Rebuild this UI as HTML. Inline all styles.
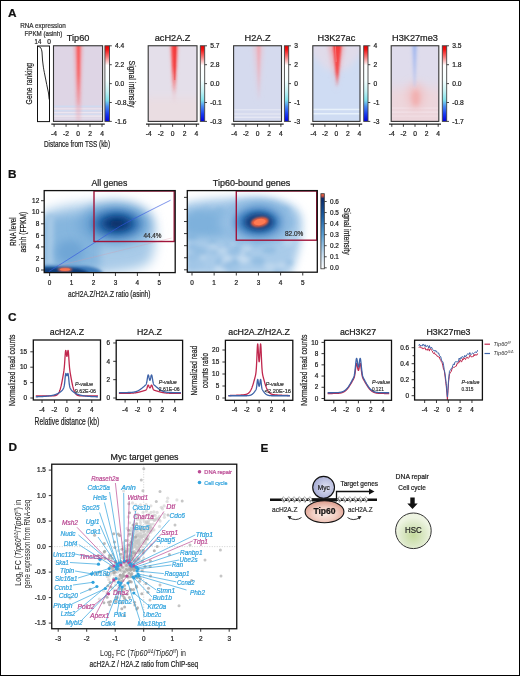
<!DOCTYPE html><html><head><meta charset="utf-8"><style>
html,body{margin:0;padding:0;background:#fff;}
svg{display:block;font-family:"Liberation Sans", sans-serif;will-change:transform;}
text{stroke-width:0.22;paint-order:stroke;}
</style></head><body>
<svg width="520" height="676" viewBox="0 0 520 676">
<defs>
<filter id="b1" x="-50%" y="-50%" width="200%" height="200%"><feGaussianBlur stdDeviation="1"/></filter>
<filter id="b15" x="-50%" y="-50%" width="200%" height="200%"><feGaussianBlur stdDeviation="1.5"/></filter>
<filter id="b2" x="-50%" y="-50%" width="200%" height="200%"><feGaussianBlur stdDeviation="2"/></filter>
<filter id="b3" x="-50%" y="-50%" width="200%" height="200%"><feGaussianBlur stdDeviation="3"/></filter>
<filter id="b4" x="-50%" y="-50%" width="200%" height="200%"><feGaussianBlur stdDeviation="4"/></filter>
<filter id="b6" x="-50%" y="-50%" width="200%" height="200%"><feGaussianBlur stdDeviation="6"/></filter>
<filter id="b8" x="-50%" y="-50%" width="200%" height="200%"><feGaussianBlur stdDeviation="8"/></filter>
<linearGradient id="cbA" x1="0" y1="0" x2="0" y2="1">
<stop offset="0" stop-color="#e80000"/><stop offset="0.05" stop-color="#f41010"/><stop offset="0.14" stop-color="#f87070"/><stop offset="0.26" stop-color="#ffffff"/>
<stop offset="0.45" stop-color="#f6ffff"/><stop offset="0.6" stop-color="#c4f2f4"/><stop offset="0.72" stop-color="#80e2ec"/><stop offset="0.8" stop-color="#4a8cf0"/><stop offset="0.9" stop-color="#1a3cf0"/><stop offset="1" stop-color="#0000e0"/></linearGradient>
<linearGradient id="cbB" x1="0" y1="0" x2="0" y2="1">
<stop offset="0" stop-color="#f06a48"/><stop offset="0.03" stop-color="#d85040"/><stop offset="0.065" stop-color="#0a2a6a"/><stop offset="0.3" stop-color="#1a5ea6"/>
<stop offset="0.55" stop-color="#5aa0d6"/><stop offset="0.8" stop-color="#c4dcf0"/><stop offset="1" stop-color="#ffffff"/></linearGradient>
<radialGradient id="hsc" cx="0.5" cy="0.62" r="0.5"><stop offset="0" stop-color="#c4da9c"/><stop offset="0.6" stop-color="#dbe8c6"/><stop offset="1" stop-color="#eef4e2"/></radialGradient>
<radialGradient id="tipg" cx="0.5" cy="0.6" r="0.6"><stop offset="0" stop-color="#fbece6"/><stop offset="0.5" stop-color="#f2cfc4"/><stop offset="1" stop-color="#dc9a8a"/></radialGradient>
<radialGradient id="mycg" cx="0.6" cy="0.5" r="0.6"><stop offset="0" stop-color="#e0e2f2"/><stop offset="1" stop-color="#a4aad4"/></radialGradient>
<clipPath id="cpB1"><rect x="44" y="190.5" width="131" height="82"/></clipPath>
<clipPath id="cpB2"><rect x="187.3" y="190.5" width="130" height="82"/></clipPath>
</defs>
<rect x="0" y="0" width="520" height="676" fill="#fff"/>

<text x="8" y="17" font-size="11.8" fill="#111" stroke="#111" font-weight="bold">A</text>
<text x="8" y="177.9" font-size="11.8" fill="#111" stroke="#111" font-weight="bold">B</text>
<text x="8" y="321" font-size="11.8" fill="#111" stroke="#111" font-weight="bold">C</text>
<text x="8.5" y="451" font-size="11.8" fill="#111" stroke="#111" font-weight="bold">D</text>
<text x="260.5" y="451.5" font-size="11.8" fill="#111" stroke="#111" font-weight="bold">E</text>
<text x="20.2" y="28.4" font-size="6.9" fill="#333" stroke="#333" textLength="45.6" lengthAdjust="spacingAndGlyphs">RNA expression</text>
<text x="24.5" y="35.9" font-size="6.9" fill="#333" stroke="#333" textLength="37.8" lengthAdjust="spacingAndGlyphs">FPKM (asinh)</text>
<text x="34.6" y="43.6" font-size="6.6" fill="#222" stroke="#222" textLength="6.6" lengthAdjust="spacingAndGlyphs">14</text>
<text x="47.3" y="43.6" font-size="6.6" fill="#222" stroke="#222">0</text>
<rect x="37.5" y="46" width="12" height="75.6" fill="#fff" stroke="#111" stroke-width="1"/>
<path d="M38.2,46.4 C40.6,46.8 41.6,48.5 42,52 L42.5,60 C43.2,66 43.6,69 44.3,72.3 L46.7,84.4 L48.5,93 L49.2,99.5" fill="none" stroke="#111" stroke-width="0.9"/>
<text x="32.2" y="83.7" font-size="9.4" fill="#222" stroke="#222" text-anchor="middle" textLength="41.4" lengthAdjust="spacingAndGlyphs" transform="rotate(-90 32.2 83.7)">Gene ranking</text>
<text x="78.05" y="40.7" font-size="9.2" fill="#1a1a1a" stroke="#1a1a1a" text-anchor="middle">Tip60</text>
<clipPath id="cp_tip"><rect x="53.5" y="45.75" width="49.099999999999994" height="75.65"/></clipPath>
<g clip-path="url(#cp_tip)">
<rect x="53.5" y="45.75" width="49.099999999999994" height="75.65" fill="#ded5e5"/>
<rect x="53.5" y="105.5" width="49.099999999999994" height="1.8" fill="#cfdaf0"/>
<rect x="53.5" y="108.3" width="49.099999999999994" height="1.0" fill="#ebe6f0"/>
<rect x="53.5" y="110" width="49.099999999999994" height="1.6" fill="#d2dbf0"/>
<rect x="53.5" y="112.2" width="49.099999999999994" height="1.0" fill="#efeaf3"/>
<rect x="53.5" y="113.6" width="49.099999999999994" height="1.4" fill="#d4dcf0"/>
<rect x="53.5" y="115.5" width="49.099999999999994" height="1.2" fill="#f0ebf3"/>
<rect x="53.5" y="117.5" width="49.099999999999994" height="1.5" fill="#e2dcea"/>
<linearGradient id="sg_tiph" x1="0" y1="0" x2="0" y2="1"><stop offset="0" stop-color="#eea2ae" stop-opacity="0.9"/><stop offset="0.7" stop-color="#eea2ae" stop-opacity="0.6"/><stop offset="1" stop-color="#eea2ae" stop-opacity="0.3"/></linearGradient>
<path d="M73.90,44.75 L82.90,44.75 L80.65,121.4 L76.15,121.4 Z" fill="url(#sg_tiph)" filter="url(#b15)"/>
<linearGradient id="sg_tipc" x1="0" y1="0" x2="0" y2="1"><stop offset="0" stop-color="#fa5452" stop-opacity="1"/><stop offset="0.5" stop-color="#fa5452" stop-opacity="0.85"/><stop offset="1" stop-color="#fa5452" stop-opacity="0.15"/></linearGradient>
<path d="M76.80,44.75 L80.20,44.75 L79.50,105 L77.50,105 Z" fill="url(#sg_tipc)" filter="url(#b1)"/>
</g>
<rect x="53.5" y="45.75" width="49.099999999999994" height="75.65" fill="none" stroke="#333" stroke-width="1.1"/>
<rect x="104.9" y="45.75" width="4.599999999999994" height="75.65" fill="url(#cbA)" stroke="#444" stroke-width="0.9"/>
<line x1="109.5" y1="45.8" x2="111.8" y2="45.8" stroke="#333" stroke-width="0.9"/>
<text x="115" y="48.0" font-size="6.7" fill="#222" stroke="#222">4.4</text>
<line x1="109.5" y1="64.69999999999999" x2="111.8" y2="64.69999999999999" stroke="#333" stroke-width="0.9"/>
<text x="115" y="66.89999999999999" font-size="6.7" fill="#222" stroke="#222">2.2</text>
<line x1="109.5" y1="83.6" x2="111.8" y2="83.6" stroke="#333" stroke-width="0.9"/>
<text x="115" y="85.8" font-size="6.7" fill="#222" stroke="#222">0.0</text>
<line x1="109.5" y1="102.5" x2="111.8" y2="102.5" stroke="#333" stroke-width="0.9"/>
<text x="115" y="104.7" font-size="6.7" fill="#222" stroke="#222">-0.8</text>
<line x1="109.5" y1="121.39999999999999" x2="111.8" y2="121.39999999999999" stroke="#333" stroke-width="0.9"/>
<text x="115" y="123.6" font-size="6.7" fill="#222" stroke="#222">-1.6</text>
<line x1="51.3" y1="124.2" x2="104.8" y2="124.2" stroke="#222" stroke-width="1.2"/>
<line x1="54.1" y1="124" x2="54.1" y2="126.8" stroke="#222" stroke-width="0.9"/>
<text x="54.1" y="135.9" font-size="6.7" fill="#222" stroke="#222" text-anchor="middle">-4</text>
<line x1="66.075" y1="124" x2="66.075" y2="126.8" stroke="#222" stroke-width="0.9"/>
<text x="66.075" y="135.9" font-size="6.7" fill="#222" stroke="#222" text-anchor="middle">-2</text>
<line x1="78.05" y1="124" x2="78.05" y2="126.8" stroke="#222" stroke-width="0.9"/>
<text x="78.05" y="135.9" font-size="6.7" fill="#222" stroke="#222" text-anchor="middle">0</text>
<line x1="90.025" y1="124" x2="90.025" y2="126.8" stroke="#222" stroke-width="0.9"/>
<text x="90.025" y="135.9" font-size="6.7" fill="#222" stroke="#222" text-anchor="middle">2</text>
<line x1="102.0" y1="124" x2="102.0" y2="126.8" stroke="#222" stroke-width="0.9"/>
<text x="102.0" y="135.9" font-size="6.7" fill="#222" stroke="#222" text-anchor="middle">4</text>
<text x="172.6" y="40.7" font-size="9.2" fill="#1a1a1a" stroke="#1a1a1a" text-anchor="middle">acH2A.Z</text>
<clipPath id="cp_ach"><rect x="148.2" y="45.75" width="48.80000000000001" height="75.65"/></clipPath>
<g clip-path="url(#cp_ach)">
<rect x="148.2" y="45.75" width="48.80000000000001" height="75.65" fill="#e4dfea"/>
<rect x="142.2" y="97.75" width="60.80000000000001" height="75.65" fill="#eadde2" filter="url(#b4)"/>
<linearGradient id="sg_achh" x1="0" y1="0" x2="0" y2="1"><stop offset="0" stop-color="#f0a8ae" stop-opacity="0.9"/><stop offset="0.6" stop-color="#f0a8ae" stop-opacity="0.6"/><stop offset="1" stop-color="#f0a8ae" stop-opacity="0"/></linearGradient>
<path d="M169.70,44.75 L178.70,44.75 L175.45,104 L172.95,104 Z" fill="url(#sg_achh)" filter="url(#b15)"/>
<linearGradient id="sg_achc" x1="0" y1="0" x2="0" y2="1"><stop offset="0" stop-color="#f83c3c" stop-opacity="1"/><stop offset="0.45" stop-color="#f83c3c" stop-opacity="0.9"/><stop offset="0.75" stop-color="#f83c3c" stop-opacity="0.4"/><stop offset="1" stop-color="#f83c3c" stop-opacity="0"/></linearGradient>
<path d="M171.50,44.75 L176.90,44.75 L175.30,94 L173.10,94 Z" fill="url(#sg_achc)" filter="url(#b1)"/>
<line x1="175.2" y1="46" x2="174.8" y2="80" stroke="#e02828" stroke-width="0.8" opacity="0.6"/>
</g>
<rect x="148.2" y="45.75" width="48.80000000000001" height="75.65" fill="none" stroke="#333" stroke-width="1.1"/>
<rect x="200.3" y="45.75" width="4.399999999999977" height="75.65" fill="url(#cbA)" stroke="#444" stroke-width="0.9"/>
<line x1="204.7" y1="45.8" x2="207.0" y2="45.8" stroke="#333" stroke-width="0.9"/>
<text x="210.2" y="48.0" font-size="6.7" fill="#222" stroke="#222">5.7</text>
<line x1="204.7" y1="64.69999999999999" x2="207.0" y2="64.69999999999999" stroke="#333" stroke-width="0.9"/>
<text x="210.2" y="66.89999999999999" font-size="6.7" fill="#222" stroke="#222">2.8</text>
<line x1="204.7" y1="83.6" x2="207.0" y2="83.6" stroke="#333" stroke-width="0.9"/>
<text x="210.2" y="85.8" font-size="6.7" fill="#222" stroke="#222">0.0</text>
<line x1="204.7" y1="102.5" x2="207.0" y2="102.5" stroke="#333" stroke-width="0.9"/>
<text x="210.2" y="104.7" font-size="6.7" fill="#222" stroke="#222">-0.1</text>
<line x1="204.7" y1="121.39999999999999" x2="207.0" y2="121.39999999999999" stroke="#333" stroke-width="0.9"/>
<text x="210.2" y="123.6" font-size="6.7" fill="#222" stroke="#222">-0.3</text>
<line x1="146.0" y1="124.2" x2="199.2" y2="124.2" stroke="#222" stroke-width="1.2"/>
<line x1="148.79999999999998" y1="124" x2="148.79999999999998" y2="126.8" stroke="#222" stroke-width="0.9"/>
<text x="148.79999999999998" y="135.9" font-size="6.7" fill="#222" stroke="#222" text-anchor="middle">-4</text>
<line x1="160.7" y1="124" x2="160.7" y2="126.8" stroke="#222" stroke-width="0.9"/>
<text x="160.7" y="135.9" font-size="6.7" fill="#222" stroke="#222" text-anchor="middle">-2</text>
<line x1="172.6" y1="124" x2="172.6" y2="126.8" stroke="#222" stroke-width="0.9"/>
<text x="172.6" y="135.9" font-size="6.7" fill="#222" stroke="#222" text-anchor="middle">0</text>
<line x1="184.5" y1="124" x2="184.5" y2="126.8" stroke="#222" stroke-width="0.9"/>
<text x="184.5" y="135.9" font-size="6.7" fill="#222" stroke="#222" text-anchor="middle">2</text>
<line x1="196.39999999999998" y1="124" x2="196.39999999999998" y2="126.8" stroke="#222" stroke-width="0.9"/>
<text x="196.39999999999998" y="135.9" font-size="6.7" fill="#222" stroke="#222" text-anchor="middle">4</text>
<text x="257.55" y="40.7" font-size="9.2" fill="#1a1a1a" stroke="#1a1a1a" text-anchor="middle">H2A.Z</text>
<clipPath id="cp_h2a"><rect x="233.6" y="45.75" width="47.900000000000006" height="75.65"/></clipPath>
<g clip-path="url(#cp_h2a)">
<rect x="233.6" y="45.75" width="47.900000000000006" height="75.65" fill="#d5daee"/>
<rect x="233.6" y="109" width="47.900000000000006" height="1.4" fill="#e2e5f3"/>
<rect x="233.6" y="113.3" width="47.900000000000006" height="1.4" fill="#e4e7f3"/>
<rect x="233.6" y="116.6" width="47.900000000000006" height="1.4" fill="#e6e8f4"/>
<linearGradient id="sg_h2ah" x1="0" y1="0" x2="0" y2="1"><stop offset="0" stop-color="#e9c0cc" stop-opacity="0.85"/><stop offset="1" stop-color="#e9c0cc" stop-opacity="0.0"/></linearGradient>
<path d="M253.40,44.75 L263.40,44.75 L259.90,104 L256.90,104 Z" fill="url(#sg_h2ah)" filter="url(#b2)"/>
<linearGradient id="sg_h2ac" x1="0" y1="0" x2="0" y2="1"><stop offset="0" stop-color="#f2a2ac" stop-opacity="0.9"/><stop offset="1" stop-color="#f2a2ac" stop-opacity="0.1"/></linearGradient>
<path d="M257.30,44.75 L260.30,44.75 L259.55,98 L258.05,98 Z" fill="url(#sg_h2ac)" filter="url(#b1)"/>
</g>
<rect x="233.6" y="45.75" width="47.900000000000006" height="75.65" fill="none" stroke="#333" stroke-width="1.1"/>
<rect x="284.4" y="45.75" width="4.300000000000011" height="75.65" fill="url(#cbA)" stroke="#444" stroke-width="0.9"/>
<line x1="288.7" y1="45.8" x2="291.0" y2="45.8" stroke="#333" stroke-width="0.9"/>
<text x="294.2" y="48.0" font-size="6.7" fill="#222" stroke="#222">3</text>
<line x1="288.7" y1="64.69999999999999" x2="291.0" y2="64.69999999999999" stroke="#333" stroke-width="0.9"/>
<text x="294.2" y="66.89999999999999" font-size="6.7" fill="#222" stroke="#222">2</text>
<line x1="288.7" y1="83.6" x2="291.0" y2="83.6" stroke="#333" stroke-width="0.9"/>
<text x="294.2" y="85.8" font-size="6.7" fill="#222" stroke="#222">0</text>
<line x1="288.7" y1="102.5" x2="291.0" y2="102.5" stroke="#333" stroke-width="0.9"/>
<text x="294.2" y="104.7" font-size="6.7" fill="#222" stroke="#222">-1</text>
<line x1="288.7" y1="121.39999999999999" x2="291.0" y2="121.39999999999999" stroke="#333" stroke-width="0.9"/>
<text x="294.2" y="123.6" font-size="6.7" fill="#222" stroke="#222">-3</text>
<line x1="231.4" y1="124.2" x2="283.7" y2="124.2" stroke="#222" stroke-width="1.2"/>
<line x1="234.2" y1="124" x2="234.2" y2="126.8" stroke="#222" stroke-width="0.9"/>
<text x="234.2" y="135.9" font-size="6.7" fill="#222" stroke="#222" text-anchor="middle">-4</text>
<line x1="245.875" y1="124" x2="245.875" y2="126.8" stroke="#222" stroke-width="0.9"/>
<text x="245.875" y="135.9" font-size="6.7" fill="#222" stroke="#222" text-anchor="middle">-2</text>
<line x1="257.55" y1="124" x2="257.55" y2="126.8" stroke="#222" stroke-width="0.9"/>
<text x="257.55" y="135.9" font-size="6.7" fill="#222" stroke="#222" text-anchor="middle">0</text>
<line x1="269.225" y1="124" x2="269.225" y2="126.8" stroke="#222" stroke-width="0.9"/>
<text x="269.225" y="135.9" font-size="6.7" fill="#222" stroke="#222" text-anchor="middle">2</text>
<line x1="280.9" y1="124" x2="280.9" y2="126.8" stroke="#222" stroke-width="0.9"/>
<text x="280.9" y="135.9" font-size="6.7" fill="#222" stroke="#222" text-anchor="middle">4</text>
<text x="336.4" y="40.7" font-size="9.2" fill="#1a1a1a" stroke="#1a1a1a" text-anchor="middle">H3K27ac</text>
<clipPath id="cp_k27ac"><rect x="312.8" y="45.75" width="47.19999999999999" height="75.65"/></clipPath>
<g clip-path="url(#cp_k27ac)">
<rect x="312.8" y="45.75" width="47.19999999999999" height="75.65" fill="#cfdcf3"/>
<path d="M309.8,42.75 L363,42.75 L363,51.75 L346.4,69.75 L326.4,69.75 L309.8,51.75 Z" fill="#e0dbea" filter="url(#b3)"/>
<rect x="312.8" y="108.7" width="47.19999999999999" height="1.5" fill="#e8f1fb"/>
<rect x="312.8" y="113" width="47.19999999999999" height="1.5" fill="#e8f1fb"/>
<linearGradient id="sg_k27h" x1="0" y1="0" x2="0" y2="1"><stop offset="0" stop-color="#eea6ae" stop-opacity="0.95"/><stop offset="1" stop-color="#eea6ae" stop-opacity="0.0"/></linearGradient>
<path d="M328.40,44.75 L344.40,44.75 L337.40,92 L335.40,92 Z" fill="url(#sg_k27h)" filter="url(#b2)"/>
<linearGradient id="sg_k27c" x1="0" y1="0" x2="0" y2="1"><stop offset="0" stop-color="#f63c3c" stop-opacity="1"/><stop offset="0.7" stop-color="#f63c3c" stop-opacity="0.85"/><stop offset="1" stop-color="#f63c3c" stop-opacity="0.2"/></linearGradient>
<path d="M332.95,44.75 L341.45,44.75 L337.70,86 L336.70,86 Z" fill="url(#sg_k27c)" filter="url(#b1)"/>
<line x1="335.4" y1="45.75" x2="336.2" y2="62" stroke="#f8c8cc" stroke-width="0.6" opacity="0.6"/>
</g>
<rect x="312.8" y="45.75" width="47.19999999999999" height="75.65" fill="none" stroke="#333" stroke-width="1.1"/>
<rect x="363.7" y="45.75" width="4.300000000000011" height="75.65" fill="url(#cbA)" stroke="#444" stroke-width="0.9"/>
<line x1="368.0" y1="45.8" x2="370.3" y2="45.8" stroke="#333" stroke-width="0.9"/>
<text x="373.5" y="48.0" font-size="6.7" fill="#222" stroke="#222">4</text>
<line x1="368.0" y1="64.69999999999999" x2="370.3" y2="64.69999999999999" stroke="#333" stroke-width="0.9"/>
<text x="373.5" y="66.89999999999999" font-size="6.7" fill="#222" stroke="#222">2</text>
<line x1="368.0" y1="83.6" x2="370.3" y2="83.6" stroke="#333" stroke-width="0.9"/>
<text x="373.5" y="85.8" font-size="6.7" fill="#222" stroke="#222">0</text>
<line x1="368.0" y1="102.5" x2="370.3" y2="102.5" stroke="#333" stroke-width="0.9"/>
<text x="373.5" y="104.7" font-size="6.7" fill="#222" stroke="#222">-1</text>
<line x1="368.0" y1="121.39999999999999" x2="370.3" y2="121.39999999999999" stroke="#333" stroke-width="0.9"/>
<text x="373.5" y="123.6" font-size="6.7" fill="#222" stroke="#222">-3</text>
<line x1="310.6" y1="124.2" x2="362.2" y2="124.2" stroke="#222" stroke-width="1.2"/>
<line x1="313.40000000000003" y1="124" x2="313.40000000000003" y2="126.8" stroke="#222" stroke-width="0.9"/>
<text x="313.40000000000003" y="135.9" font-size="6.7" fill="#222" stroke="#222" text-anchor="middle">-4</text>
<line x1="324.90000000000003" y1="124" x2="324.90000000000003" y2="126.8" stroke="#222" stroke-width="0.9"/>
<text x="324.90000000000003" y="135.9" font-size="6.7" fill="#222" stroke="#222" text-anchor="middle">-2</text>
<line x1="336.40000000000003" y1="124" x2="336.40000000000003" y2="126.8" stroke="#222" stroke-width="0.9"/>
<text x="336.40000000000003" y="135.9" font-size="6.7" fill="#222" stroke="#222" text-anchor="middle">0</text>
<line x1="347.90000000000003" y1="124" x2="347.90000000000003" y2="126.8" stroke="#222" stroke-width="0.9"/>
<text x="347.90000000000003" y="135.9" font-size="6.7" fill="#222" stroke="#222" text-anchor="middle">2</text>
<line x1="359.40000000000003" y1="124" x2="359.40000000000003" y2="126.8" stroke="#222" stroke-width="0.9"/>
<text x="359.40000000000003" y="135.9" font-size="6.7" fill="#222" stroke="#222" text-anchor="middle">4</text>
<text x="415.0" y="40.7" font-size="9.2" fill="#1a1a1a" stroke="#1a1a1a" text-anchor="middle">H3K27me3</text>
<clipPath id="cp_me3"><rect x="391.2" y="45.75" width="47.60000000000002" height="75.65"/></clipPath>
<g clip-path="url(#cp_me3)">
<rect x="391.2" y="45.75" width="47.60000000000002" height="75.65" fill="#dfdcec"/>
<rect x="385.2" y="87.75" width="59.60000000000002" height="75.65" fill="#edd6dc" filter="url(#b6)"/>
<rect x="391.2" y="107.5" width="47.60000000000002" height="1.2" fill="#f1dfe6"/>
<rect x="391.2" y="111.5" width="47.60000000000002" height="1.2" fill="#f3e2e8"/>
<rect x="391.2" y="115.5" width="47.60000000000002" height="1.2" fill="#f1dde3"/>
<ellipse cx="415.8" cy="96" rx="9" ry="13" fill="#efc4c8" filter="url(#b4)"/>
<ellipse cx="415.8" cy="98" rx="4" ry="8" fill="#f2b0b0" filter="url(#b2)"/>
<linearGradient id="sg_me3bh" x1="0" y1="0" x2="0" y2="1"><stop offset="0" stop-color="#c4cdef" stop-opacity="0.9"/><stop offset="1" stop-color="#c4cdef" stop-opacity="0.2"/></linearGradient>
<path d="M411.10,44.75 L418.10,44.75 L416.10,88 L413.10,88 Z" fill="url(#sg_me3bh)" filter="url(#b15)"/>
<linearGradient id="sg_me3b" x1="0" y1="0" x2="0" y2="1"><stop offset="0" stop-color="#a4b8ee" stop-opacity="1"/><stop offset="1" stop-color="#a4b8ee" stop-opacity="0.3"/></linearGradient>
<path d="M413.00,44.75 L416.20,44.75 L415.30,86 L413.90,86 Z" fill="url(#sg_me3b)" filter="url(#b1)"/>
</g>
<rect x="391.2" y="45.75" width="47.60000000000002" height="75.65" fill="none" stroke="#333" stroke-width="1.1"/>
<rect x="442.3" y="45.75" width="4.399999999999977" height="75.65" fill="url(#cbA)" stroke="#444" stroke-width="0.9"/>
<line x1="446.7" y1="45.8" x2="449.0" y2="45.8" stroke="#333" stroke-width="0.9"/>
<text x="452.2" y="48.0" font-size="6.7" fill="#222" stroke="#222">3.5</text>
<line x1="446.7" y1="64.69999999999999" x2="449.0" y2="64.69999999999999" stroke="#333" stroke-width="0.9"/>
<text x="452.2" y="66.89999999999999" font-size="6.7" fill="#222" stroke="#222">1.8</text>
<line x1="446.7" y1="83.6" x2="449.0" y2="83.6" stroke="#333" stroke-width="0.9"/>
<text x="452.2" y="85.8" font-size="6.7" fill="#222" stroke="#222">0.0</text>
<line x1="446.7" y1="102.5" x2="449.0" y2="102.5" stroke="#333" stroke-width="0.9"/>
<text x="452.2" y="104.7" font-size="6.7" fill="#222" stroke="#222">-0.8</text>
<line x1="446.7" y1="121.39999999999999" x2="449.0" y2="121.39999999999999" stroke="#333" stroke-width="0.9"/>
<text x="452.2" y="123.6" font-size="6.7" fill="#222" stroke="#222">-1.7</text>
<line x1="389.0" y1="124.2" x2="441.0" y2="124.2" stroke="#222" stroke-width="1.2"/>
<line x1="391.8" y1="124" x2="391.8" y2="126.8" stroke="#222" stroke-width="0.9"/>
<text x="391.8" y="135.9" font-size="6.7" fill="#222" stroke="#222" text-anchor="middle">-4</text>
<line x1="403.40000000000003" y1="124" x2="403.40000000000003" y2="126.8" stroke="#222" stroke-width="0.9"/>
<text x="403.40000000000003" y="135.9" font-size="6.7" fill="#222" stroke="#222" text-anchor="middle">-2</text>
<line x1="415.0" y1="124" x2="415.0" y2="126.8" stroke="#222" stroke-width="0.9"/>
<text x="415.0" y="135.9" font-size="6.7" fill="#222" stroke="#222" text-anchor="middle">0</text>
<line x1="426.6" y1="124" x2="426.6" y2="126.8" stroke="#222" stroke-width="0.9"/>
<text x="426.6" y="135.9" font-size="6.7" fill="#222" stroke="#222" text-anchor="middle">2</text>
<line x1="438.20000000000005" y1="124" x2="438.20000000000005" y2="126.8" stroke="#222" stroke-width="0.9"/>
<text x="438.20000000000005" y="135.9" font-size="6.7" fill="#222" stroke="#222" text-anchor="middle">4</text>
<text x="129.3" y="60.5" font-size="9.4" fill="#222" stroke="#222" textLength="47" lengthAdjust="spacingAndGlyphs" transform="rotate(90 129.3 60.5)">Signal intensity</text>
<text x="44" y="147.4" font-size="9.8" fill="#222" stroke="#222" textLength="66" lengthAdjust="spacingAndGlyphs">Distance from TSS (kb)</text>
<text x="109.4" y="185.8" font-size="9" fill="#1a1a1a" stroke="#1a1a1a" text-anchor="middle" textLength="35.8" lengthAdjust="spacingAndGlyphs">All genes</text>
<text x="251.5" y="186" font-size="9" fill="#1a1a1a" stroke="#1a1a1a" text-anchor="middle" textLength="77.5" lengthAdjust="spacingAndGlyphs">Tip60-bound genes</text>
<g clip-path="url(#cpB1)">
<rect x="44" y="190" width="132" height="83" fill="#fff"/>
<path d="M40,214 C55,206 80,203 100,204 C125,202 140,206 150,215 C158,228 156,250 150,262 C140,272 100,276 40,276 Z" fill="#a9cbe8" filter="url(#b6)"/>
<path d="M40,222 C60,214 85,214 100,218 L100,268 L40,268 Z" fill="#86b6de" filter="url(#b4)"/>
<rect x="46" y="215" width="8" height="50" fill="#a4c8e6" filter="url(#b2)"/>
<ellipse cx="70" cy="252" rx="14" ry="12" fill="#6fa6d6" filter="url(#b4)"/>
<ellipse cx="115" cy="224" rx="36" ry="21" fill="#6fa6d6" filter="url(#b6)"/>
<ellipse cx="116" cy="223.8" rx="24" ry="13" fill="#2a6aae" filter="url(#b4)"/>
<ellipse cx="116.8" cy="223.6" rx="15" ry="8" fill="#0c4282" filter="url(#b3)"/>
<ellipse cx="116.8" cy="223.6" rx="7" ry="3.6" fill="#08336c" filter="url(#b2)"/>
<path d="M40,265.5 L85,266 C95,267 100,269 104,274 L40,275 Z" fill="#3a78b8" filter="url(#b15)"/>
<path d="M40,267.5 L70,268 C80,268.5 86,270 90,274 L40,275 Z" fill="#0f3c7a" filter="url(#b1)"/>
<ellipse cx="65" cy="269.6" rx="7.3" ry="2" fill="#f26a48" filter="url(#b1)"/>
<ellipse cx="65" cy="269.6" rx="5" ry="1.3" fill="#fa7450"/>
<path d="M48.6,271.8 L96.3,241.6 C105,236 112,231 120.9,225.8 C135,218 150,210.5 170.6,200.2" fill="none" stroke="#3456e0" stroke-width="0.75" opacity="0.85"/>
<line x1="58" y1="265.8" x2="171.6" y2="238" stroke="#d898a8" stroke-width="0.5" opacity="0.6"/>
</g>
<rect x="94" y="191" width="80.2" height="50.5" fill="none" stroke="#a0143a" stroke-width="1.4"/>
<rect x="44.2" y="190.6" width="131" height="82" fill="none" stroke="#111" stroke-width="1.3"/>
<text x="143.5" y="237.6" font-size="6.4" fill="#333" stroke="#333" textLength="18" lengthAdjust="spacingAndGlyphs">44.4%</text>
<line x1="41" y1="270.0" x2="44" y2="270.0" stroke="#222" stroke-width="0.9"/>
<text x="39.2" y="272.2" font-size="6.4" fill="#222" stroke="#222" text-anchor="end">0</text>
<line x1="41" y1="258.45" x2="44" y2="258.45" stroke="#222" stroke-width="0.9"/>
<text x="39.2" y="260.65" font-size="6.4" fill="#222" stroke="#222" text-anchor="end">2</text>
<line x1="41" y1="246.9" x2="44" y2="246.9" stroke="#222" stroke-width="0.9"/>
<text x="39.2" y="249.1" font-size="6.4" fill="#222" stroke="#222" text-anchor="end">4</text>
<line x1="41" y1="235.35" x2="44" y2="235.35" stroke="#222" stroke-width="0.9"/>
<text x="39.2" y="237.54999999999998" font-size="6.4" fill="#222" stroke="#222" text-anchor="end">6</text>
<line x1="41" y1="223.8" x2="44" y2="223.8" stroke="#222" stroke-width="0.9"/>
<text x="39.2" y="226.0" font-size="6.4" fill="#222" stroke="#222" text-anchor="end">8</text>
<line x1="41" y1="212.25" x2="44" y2="212.25" stroke="#222" stroke-width="0.9"/>
<text x="39.2" y="214.45" font-size="6.4" fill="#222" stroke="#222" text-anchor="end">10</text>
<line x1="41" y1="200.7" x2="44" y2="200.7" stroke="#222" stroke-width="0.9"/>
<text x="39.2" y="202.89999999999998" font-size="6.4" fill="#222" stroke="#222" text-anchor="end">12</text>
<line x1="49.6" y1="273" x2="49.6" y2="276" stroke="#222" stroke-width="0.9"/>
<text x="49.6" y="284.6" font-size="6.4" fill="#222" stroke="#222" text-anchor="middle">0</text>
<line x1="71.55" y1="273" x2="71.55" y2="276" stroke="#222" stroke-width="0.9"/>
<text x="71.55" y="284.6" font-size="6.4" fill="#222" stroke="#222" text-anchor="middle">1</text>
<line x1="93.5" y1="273" x2="93.5" y2="276" stroke="#222" stroke-width="0.9"/>
<text x="93.5" y="284.6" font-size="6.4" fill="#222" stroke="#222" text-anchor="middle">2</text>
<line x1="115.44999999999999" y1="273" x2="115.44999999999999" y2="276" stroke="#222" stroke-width="0.9"/>
<text x="115.44999999999999" y="284.6" font-size="6.4" fill="#222" stroke="#222" text-anchor="middle">3</text>
<line x1="137.4" y1="273" x2="137.4" y2="276" stroke="#222" stroke-width="0.9"/>
<text x="137.4" y="284.6" font-size="6.4" fill="#222" stroke="#222" text-anchor="middle">4</text>
<line x1="159.35" y1="273" x2="159.35" y2="276" stroke="#222" stroke-width="0.9"/>
<text x="159.35" y="284.6" font-size="6.4" fill="#222" stroke="#222" text-anchor="middle">5</text>
<text x="15.6" y="231.6" font-size="9.7" fill="#222" stroke="#222" text-anchor="middle" textLength="28.8" lengthAdjust="spacingAndGlyphs" transform="rotate(-90 15.6 231.6)">RNA level</text>
<text x="26" y="232.2" font-size="9.7" fill="#222" stroke="#222" text-anchor="middle" textLength="40.7" lengthAdjust="spacingAndGlyphs" transform="rotate(-90 26 232.2)">asinh (FPKM)</text>
<text x="68.1" y="297" font-size="9.4" fill="#222" stroke="#222" textLength="82.3" lengthAdjust="spacingAndGlyphs">acH2A.Z/H2A.Z ratio (asinh)</text>
<g clip-path="url(#cpB2)">
<rect x="187" y="190" width="131" height="83" fill="#fff"/>
<path d="M183,204 C200,199 230,197 260,199 C285,200 300,205 302,220 C303,240 296,262 290,276 L183,276 Z" fill="#a9cbe9" filter="url(#b4)"/>
<g filter="url(#b2)">
<ellipse cx="212.7" cy="241.9" rx="4.4" ry="2.9" fill="#8cb9e0" opacity="0.7"/>
<ellipse cx="237.3" cy="244.3" rx="5.3" ry="3.5" fill="#d0e3f3" opacity="0.7"/>
<ellipse cx="215.0" cy="221.5" rx="6.7" ry="4.5" fill="#d0e3f3" opacity="0.7"/>
<ellipse cx="244.3" cy="242.3" rx="4.5" ry="3.0" fill="#9cc3e5" opacity="0.7"/>
<ellipse cx="212.1" cy="216.0" rx="6.5" ry="4.3" fill="#d0e3f3" opacity="0.7"/>
<ellipse cx="265.1" cy="250.3" rx="3.2" ry="2.2" fill="#8cb9e0" opacity="0.7"/>
<ellipse cx="192.5" cy="257.5" rx="6.1" ry="4.1" fill="#94bee3" opacity="0.7"/>
<ellipse cx="237.2" cy="253.4" rx="6.3" ry="4.2" fill="#d0e3f3" opacity="0.7"/>
<ellipse cx="229.1" cy="258.9" rx="4.7" ry="3.1" fill="#9cc3e5" opacity="0.7"/>
<ellipse cx="279.4" cy="212.4" rx="3.5" ry="2.3" fill="#9cc3e5" opacity="0.7"/>
<ellipse cx="214.8" cy="250.4" rx="5.9" ry="3.9" fill="#94bee3" opacity="0.7"/>
<ellipse cx="231.8" cy="261.0" rx="5.2" ry="3.4" fill="#8cb9e0" opacity="0.7"/>
<ellipse cx="248.8" cy="244.6" rx="6.4" ry="4.3" fill="#c4dcf0" opacity="0.7"/>
<ellipse cx="277.1" cy="271.4" rx="5.5" ry="3.7" fill="#9cc3e5" opacity="0.7"/>
<ellipse cx="260.7" cy="227.5" rx="5.0" ry="3.4" fill="#8cb9e0" opacity="0.7"/>
<ellipse cx="247.2" cy="253.1" rx="3.8" ry="2.5" fill="#8cb9e0" opacity="0.7"/>
<ellipse cx="215.8" cy="214.2" rx="4.8" ry="3.2" fill="#d0e3f3" opacity="0.7"/>
<ellipse cx="197.2" cy="258.8" rx="4.5" ry="3.0" fill="#9cc3e5" opacity="0.7"/>
<ellipse cx="190.1" cy="234.2" rx="4.6" ry="3.0" fill="#c4dcf0" opacity="0.7"/>
<ellipse cx="192.6" cy="246.6" rx="3.2" ry="2.1" fill="#8cb9e0" opacity="0.7"/>
<ellipse cx="222.4" cy="264.1" rx="6.7" ry="4.5" fill="#8cb9e0" opacity="0.7"/>
<ellipse cx="212.5" cy="208.4" rx="3.0" ry="2.0" fill="#c4dcf0" opacity="0.7"/>
<ellipse cx="250.4" cy="208.1" rx="3.7" ry="2.5" fill="#d0e3f3" opacity="0.7"/>
<ellipse cx="218.3" cy="223.4" rx="5.6" ry="3.7" fill="#94bee3" opacity="0.7"/>
<ellipse cx="220.6" cy="269.3" rx="6.4" ry="4.2" fill="#d0e3f3" opacity="0.7"/>
<ellipse cx="227.2" cy="263.4" rx="4.4" ry="3.0" fill="#8cb9e0" opacity="0.7"/>
<ellipse cx="258.8" cy="212.8" rx="6.6" ry="4.4" fill="#8cb9e0" opacity="0.7"/>
<ellipse cx="216.2" cy="247.9" rx="5.7" ry="3.8" fill="#94bee3" opacity="0.7"/>
<ellipse cx="233.5" cy="223.0" rx="4.1" ry="2.8" fill="#94bee3" opacity="0.7"/>
<ellipse cx="189.2" cy="233.4" rx="5.2" ry="3.4" fill="#c4dcf0" opacity="0.7"/>
<ellipse cx="227.2" cy="244.9" rx="3.5" ry="2.3" fill="#94bee3" opacity="0.7"/>
<ellipse cx="236.5" cy="250.8" rx="4.3" ry="2.9" fill="#94bee3" opacity="0.7"/>
<ellipse cx="264.8" cy="207.5" rx="3.2" ry="2.2" fill="#c4dcf0" opacity="0.7"/>
<ellipse cx="288.2" cy="222.6" rx="4.7" ry="3.1" fill="#8cb9e0" opacity="0.7"/>
<ellipse cx="250.6" cy="217.7" rx="3.7" ry="2.5" fill="#94bee3" opacity="0.7"/>
<ellipse cx="275.8" cy="223.4" rx="6.0" ry="4.0" fill="#c4dcf0" opacity="0.7"/>
<ellipse cx="268.3" cy="207.8" rx="5.1" ry="3.4" fill="#9cc3e5" opacity="0.7"/>
<ellipse cx="220.2" cy="220.7" rx="6.0" ry="4.0" fill="#9cc3e5" opacity="0.7"/>
<ellipse cx="222.1" cy="250.8" rx="5.4" ry="3.6" fill="#c4dcf0" opacity="0.7"/>
<ellipse cx="198.6" cy="227.2" rx="4.3" ry="2.8" fill="#9cc3e5" opacity="0.7"/>
<ellipse cx="233.6" cy="262.5" rx="3.6" ry="2.4" fill="#94bee3" opacity="0.7"/>
<ellipse cx="265.2" cy="220.4" rx="5.1" ry="3.4" fill="#94bee3" opacity="0.7"/>
<ellipse cx="211.4" cy="214.0" rx="5.0" ry="3.3" fill="#9cc3e5" opacity="0.7"/>
<ellipse cx="220.8" cy="261.2" rx="5.2" ry="3.4" fill="#94bee3" opacity="0.7"/>
<ellipse cx="223.4" cy="260.6" rx="3.3" ry="2.2" fill="#8cb9e0" opacity="0.7"/>
<ellipse cx="223.9" cy="214.6" rx="4.1" ry="2.7" fill="#94bee3" opacity="0.7"/>
<ellipse cx="236.3" cy="247.9" rx="4.1" ry="2.7" fill="#8cb9e0" opacity="0.7"/>
<ellipse cx="230.6" cy="266.8" rx="3.6" ry="2.4" fill="#c4dcf0" opacity="0.7"/>
<ellipse cx="237.6" cy="260.9" rx="5.3" ry="3.6" fill="#8cb9e0" opacity="0.7"/>
<ellipse cx="233.2" cy="268.7" rx="6.5" ry="4.3" fill="#9cc3e5" opacity="0.7"/>
<ellipse cx="191.4" cy="236.1" rx="5.8" ry="3.9" fill="#8cb9e0" opacity="0.7"/>
<ellipse cx="288.2" cy="241.9" rx="6.3" ry="4.2" fill="#c4dcf0" opacity="0.7"/>
<ellipse cx="277.2" cy="270.1" rx="3.4" ry="2.3" fill="#9cc3e5" opacity="0.7"/>
<ellipse cx="192.7" cy="265.6" rx="5.6" ry="3.7" fill="#9cc3e5" opacity="0.7"/>
<ellipse cx="281.2" cy="265.4" rx="5.2" ry="3.4" fill="#c4dcf0" opacity="0.7"/>
<ellipse cx="238.0" cy="214.0" rx="4.9" ry="3.3" fill="#9cc3e5" opacity="0.7"/>
<ellipse cx="256.9" cy="240.6" rx="4.6" ry="3.0" fill="#8cb9e0" opacity="0.7"/>
<ellipse cx="199.8" cy="214.3" rx="6.6" ry="4.4" fill="#8cb9e0" opacity="0.7"/>
<ellipse cx="237.6" cy="257.6" rx="4.3" ry="2.9" fill="#9cc3e5" opacity="0.7"/>
<ellipse cx="200.7" cy="264.6" rx="3.4" ry="2.3" fill="#9cc3e5" opacity="0.7"/>
<ellipse cx="270.3" cy="266.8" rx="6.0" ry="4.0" fill="#c4dcf0" opacity="0.7"/>
<ellipse cx="238.7" cy="243.7" rx="4.5" ry="3.0" fill="#94bee3" opacity="0.7"/>
<ellipse cx="213.8" cy="246.8" rx="4.9" ry="3.3" fill="#c4dcf0" opacity="0.7"/>
<ellipse cx="237.2" cy="257.2" rx="3.0" ry="2.0" fill="#c4dcf0" opacity="0.7"/>
<ellipse cx="268.6" cy="209.0" rx="3.2" ry="2.1" fill="#d0e3f3" opacity="0.7"/>
<ellipse cx="289.4" cy="262.4" rx="3.3" ry="2.2" fill="#8cb9e0" opacity="0.7"/>
<ellipse cx="239.0" cy="216.4" rx="3.3" ry="2.2" fill="#d0e3f3" opacity="0.7"/>
<ellipse cx="255.3" cy="244.7" rx="4.4" ry="2.9" fill="#9cc3e5" opacity="0.7"/>
<ellipse cx="290.8" cy="234.3" rx="3.5" ry="2.3" fill="#c4dcf0" opacity="0.7"/>
<ellipse cx="262.5" cy="231.1" rx="3.3" ry="2.2" fill="#9cc3e5" opacity="0.7"/>
<ellipse cx="192.5" cy="236.4" rx="5.4" ry="3.6" fill="#8cb9e0" opacity="0.7"/>
<ellipse cx="227.5" cy="258.9" rx="5.3" ry="3.6" fill="#d0e3f3" opacity="0.7"/>
<ellipse cx="193.5" cy="247.4" rx="5.9" ry="3.9" fill="#94bee3" opacity="0.7"/>
<ellipse cx="231.7" cy="251.8" rx="4.7" ry="3.2" fill="#9cc3e5" opacity="0.7"/>
<ellipse cx="210.7" cy="223.8" rx="5.2" ry="3.5" fill="#d0e3f3" opacity="0.7"/>
<ellipse cx="211.3" cy="214.6" rx="3.1" ry="2.1" fill="#94bee3" opacity="0.7"/>
<ellipse cx="226.9" cy="265.3" rx="6.0" ry="4.0" fill="#94bee3" opacity="0.7"/>
<ellipse cx="200.6" cy="251.6" rx="6.5" ry="4.3" fill="#8cb9e0" opacity="0.7"/>
<ellipse cx="270.4" cy="250.1" rx="5.8" ry="3.8" fill="#8cb9e0" opacity="0.7"/>
<ellipse cx="243.3" cy="259.6" rx="5.7" ry="3.8" fill="#d0e3f3" opacity="0.7"/>
<ellipse cx="202.9" cy="257.1" rx="3.2" ry="2.1" fill="#c4dcf0" opacity="0.7"/>
<ellipse cx="246.7" cy="249.5" rx="4.4" ry="2.9" fill="#c4dcf0" opacity="0.7"/>
<ellipse cx="223.5" cy="262.3" rx="3.1" ry="2.1" fill="#c4dcf0" opacity="0.7"/>
<ellipse cx="258.0" cy="261.2" rx="6.6" ry="4.4" fill="#8cb9e0" opacity="0.7"/>
<ellipse cx="219.1" cy="211.9" rx="6.7" ry="4.5" fill="#8cb9e0" opacity="0.7"/>
<ellipse cx="241.2" cy="253.2" rx="3.4" ry="2.3" fill="#c4dcf0" opacity="0.7"/>
<ellipse cx="285.2" cy="210.0" rx="4.2" ry="2.8" fill="#8cb9e0" opacity="0.7"/>
<ellipse cx="206.8" cy="211.1" rx="6.7" ry="4.5" fill="#9cc3e5" opacity="0.7"/>
<ellipse cx="235.2" cy="252.2" rx="6.5" ry="4.4" fill="#94bee3" opacity="0.7"/>
<ellipse cx="226.2" cy="232.2" rx="4.3" ry="2.9" fill="#d0e3f3" opacity="0.7"/>
</g>
<path d="M183,212 C210,208 235,210 250,212 L250,236 C235,238 210,238 183,236 Z" fill="#7eb1dc" filter="url(#b4)"/>
<ellipse cx="259" cy="222" rx="32" ry="20" fill="#6ea6d6" filter="url(#b4)"/>
<ellipse cx="260" cy="222" rx="23" ry="14" fill="#2a6aae" filter="url(#b3)"/>
<ellipse cx="260" cy="222" rx="16" ry="9.5" fill="#0a3573" filter="url(#b2)"/>
<path d="M251,223.5 C253,219 257,217 262,217 C266,217 269,219.5 269,221 C268,224 263,227 257,227 C253,227 251,225.5 251,223.5 Z" fill="#ee5e40" filter="url(#b1)"/>
<path d="M253,223.2 C255,220 258,218.5 262,218.5 C265,218.5 267,220 267,221 C266,223.5 262,225.5 258,225.5 C255,225.5 253,224.5 253,223.2 Z" fill="#f87050"/>
</g>
<ellipse cx="256" cy="222" rx="36" ry="22" fill="#9cc3e6" filter="url(#b6)"/>
<ellipse cx="258" cy="222" rx="24" ry="15" fill="#3f82c2" filter="url(#b4)"/>
<ellipse cx="259" cy="222" rx="15" ry="9" fill="#0b3a7a" filter="url(#b3)"/>
<ellipse cx="259.8" cy="222" rx="9" ry="4.8" fill="#f0603e" filter="url(#b1)" transform="rotate(-10 259.8 222)"/>
<ellipse cx="259.8" cy="222" rx="6" ry="3" fill="#ff7a52" transform="rotate(-10 259.8 222)"/>
</g>
<rect x="236.3" y="191" width="80.4" height="49.2" fill="none" stroke="#a0143a" stroke-width="1.4"/>
<rect x="187.3" y="190.6" width="130" height="81.6" fill="none" stroke="#111" stroke-width="1.3"/>
<text x="285" y="236.2" font-size="6.4" fill="#333" stroke="#333" textLength="18.3" lengthAdjust="spacingAndGlyphs">82.0%</text>
<line x1="184" y1="269.8" x2="187.3" y2="269.8" stroke="#222" stroke-width="0.9"/>
<line x1="184" y1="257.73" x2="187.3" y2="257.73" stroke="#222" stroke-width="0.9"/>
<line x1="184" y1="245.66000000000003" x2="187.3" y2="245.66000000000003" stroke="#222" stroke-width="0.9"/>
<line x1="184" y1="233.59" x2="187.3" y2="233.59" stroke="#222" stroke-width="0.9"/>
<line x1="184" y1="221.52" x2="187.3" y2="221.52" stroke="#222" stroke-width="0.9"/>
<line x1="184" y1="209.45000000000002" x2="187.3" y2="209.45000000000002" stroke="#222" stroke-width="0.9"/>
<line x1="184" y1="197.38" x2="187.3" y2="197.38" stroke="#222" stroke-width="0.9"/>
<line x1="192.0" y1="272.5" x2="192.0" y2="275.5" stroke="#222" stroke-width="0.9"/>
<text x="192.0" y="284.8" font-size="6.4" fill="#222" stroke="#222" text-anchor="middle">0</text>
<line x1="214.15" y1="272.5" x2="214.15" y2="275.5" stroke="#222" stroke-width="0.9"/>
<text x="214.15" y="284.8" font-size="6.4" fill="#222" stroke="#222" text-anchor="middle">1</text>
<line x1="236.3" y1="272.5" x2="236.3" y2="275.5" stroke="#222" stroke-width="0.9"/>
<text x="236.3" y="284.8" font-size="6.4" fill="#222" stroke="#222" text-anchor="middle">2</text>
<line x1="258.45" y1="272.5" x2="258.45" y2="275.5" stroke="#222" stroke-width="0.9"/>
<text x="258.45" y="284.8" font-size="6.4" fill="#222" stroke="#222" text-anchor="middle">3</text>
<line x1="280.6" y1="272.5" x2="280.6" y2="275.5" stroke="#222" stroke-width="0.9"/>
<text x="280.6" y="284.8" font-size="6.4" fill="#222" stroke="#222" text-anchor="middle">4</text>
<line x1="302.75" y1="272.5" x2="302.75" y2="275.5" stroke="#222" stroke-width="0.9"/>
<text x="302.75" y="284.8" font-size="6.4" fill="#222" stroke="#222" text-anchor="middle">5</text>
<rect x="320.9" y="193.7" width="3.4" height="75.1" fill="url(#cbB)" stroke="#333" stroke-width="0.8"/>
<line x1="324.3" y1="267.8" x2="326.7" y2="267.8" stroke="#333" stroke-width="0.9"/>
<text x="329.9" y="270.1" font-size="6.6" fill="#222" stroke="#222" textLength="8.9" lengthAdjust="spacingAndGlyphs">0.0</text>
<line x1="324.3" y1="256.75" x2="326.7" y2="256.75" stroke="#333" stroke-width="0.9"/>
<text x="329.9" y="259.05" font-size="6.6" fill="#222" stroke="#222" textLength="8.9" lengthAdjust="spacingAndGlyphs">0.1</text>
<line x1="324.3" y1="245.70000000000002" x2="326.7" y2="245.70000000000002" stroke="#333" stroke-width="0.9"/>
<text x="329.9" y="248.00000000000003" font-size="6.6" fill="#222" stroke="#222" textLength="8.9" lengthAdjust="spacingAndGlyphs">0.2</text>
<line x1="324.3" y1="234.65" x2="326.7" y2="234.65" stroke="#333" stroke-width="0.9"/>
<text x="329.9" y="236.95000000000002" font-size="6.6" fill="#222" stroke="#222" textLength="8.9" lengthAdjust="spacingAndGlyphs">0.3</text>
<line x1="324.3" y1="223.60000000000002" x2="326.7" y2="223.60000000000002" stroke="#333" stroke-width="0.9"/>
<text x="329.9" y="225.90000000000003" font-size="6.6" fill="#222" stroke="#222" textLength="8.9" lengthAdjust="spacingAndGlyphs">0.4</text>
<line x1="324.3" y1="212.55" x2="326.7" y2="212.55" stroke="#333" stroke-width="0.9"/>
<text x="329.9" y="214.85000000000002" font-size="6.6" fill="#222" stroke="#222" textLength="8.9" lengthAdjust="spacingAndGlyphs">0.5</text>
<line x1="324.3" y1="201.5" x2="326.7" y2="201.5" stroke="#333" stroke-width="0.9"/>
<text x="329.9" y="203.8" font-size="6.6" fill="#222" stroke="#222" textLength="8.9" lengthAdjust="spacingAndGlyphs">0.6</text>
<text x="344.2" y="207.7" font-size="9.4" fill="#222" stroke="#222" textLength="47" lengthAdjust="spacingAndGlyphs" transform="rotate(90 344.2 207.7)">Signal intensity</text>
<text x="66.9" y="335" font-size="8.8" fill="#1a1a1a" stroke="#1a1a1a" text-anchor="middle">acH2A.Z</text>
<polyline points="35.80,395.86 35.96,395.86 36.11,395.86 36.27,395.86 36.42,395.86 36.58,395.86 36.73,395.86 36.89,395.86 37.04,395.86 37.20,395.86 37.36,395.86 37.51,395.86 37.67,395.86 37.82,395.86 37.98,395.86 38.13,395.86 38.29,395.86 38.44,395.86 38.60,395.86 38.75,395.86 38.91,395.86 39.07,395.86 39.22,395.86 39.38,395.86 39.53,395.86 39.69,395.86 39.84,395.86 40.00,395.86 40.15,395.86 40.31,395.86 40.47,395.86 40.62,395.86 40.78,395.86 40.93,395.86 41.09,395.86 41.24,395.86 41.40,395.86 41.55,395.86 41.71,395.86 41.86,395.86 42.02,395.86 42.18,395.86 42.33,395.86 42.49,395.86 42.64,395.86 42.80,395.86 42.95,395.86 43.11,395.86 43.26,395.86 43.42,395.86 43.58,395.86 43.73,395.86 43.89,395.86 44.04,395.86 44.20,395.86 44.35,395.86 44.51,395.86 44.66,395.86 44.82,395.86 44.97,395.86 45.13,395.86 45.29,395.86 45.44,395.86 45.60,395.86 45.75,395.86 45.91,395.86 46.06,395.86 46.22,395.86 46.37,395.86 46.53,395.86 46.69,395.86 46.84,395.86 47.00,395.86 47.15,395.86 47.31,395.86 47.46,395.86 47.62,395.86 47.77,395.86 47.93,395.86 48.08,395.86 48.24,395.86 48.40,395.86 48.55,395.86 48.71,395.86 48.86,395.86 49.02,395.86 49.17,395.86 49.33,395.86 49.48,395.86 49.64,395.86 49.80,395.86 49.95,395.86 50.11,395.86 50.26,395.86 50.42,395.86 50.57,395.86 50.73,395.86 50.88,395.86 51.04,395.86 51.19,395.85 51.35,395.85 51.51,395.85 51.66,395.85 51.82,395.85 51.97,395.85 52.13,395.85 52.28,395.85 52.44,395.84 52.59,395.84 52.75,395.84 52.91,395.83 53.06,395.83 53.22,395.82 53.37,395.82 53.53,395.81 53.68,395.80 53.84,395.79 53.99,395.78 54.15,395.77 54.30,395.75 54.46,395.74 54.62,395.72 54.77,395.70 54.93,395.68 55.08,395.65 55.24,395.62 55.39,395.59 55.55,395.55 55.70,395.51 55.86,395.46 56.02,395.41 56.17,395.35 56.33,395.28 56.48,395.21 56.64,395.13 56.79,395.04 56.95,394.94 57.10,394.83 57.26,394.71 57.41,394.58 57.57,394.44 57.73,394.28 57.88,394.11 58.04,393.92 58.19,393.72 58.35,393.50 58.50,393.26 58.66,393.00 58.81,392.73 58.97,392.43 59.13,392.11 59.28,391.76 59.44,391.40 59.59,391.01 59.75,390.59 59.90,390.15 60.06,389.69 60.21,389.19 60.37,388.67 60.52,388.13 60.68,387.55 60.84,386.95 60.99,386.33 61.15,385.68 61.30,385.00 61.46,384.30 61.61,383.57 61.77,382.82 61.92,382.05 62.08,381.26 62.24,380.45 62.39,379.63 62.55,378.79 62.70,377.94 62.86,377.08 63.01,376.21 63.17,375.33 63.32,374.44 63.48,373.52 63.63,372.56 63.79,371.54 63.95,370.43 64.10,369.16 64.26,367.70 64.41,366.00 64.57,364.04 64.72,361.83 64.88,359.46 65.03,357.03 65.19,354.74 65.34,352.77 65.50,351.31 65.66,350.50 65.81,350.37 65.97,350.86 66.12,351.83 66.28,353.08 66.43,354.36 66.59,355.45 66.74,356.19 66.90,356.44 67.06,356.19 67.21,355.45 67.37,354.36 67.52,353.08 67.68,351.83 67.83,350.86 67.99,350.37 68.14,350.50 68.30,351.31 68.46,352.77 68.61,354.74 68.77,357.03 68.92,359.46 69.08,361.83 69.23,364.04 69.39,366.00 69.54,367.70 69.70,369.16 69.85,370.43 70.01,371.54 70.17,372.56 70.32,373.52 70.48,374.44 70.63,375.33 70.79,376.21 70.94,377.08 71.10,377.94 71.25,378.79 71.41,379.63 71.57,380.45 71.72,381.26 71.88,382.05 72.03,382.82 72.19,383.57 72.34,384.30 72.50,385.00 72.65,385.68 72.81,386.33 72.96,386.95 73.12,387.55 73.28,388.13 73.43,388.67 73.59,389.19 73.74,389.69 73.90,390.15 74.05,390.59 74.21,391.01 74.36,391.40 74.52,391.76 74.68,392.11 74.83,392.43 74.99,392.73 75.14,393.00 75.30,393.26 75.45,393.50 75.61,393.72 75.76,393.92 75.92,394.11 76.07,394.28 76.23,394.44 76.39,394.58 76.54,394.71 76.70,394.83 76.85,394.94 77.01,395.04 77.16,395.13 77.32,395.21 77.47,395.28 77.63,395.35 77.79,395.41 77.94,395.46 78.10,395.51 78.25,395.55 78.41,395.59 78.56,395.62 78.72,395.65 78.87,395.68 79.03,395.70 79.18,395.72 79.34,395.74 79.50,395.75 79.65,395.77 79.81,395.78 79.96,395.79 80.12,395.80 80.27,395.81 80.43,395.82 80.58,395.82 80.74,395.83 80.90,395.83 81.05,395.84 81.21,395.84 81.36,395.84 81.52,395.85 81.67,395.85 81.83,395.85 81.98,395.85 82.14,395.85 82.29,395.85 82.45,395.85 82.61,395.85 82.76,395.86 82.92,395.86 83.07,395.86 83.23,395.86 83.38,395.86 83.54,395.86 83.69,395.86 83.85,395.86 84.01,395.86 84.16,395.86 84.32,395.86 84.47,395.86 84.63,395.86 84.78,395.86 84.94,395.86 85.09,395.86 85.25,395.86 85.40,395.86 85.56,395.86 85.72,395.86 85.87,395.86 86.03,395.86 86.18,395.86 86.34,395.86 86.49,395.86 86.65,395.86 86.80,395.86 86.96,395.86 87.12,395.86 87.27,395.86 87.43,395.86 87.58,395.86 87.74,395.86 87.89,395.86 88.05,395.86 88.20,395.86 88.36,395.86 88.51,395.86 88.67,395.86 88.83,395.86 88.98,395.86 89.14,395.86 89.29,395.86 89.45,395.86 89.60,395.86 89.76,395.86 89.91,395.86 90.07,395.86 90.23,395.86 90.38,395.86 90.54,395.86 90.69,395.86 90.85,395.86 91.00,395.86 91.16,395.86 91.31,395.86 91.47,395.86 91.62,395.86 91.78,395.86 91.94,395.86 92.09,395.86 92.25,395.86 92.40,395.86 92.56,395.86 92.71,395.86 92.87,395.86 93.02,395.86 93.18,395.86 93.34,395.86 93.49,395.86 93.65,395.86 93.80,395.86 93.96,395.86 94.11,395.86 94.27,395.86 94.42,395.86 94.58,395.86 94.73,395.86 94.89,395.86 95.05,395.86 95.20,395.86 95.36,395.86 95.51,395.86 95.67,395.86 95.82,395.86 95.98,395.86 96.13,395.86 96.29,395.86 96.45,395.86 96.60,395.86 96.76,395.86 96.91,395.86 97.07,395.86 97.22,395.86 97.38,395.86 97.53,395.86 97.69,395.86 97.84,395.86 98.00,395.86" fill="none" stroke="#c0284e" stroke-width="1.3" stroke-linejoin="round"/>
<polyline points="35.80,396.80 35.96,396.80 36.11,396.79 36.27,396.79 36.42,396.78 36.58,396.78 36.73,396.77 36.89,396.77 37.04,396.76 37.20,396.76 37.36,396.75 37.51,396.75 37.67,396.74 37.82,396.73 37.98,396.73 38.13,396.72 38.29,396.72 38.44,396.71 38.60,396.71 38.75,396.70 38.91,396.69 39.07,396.69 39.22,396.68 39.38,396.68 39.53,396.67 39.69,396.66 39.84,396.66 40.00,396.65 40.15,396.64 40.31,396.63 40.47,396.63 40.62,396.62 40.78,396.61 40.93,396.61 41.09,396.60 41.24,396.59 41.40,396.58 41.55,396.57 41.71,396.57 41.86,396.56 42.02,396.55 42.18,396.54 42.33,396.53 42.49,396.52 42.64,396.51 42.80,396.50 42.95,396.50 43.11,396.49 43.26,396.48 43.42,396.47 43.58,396.46 43.73,396.45 43.89,396.44 44.04,396.42 44.20,396.41 44.35,396.40 44.51,396.39 44.66,396.38 44.82,396.37 44.97,396.36 45.13,396.35 45.29,396.33 45.44,396.32 45.60,396.31 45.75,396.29 45.91,396.28 46.06,396.27 46.22,396.25 46.37,396.24 46.53,396.23 46.69,396.21 46.84,396.20 47.00,396.18 47.15,396.17 47.31,396.15 47.46,396.13 47.62,396.12 47.77,396.10 47.93,396.08 48.08,396.07 48.24,396.05 48.40,396.03 48.55,396.01 48.71,395.99 48.86,395.97 49.02,395.95 49.17,395.93 49.33,395.91 49.48,395.89 49.64,395.87 49.80,395.85 49.95,395.82 50.11,395.80 50.26,395.78 50.42,395.75 50.57,395.73 50.73,395.70 50.88,395.68 51.04,395.65 51.19,395.62 51.35,395.60 51.51,395.57 51.66,395.54 51.82,395.51 51.97,395.48 52.13,395.45 52.28,395.42 52.44,395.38 52.59,395.35 52.75,395.32 52.91,395.28 53.06,395.24 53.22,395.21 53.37,395.17 53.53,395.13 53.68,395.09 53.84,395.05 53.99,395.01 54.15,394.97 54.30,394.92 54.46,394.88 54.62,394.83 54.77,394.78 54.93,394.73 55.08,394.68 55.24,394.63 55.39,394.58 55.55,394.53 55.70,394.47 55.86,394.41 56.02,394.35 56.17,394.29 56.33,394.23 56.48,394.17 56.64,394.11 56.79,394.04 56.95,393.97 57.10,393.90 57.26,393.83 57.41,393.75 57.57,393.68 57.73,393.60 57.88,393.52 58.04,393.44 58.19,393.35 58.35,393.27 58.50,393.18 58.66,393.09 58.81,393.00 58.97,392.90 59.13,392.80 59.28,392.70 59.44,392.60 59.59,392.50 59.75,392.39 59.90,392.28 60.06,392.17 60.21,392.05 60.37,391.93 60.52,391.81 60.68,391.69 60.84,391.56 60.99,391.43 61.15,391.30 61.30,391.17 61.46,391.03 61.61,390.88 61.77,390.74 61.92,390.58 62.08,390.42 62.24,390.25 62.39,390.07 62.55,389.88 62.70,389.68 62.86,389.46 63.01,389.22 63.17,388.96 63.32,388.67 63.48,388.35 63.63,387.98 63.79,387.55 63.95,387.04 64.10,386.42 64.26,385.65 64.41,384.71 64.57,383.56 64.72,382.20 64.88,380.67 65.03,379.02 65.19,377.39 65.34,375.89 65.50,374.68 65.66,373.84 65.81,373.43 65.97,373.42 66.12,373.73 66.28,374.23 66.43,374.78 66.59,375.27 66.74,375.60 66.90,375.72 67.06,375.60 67.21,375.27 67.37,374.78 67.52,374.23 67.68,373.73 67.83,373.42 67.99,373.43 68.14,373.84 68.30,374.68 68.46,375.89 68.61,377.39 68.77,379.02 68.92,380.67 69.08,382.20 69.23,383.56 69.39,384.71 69.54,385.65 69.70,386.42 69.85,387.04 70.01,387.55 70.17,387.98 70.32,388.35 70.48,388.67 70.63,388.96 70.79,389.22 70.94,389.46 71.10,389.68 71.25,389.88 71.41,390.07 71.57,390.25 71.72,390.42 71.88,390.58 72.03,390.74 72.19,390.88 72.34,391.03 72.50,391.17 72.65,391.30 72.81,391.43 72.96,391.56 73.12,391.69 73.28,391.81 73.43,391.93 73.59,392.05 73.74,392.17 73.90,392.28 74.05,392.39 74.21,392.50 74.36,392.60 74.52,392.70 74.68,392.80 74.83,392.90 74.99,393.00 75.14,393.09 75.30,393.18 75.45,393.27 75.61,393.35 75.76,393.44 75.92,393.52 76.07,393.60 76.23,393.68 76.39,393.75 76.54,393.83 76.70,393.90 76.85,393.97 77.01,394.04 77.16,394.11 77.32,394.17 77.47,394.23 77.63,394.29 77.79,394.35 77.94,394.41 78.10,394.47 78.25,394.53 78.41,394.58 78.56,394.63 78.72,394.68 78.87,394.73 79.03,394.78 79.18,394.83 79.34,394.88 79.50,394.92 79.65,394.97 79.81,395.01 79.96,395.05 80.12,395.09 80.27,395.13 80.43,395.17 80.58,395.21 80.74,395.24 80.90,395.28 81.05,395.32 81.21,395.35 81.36,395.38 81.52,395.42 81.67,395.45 81.83,395.48 81.98,395.51 82.14,395.54 82.29,395.57 82.45,395.60 82.61,395.62 82.76,395.65 82.92,395.68 83.07,395.70 83.23,395.73 83.38,395.75 83.54,395.78 83.69,395.80 83.85,395.82 84.01,395.85 84.16,395.87 84.32,395.89 84.47,395.91 84.63,395.93 84.78,395.95 84.94,395.97 85.09,395.99 85.25,396.01 85.40,396.03 85.56,396.05 85.72,396.07 85.87,396.08 86.03,396.10 86.18,396.12 86.34,396.13 86.49,396.15 86.65,396.17 86.80,396.18 86.96,396.20 87.12,396.21 87.27,396.23 87.43,396.24 87.58,396.25 87.74,396.27 87.89,396.28 88.05,396.29 88.20,396.31 88.36,396.32 88.51,396.33 88.67,396.35 88.83,396.36 88.98,396.37 89.14,396.38 89.29,396.39 89.45,396.40 89.60,396.41 89.76,396.42 89.91,396.44 90.07,396.45 90.23,396.46 90.38,396.47 90.54,396.48 90.69,396.49 90.85,396.50 91.00,396.50 91.16,396.51 91.31,396.52 91.47,396.53 91.62,396.54 91.78,396.55 91.94,396.56 92.09,396.57 92.25,396.57 92.40,396.58 92.56,396.59 92.71,396.60 92.87,396.61 93.02,396.61 93.18,396.62 93.34,396.63 93.49,396.63 93.65,396.64 93.80,396.65 93.96,396.66 94.11,396.66 94.27,396.67 94.42,396.68 94.58,396.68 94.73,396.69 94.89,396.69 95.05,396.70 95.20,396.71 95.36,396.71 95.51,396.72 95.67,396.72 95.82,396.73 95.98,396.73 96.13,396.74 96.29,396.75 96.45,396.75 96.60,396.76 96.76,396.76 96.91,396.77 97.07,396.77 97.22,396.78 97.38,396.78 97.53,396.79 97.69,396.79 97.84,396.80 98.00,396.80" fill="none" stroke="#3e63a8" stroke-width="1.3" stroke-linejoin="round"/>
<rect x="33.3" y="340" width="67.2" height="60" fill="none" stroke="#111" stroke-width="1.3"/>
<line x1="30.299999999999997" y1="398.00" x2="33.3" y2="398.00" stroke="#222" stroke-width="0.9"/>
<text x="27.099999999999998" y="400.2" font-size="6.4" fill="#222" stroke="#222" text-anchor="end">0</text>
<line x1="30.299999999999997" y1="382.60" x2="33.3" y2="382.60" stroke="#222" stroke-width="0.9"/>
<text x="27.099999999999998" y="384.8" font-size="6.4" fill="#222" stroke="#222" text-anchor="end">5</text>
<line x1="30.299999999999997" y1="367.20" x2="33.3" y2="367.20" stroke="#222" stroke-width="0.9"/>
<text x="27.099999999999998" y="369.4" font-size="6.4" fill="#222" stroke="#222" text-anchor="end">10</text>
<line x1="30.299999999999997" y1="351.80" x2="33.3" y2="351.80" stroke="#222" stroke-width="0.9"/>
<text x="27.099999999999998" y="354.0" font-size="6.4" fill="#222" stroke="#222" text-anchor="end">15</text>
<line x1="42.02" y1="400" x2="42.02" y2="403" stroke="#222" stroke-width="0.9"/>
<text x="42.02000000000001" y="411.5" font-size="6.4" fill="#222" stroke="#222" text-anchor="middle">-4</text>
<line x1="54.46" y1="400" x2="54.46" y2="403" stroke="#222" stroke-width="0.9"/>
<text x="54.46000000000001" y="411.5" font-size="6.4" fill="#222" stroke="#222" text-anchor="middle">-2</text>
<line x1="66.90" y1="400" x2="66.90" y2="403" stroke="#222" stroke-width="0.9"/>
<text x="66.9" y="411.5" font-size="6.4" fill="#222" stroke="#222" text-anchor="middle">0</text>
<line x1="79.34" y1="400" x2="79.34" y2="403" stroke="#222" stroke-width="0.9"/>
<text x="79.34" y="411.5" font-size="6.4" fill="#222" stroke="#222" text-anchor="middle">2</text>
<line x1="91.78" y1="400" x2="91.78" y2="403" stroke="#222" stroke-width="0.9"/>
<text x="91.78" y="411.5" font-size="6.4" fill="#222" stroke="#222" text-anchor="middle">4</text>
<text x="75" y="386" font-size="6.2" fill="#333" stroke="#333" font-style="italic" textLength="18" lengthAdjust="spacingAndGlyphs">P-value</text>
<text x="75" y="393" font-size="6.2" fill="#333" stroke="#333" textLength="21" lengthAdjust="spacingAndGlyphs">9.62E-06</text>
<text x="149.4" y="335" font-size="8.8" fill="#1a1a1a" stroke="#1a1a1a" text-anchor="middle">H2A.Z</text>
<polyline points="118.90,393.34 119.06,393.34 119.21,393.34 119.37,393.34 119.52,393.34 119.68,393.34 119.83,393.34 119.98,393.34 120.14,393.34 120.30,393.34 120.45,393.34 120.61,393.34 120.76,393.34 120.92,393.34 121.07,393.34 121.23,393.34 121.38,393.34 121.53,393.34 121.69,393.34 121.84,393.34 122.00,393.34 122.16,393.34 122.31,393.34 122.47,393.34 122.62,393.33 122.78,393.33 122.93,393.33 123.09,393.33 123.24,393.33 123.40,393.33 123.55,393.33 123.71,393.33 123.86,393.33 124.02,393.33 124.17,393.33 124.33,393.33 124.48,393.33 124.64,393.33 124.79,393.33 124.95,393.33 125.10,393.33 125.26,393.33 125.41,393.32 125.56,393.32 125.72,393.32 125.88,393.32 126.03,393.32 126.19,393.32 126.34,393.32 126.50,393.32 126.65,393.31 126.81,393.31 126.96,393.31 127.12,393.31 127.27,393.31 127.43,393.30 127.58,393.30 127.73,393.30 127.89,393.30 128.05,393.30 128.20,393.29 128.36,393.29 128.51,393.29 128.67,393.28 128.82,393.28 128.97,393.28 129.13,393.27 129.28,393.27 129.44,393.26 129.59,393.26 129.75,393.25 129.91,393.25 130.06,393.24 130.22,393.24 130.37,393.23 130.53,393.23 130.68,393.22 130.84,393.21 130.99,393.21 131.15,393.20 131.30,393.19 131.46,393.18 131.61,393.17 131.77,393.17 131.92,393.16 132.08,393.15 132.23,393.14 132.38,393.13 132.54,393.12 132.69,393.10 132.85,393.09 133.00,393.08 133.16,393.07 133.31,393.05 133.47,393.04 133.62,393.03 133.78,393.01 133.94,393.00 134.09,392.98 134.25,392.96 134.40,392.95 134.56,392.93 134.71,392.91 134.87,392.89 135.02,392.87 135.18,392.85 135.33,392.83 135.49,392.81 135.64,392.79 135.80,392.76 135.95,392.74 136.11,392.71 136.26,392.69 136.42,392.66 136.57,392.64 136.72,392.61 136.88,392.58 137.03,392.55 137.19,392.52 137.34,392.49 137.50,392.46 137.66,392.43 137.81,392.40 137.97,392.36 138.12,392.33 138.28,392.30 138.43,392.26 138.59,392.23 138.74,392.19 138.90,392.15 139.05,392.11 139.21,392.08 139.36,392.04 139.52,392.00 139.67,391.96 139.83,391.91 139.98,391.87 140.14,391.83 140.29,391.79 140.44,391.75 140.60,391.70 140.75,391.66 140.91,391.61 141.06,391.57 141.22,391.52 141.38,391.48 141.53,391.43 141.69,391.39 141.84,391.34 142.00,391.29 142.15,391.25 142.31,391.20 142.46,391.15 142.62,391.11 142.77,391.06 142.93,391.01 143.08,390.97 143.24,390.92 143.39,390.87 143.55,390.83 143.70,390.78 143.86,390.74 144.01,390.69 144.17,390.65 144.32,390.60 144.47,390.56 144.63,390.51 144.78,390.47 144.94,390.43 145.09,390.38 145.25,390.33 145.41,390.27 145.56,390.21 145.72,390.13 145.87,390.03 146.03,389.91 146.18,389.75 146.34,389.55 146.49,389.29 146.65,388.99 146.80,388.62 146.96,388.19 147.11,387.72 147.27,387.23 147.42,386.72 147.58,386.23 147.73,385.80 147.88,385.45 148.04,385.21 148.20,385.10 148.35,385.12 148.50,385.27 148.66,385.53 148.81,385.87 148.97,386.28 149.12,386.70 149.28,387.10 149.44,387.45 149.59,387.72 149.75,387.89 149.90,387.95 150.06,387.89 150.21,387.72 150.37,387.45 150.52,387.10 150.68,386.70 150.83,386.28 150.99,385.87 151.14,385.53 151.30,385.27 151.45,385.12 151.61,385.10 151.76,385.21 151.92,385.45 152.07,385.80 152.22,386.23 152.38,386.72 152.53,387.23 152.69,387.72 152.84,388.19 153.00,388.62 153.16,388.99 153.31,389.29 153.47,389.55 153.62,389.75 153.78,389.91 153.93,390.03 154.09,390.13 154.24,390.21 154.40,390.27 154.55,390.33 154.71,390.38 154.86,390.43 155.02,390.47 155.17,390.51 155.33,390.56 155.48,390.60 155.64,390.65 155.79,390.69 155.95,390.74 156.10,390.78 156.25,390.83 156.41,390.87 156.56,390.92 156.72,390.97 156.88,391.01 157.03,391.06 157.19,391.11 157.34,391.15 157.50,391.20 157.65,391.25 157.81,391.29 157.96,391.34 158.12,391.39 158.27,391.43 158.43,391.48 158.58,391.52 158.74,391.57 158.89,391.61 159.05,391.66 159.20,391.70 159.36,391.75 159.51,391.79 159.67,391.83 159.82,391.87 159.97,391.91 160.13,391.96 160.29,392.00 160.44,392.04 160.59,392.08 160.75,392.11 160.91,392.15 161.06,392.19 161.22,392.23 161.37,392.26 161.53,392.30 161.68,392.33 161.84,392.36 161.99,392.40 162.15,392.43 162.30,392.46 162.46,392.49 162.61,392.52 162.77,392.55 162.92,392.58 163.08,392.61 163.23,392.64 163.39,392.66 163.54,392.69 163.70,392.71 163.85,392.74 164.00,392.76 164.16,392.79 164.31,392.81 164.47,392.83 164.62,392.85 164.78,392.87 164.94,392.89 165.09,392.91 165.25,392.93 165.40,392.95 165.56,392.96 165.71,392.98 165.87,393.00 166.02,393.01 166.18,393.03 166.33,393.04 166.49,393.05 166.64,393.07 166.80,393.08 166.95,393.09 167.11,393.10 167.26,393.12 167.42,393.13 167.57,393.14 167.72,393.15 167.88,393.16 168.04,393.17 168.19,393.17 168.34,393.18 168.50,393.19 168.66,393.20 168.81,393.21 168.97,393.21 169.12,393.22 169.28,393.23 169.43,393.23 169.59,393.24 169.74,393.24 169.90,393.25 170.05,393.25 170.21,393.26 170.36,393.26 170.52,393.27 170.67,393.27 170.83,393.28 170.98,393.28 171.14,393.28 171.29,393.29 171.44,393.29 171.60,393.29 171.75,393.30 171.91,393.30 172.06,393.30 172.22,393.30 172.38,393.30 172.53,393.31 172.69,393.31 172.84,393.31 173.00,393.31 173.15,393.31 173.31,393.32 173.46,393.32 173.62,393.32 173.77,393.32 173.93,393.32 174.08,393.32 174.24,393.32 174.39,393.32 174.55,393.33 174.70,393.33 174.86,393.33 175.01,393.33 175.17,393.33 175.32,393.33 175.47,393.33 175.63,393.33 175.79,393.33 175.94,393.33 176.09,393.33 176.25,393.33 176.41,393.33 176.56,393.33 176.72,393.33 176.87,393.33 177.03,393.33 177.18,393.33 177.34,393.34 177.49,393.34 177.65,393.34 177.80,393.34 177.96,393.34 178.11,393.34 178.27,393.34 178.42,393.34 178.58,393.34 178.73,393.34 178.89,393.34 179.04,393.34 179.20,393.34 179.35,393.34 179.50,393.34 179.66,393.34 179.81,393.34 179.97,393.34 180.12,393.34 180.28,393.34 180.44,393.34 180.59,393.34 180.75,393.34 180.90,393.34" fill="none" stroke="#c0284e" stroke-width="1.3" stroke-linejoin="round"/>
<polyline points="118.90,392.55 119.06,392.55 119.21,392.55 119.37,392.55 119.52,392.55 119.68,392.55 119.83,392.55 119.98,392.55 120.14,392.55 120.30,392.55 120.45,392.55 120.61,392.55 120.76,392.55 120.92,392.55 121.07,392.55 121.23,392.55 121.38,392.55 121.53,392.55 121.69,392.55 121.84,392.55 122.00,392.55 122.16,392.55 122.31,392.55 122.47,392.55 122.62,392.55 122.78,392.55 122.93,392.55 123.09,392.55 123.24,392.55 123.40,392.55 123.55,392.55 123.71,392.55 123.86,392.55 124.02,392.55 124.17,392.55 124.33,392.55 124.48,392.55 124.64,392.55 124.79,392.55 124.95,392.55 125.10,392.55 125.26,392.54 125.41,392.54 125.56,392.54 125.72,392.54 125.88,392.54 126.03,392.54 126.19,392.54 126.34,392.54 126.50,392.54 126.65,392.54 126.81,392.53 126.96,392.53 127.12,392.53 127.27,392.53 127.43,392.53 127.58,392.53 127.73,392.52 127.89,392.52 128.05,392.52 128.20,392.51 128.36,392.51 128.51,392.51 128.67,392.51 128.82,392.50 128.97,392.50 129.13,392.49 129.28,392.49 129.44,392.48 129.59,392.48 129.75,392.47 129.91,392.47 130.06,392.46 130.22,392.45 130.37,392.45 130.53,392.44 130.68,392.43 130.84,392.42 130.99,392.41 131.15,392.40 131.30,392.39 131.46,392.38 131.61,392.37 131.77,392.35 131.92,392.34 132.08,392.33 132.23,392.31 132.38,392.30 132.54,392.28 132.69,392.26 132.85,392.24 133.00,392.22 133.16,392.20 133.31,392.18 133.47,392.16 133.62,392.13 133.78,392.11 133.94,392.08 134.09,392.05 134.25,392.03 134.40,391.99 134.56,391.96 134.71,391.93 134.87,391.89 135.02,391.86 135.18,391.82 135.33,391.78 135.49,391.74 135.64,391.69 135.80,391.65 135.95,391.60 136.11,391.55 136.26,391.50 136.42,391.45 136.57,391.39 136.72,391.34 136.88,391.28 137.03,391.22 137.19,391.15 137.34,391.09 137.50,391.02 137.66,390.95 137.81,390.88 137.97,390.80 138.12,390.73 138.28,390.65 138.43,390.56 138.59,390.48 138.74,390.39 138.90,390.31 139.05,390.21 139.21,390.12 139.36,390.03 139.52,389.93 139.67,389.83 139.83,389.73 139.98,389.62 140.14,389.52 140.29,389.41 140.44,389.30 140.60,389.18 140.75,389.07 140.91,388.95 141.06,388.83 141.22,388.71 141.38,388.59 141.53,388.47 141.69,388.35 141.84,388.22 142.00,388.09 142.15,387.96 142.31,387.83 142.46,387.70 142.62,387.57 142.77,387.44 142.93,387.31 143.08,387.18 143.24,387.04 143.39,386.91 143.55,386.78 143.70,386.64 143.86,386.51 144.01,386.38 144.17,386.25 144.32,386.12 144.47,385.99 144.63,385.86 144.78,385.73 144.94,385.60 145.09,385.46 145.25,385.32 145.41,385.18 145.56,385.02 145.72,384.84 145.87,384.62 146.03,384.36 146.18,384.04 146.34,383.65 146.49,383.16 146.65,382.56 146.80,381.86 146.96,381.04 147.11,380.14 147.27,379.17 147.42,378.19 147.58,377.24 147.73,376.39 147.88,375.69 148.04,375.21 148.20,374.97 148.35,374.99 148.50,375.26 148.66,375.74 148.81,376.40 148.97,377.16 149.12,377.95 149.28,378.70 149.44,379.36 149.59,379.87 149.75,380.19 149.90,380.30 150.06,380.19 150.21,379.87 150.37,379.36 150.52,378.70 150.68,377.95 150.83,377.16 150.99,376.40 151.14,375.74 151.30,375.26 151.45,374.99 151.61,374.97 151.76,375.21 151.92,375.69 152.07,376.39 152.22,377.24 152.38,378.19 152.53,379.17 152.69,380.14 152.84,381.04 153.00,381.86 153.16,382.56 153.31,383.16 153.47,383.65 153.62,384.04 153.78,384.36 153.93,384.62 154.09,384.84 154.24,385.02 154.40,385.18 154.55,385.32 154.71,385.46 154.86,385.60 155.02,385.73 155.17,385.86 155.33,385.99 155.48,386.12 155.64,386.25 155.79,386.38 155.95,386.51 156.10,386.64 156.25,386.78 156.41,386.91 156.56,387.04 156.72,387.18 156.88,387.31 157.03,387.44 157.19,387.57 157.34,387.70 157.50,387.83 157.65,387.96 157.81,388.09 157.96,388.22 158.12,388.35 158.27,388.47 158.43,388.59 158.58,388.71 158.74,388.83 158.89,388.95 159.05,389.07 159.20,389.18 159.36,389.30 159.51,389.41 159.67,389.52 159.82,389.62 159.97,389.73 160.13,389.83 160.29,389.93 160.44,390.03 160.59,390.12 160.75,390.21 160.91,390.31 161.06,390.39 161.22,390.48 161.37,390.56 161.53,390.65 161.68,390.73 161.84,390.80 161.99,390.88 162.15,390.95 162.30,391.02 162.46,391.09 162.61,391.15 162.77,391.22 162.92,391.28 163.08,391.34 163.23,391.39 163.39,391.45 163.54,391.50 163.70,391.55 163.85,391.60 164.00,391.65 164.16,391.69 164.31,391.74 164.47,391.78 164.62,391.82 164.78,391.86 164.94,391.89 165.09,391.93 165.25,391.96 165.40,391.99 165.56,392.03 165.71,392.05 165.87,392.08 166.02,392.11 166.18,392.13 166.33,392.16 166.49,392.18 166.64,392.20 166.80,392.22 166.95,392.24 167.11,392.26 167.26,392.28 167.42,392.30 167.57,392.31 167.72,392.33 167.88,392.34 168.04,392.35 168.19,392.37 168.34,392.38 168.50,392.39 168.66,392.40 168.81,392.41 168.97,392.42 169.12,392.43 169.28,392.44 169.43,392.45 169.59,392.45 169.74,392.46 169.90,392.47 170.05,392.47 170.21,392.48 170.36,392.48 170.52,392.49 170.67,392.49 170.83,392.50 170.98,392.50 171.14,392.51 171.29,392.51 171.44,392.51 171.60,392.51 171.75,392.52 171.91,392.52 172.06,392.52 172.22,392.53 172.38,392.53 172.53,392.53 172.69,392.53 172.84,392.53 173.00,392.53 173.15,392.54 173.31,392.54 173.46,392.54 173.62,392.54 173.77,392.54 173.93,392.54 174.08,392.54 174.24,392.54 174.39,392.54 174.55,392.54 174.70,392.55 174.86,392.55 175.01,392.55 175.17,392.55 175.32,392.55 175.47,392.55 175.63,392.55 175.79,392.55 175.94,392.55 176.09,392.55 176.25,392.55 176.41,392.55 176.56,392.55 176.72,392.55 176.87,392.55 177.03,392.55 177.18,392.55 177.34,392.55 177.49,392.55 177.65,392.55 177.80,392.55 177.96,392.55 178.11,392.55 178.27,392.55 178.42,392.55 178.58,392.55 178.73,392.55 178.89,392.55 179.04,392.55 179.20,392.55 179.35,392.55 179.50,392.55 179.66,392.55 179.81,392.55 179.97,392.55 180.12,392.55 180.28,392.55 180.44,392.55 180.59,392.55 180.75,392.55 180.90,392.55" fill="none" stroke="#3e63a8" stroke-width="1.3" stroke-linejoin="round"/>
<rect x="116.2" y="340.3" width="66.39999999999999" height="59.30000000000001" fill="none" stroke="#111" stroke-width="1.3"/>
<line x1="113.2" y1="398.00" x2="116.2" y2="398.00" stroke="#222" stroke-width="0.9"/>
<text x="110.0" y="400.2" font-size="6.4" fill="#222" stroke="#222" text-anchor="end">0</text>
<line x1="113.2" y1="379.66" x2="116.2" y2="379.66" stroke="#222" stroke-width="0.9"/>
<text x="110.0" y="381.86" font-size="6.4" fill="#222" stroke="#222" text-anchor="end">2</text>
<line x1="113.2" y1="361.32" x2="116.2" y2="361.32" stroke="#222" stroke-width="0.9"/>
<text x="110.0" y="363.52" font-size="6.4" fill="#222" stroke="#222" text-anchor="end">4</text>
<line x1="113.2" y1="342.98" x2="116.2" y2="342.98" stroke="#222" stroke-width="0.9"/>
<text x="110.0" y="345.18" font-size="6.4" fill="#222" stroke="#222" text-anchor="end">6</text>
<line x1="125.10" y1="399.6" x2="125.10" y2="402.6" stroke="#222" stroke-width="0.9"/>
<text x="125.10000000000001" y="411.5" font-size="6.4" fill="#222" stroke="#222" text-anchor="middle">-4</text>
<line x1="137.50" y1="399.6" x2="137.50" y2="402.6" stroke="#222" stroke-width="0.9"/>
<text x="137.5" y="411.5" font-size="6.4" fill="#222" stroke="#222" text-anchor="middle">-2</text>
<line x1="149.90" y1="399.6" x2="149.90" y2="402.6" stroke="#222" stroke-width="0.9"/>
<text x="149.9" y="411.5" font-size="6.4" fill="#222" stroke="#222" text-anchor="middle">0</text>
<line x1="162.30" y1="399.6" x2="162.30" y2="402.6" stroke="#222" stroke-width="0.9"/>
<text x="162.3" y="411.5" font-size="6.4" fill="#222" stroke="#222" text-anchor="middle">2</text>
<line x1="174.70" y1="399.6" x2="174.70" y2="402.6" stroke="#222" stroke-width="0.9"/>
<text x="174.70000000000002" y="411.5" font-size="6.4" fill="#222" stroke="#222" text-anchor="middle">4</text>
<text x="158.8" y="384.2" font-size="6.2" fill="#333" stroke="#333" font-style="italic" textLength="18" lengthAdjust="spacingAndGlyphs">P-value</text>
<text x="158.8" y="391" font-size="6.2" fill="#333" stroke="#333" textLength="20.8" lengthAdjust="spacingAndGlyphs">2.61E-06</text>
<text x="259.1" y="335" font-size="8.8" fill="#1a1a1a" stroke="#1a1a1a" text-anchor="middle">acH2A.Z/H2A.Z</text>
<polyline points="228.35,395.57 228.50,395.57 228.66,395.56 228.81,395.56 228.97,395.55 229.12,395.55 229.27,395.54 229.43,395.54 229.58,395.54 229.74,395.53 229.89,395.53 230.04,395.52 230.20,395.52 230.35,395.51 230.51,395.51 230.66,395.50 230.81,395.50 230.97,395.49 231.12,395.48 231.28,395.48 231.43,395.47 231.58,395.47 231.74,395.46 231.89,395.46 232.05,395.45 232.20,395.45 232.35,395.44 232.51,395.43 232.66,395.43 232.82,395.42 232.97,395.42 233.12,395.41 233.28,395.40 233.43,395.40 233.59,395.39 233.74,395.39 233.89,395.38 234.05,395.37 234.20,395.37 234.36,395.36 234.51,395.35 234.66,395.35 234.82,395.34 234.97,395.33 235.13,395.33 235.28,395.32 235.43,395.31 235.59,395.31 235.74,395.30 235.90,395.29 236.05,395.28 236.20,395.28 236.36,395.27 236.51,395.26 236.67,395.25 236.82,395.25 236.97,395.24 237.13,395.23 237.28,395.22 237.44,395.22 237.59,395.21 237.74,395.20 237.90,395.19 238.05,395.18 238.21,395.18 238.36,395.17 238.51,395.16 238.67,395.15 238.82,395.14 238.98,395.13 239.13,395.12 239.28,395.12 239.44,395.11 239.59,395.10 239.75,395.09 239.90,395.08 240.05,395.07 240.21,395.06 240.36,395.05 240.52,395.04 240.67,395.03 240.82,395.02 240.98,395.01 241.13,395.00 241.29,394.99 241.44,394.98 241.59,394.97 241.75,394.96 241.90,394.94 242.06,394.93 242.21,394.92 242.36,394.91 242.52,394.90 242.67,394.88 242.83,394.87 242.98,394.85 243.13,394.84 243.29,394.82 243.44,394.81 243.60,394.79 243.75,394.78 243.90,394.76 244.06,394.74 244.21,394.72 244.37,394.70 244.52,394.68 244.67,394.65 244.83,394.63 244.98,394.60 245.14,394.58 245.29,394.55 245.44,394.52 245.60,394.48 245.75,394.45 245.91,394.41 246.06,394.37 246.21,394.32 246.37,394.28 246.52,394.23 246.68,394.17 246.83,394.11 246.98,394.05 247.14,393.98 247.29,393.91 247.45,393.84 247.60,393.75 247.75,393.66 247.91,393.57 248.06,393.47 248.22,393.36 248.37,393.25 248.52,393.12 248.68,392.99 248.83,392.85 248.99,392.70 249.14,392.54 249.29,392.37 249.45,392.19 249.60,392.00 249.76,391.80 249.91,391.59 250.06,391.36 250.22,391.13 250.37,390.88 250.53,390.61 250.68,390.34 250.83,390.05 250.99,389.74 251.14,389.43 251.30,389.09 251.45,388.75 251.60,388.39 251.76,388.01 251.91,387.62 252.07,387.22 252.22,386.80 252.37,386.36 252.53,385.92 252.68,385.46 252.84,384.99 252.99,384.50 253.14,384.01 253.30,383.50 253.45,382.98 253.61,382.45 253.76,381.91 253.91,381.37 254.07,380.82 254.22,380.26 254.38,379.70 254.53,379.13 254.68,378.56 254.84,377.99 254.99,377.41 255.15,376.82 255.30,376.20 255.45,375.54 255.61,374.80 255.76,373.93 255.92,372.87 256.07,371.52 256.22,369.81 256.38,367.65 256.53,364.99 256.69,361.85 256.84,358.33 256.99,354.63 257.15,351.04 257.30,347.89 257.46,345.51 257.61,344.16 257.76,343.97 257.92,344.94 258.07,346.88 258.23,349.51 258.38,352.48 258.53,355.42 258.69,358.02 258.84,360.04 259.00,361.31 259.15,361.75 259.30,361.31 259.46,360.04 259.61,358.02 259.77,355.42 259.92,352.48 260.07,349.51 260.23,346.88 260.38,344.94 260.54,343.97 260.69,344.16 260.84,345.51 261.00,347.89 261.15,351.04 261.31,354.63 261.46,358.33 261.61,361.85 261.77,364.99 261.92,367.65 262.08,369.81 262.23,371.52 262.38,372.87 262.54,373.93 262.69,374.80 262.85,375.54 263.00,376.20 263.15,376.82 263.31,377.41 263.46,377.99 263.62,378.56 263.77,379.13 263.92,379.70 264.08,380.26 264.23,380.82 264.39,381.37 264.54,381.91 264.69,382.45 264.85,382.98 265.00,383.50 265.16,384.01 265.31,384.50 265.46,384.99 265.62,385.46 265.77,385.92 265.93,386.36 266.08,386.80 266.23,387.22 266.39,387.62 266.54,388.01 266.70,388.39 266.85,388.75 267.00,389.09 267.16,389.43 267.31,389.74 267.47,390.05 267.62,390.34 267.77,390.61 267.93,390.88 268.08,391.13 268.24,391.36 268.39,391.59 268.54,391.80 268.70,392.00 268.85,392.19 269.01,392.37 269.16,392.54 269.31,392.70 269.47,392.85 269.62,392.99 269.78,393.12 269.93,393.25 270.08,393.36 270.24,393.47 270.39,393.57 270.55,393.66 270.70,393.75 270.85,393.84 271.01,393.91 271.16,393.98 271.32,394.05 271.47,394.11 271.62,394.17 271.78,394.23 271.93,394.28 272.09,394.32 272.24,394.37 272.39,394.41 272.55,394.45 272.70,394.48 272.86,394.52 273.01,394.55 273.16,394.58 273.32,394.60 273.47,394.63 273.63,394.65 273.78,394.68 273.93,394.70 274.09,394.72 274.24,394.74 274.40,394.76 274.55,394.78 274.70,394.79 274.86,394.81 275.01,394.82 275.17,394.84 275.32,394.85 275.47,394.87 275.63,394.88 275.78,394.90 275.94,394.91 276.09,394.92 276.24,394.93 276.40,394.94 276.55,394.96 276.71,394.97 276.86,394.98 277.01,394.99 277.17,395.00 277.32,395.01 277.48,395.02 277.63,395.03 277.78,395.04 277.94,395.05 278.09,395.06 278.25,395.07 278.40,395.08 278.55,395.09 278.71,395.10 278.86,395.11 279.02,395.12 279.17,395.12 279.32,395.13 279.48,395.14 279.63,395.15 279.79,395.16 279.94,395.17 280.09,395.18 280.25,395.18 280.40,395.19 280.56,395.20 280.71,395.21 280.86,395.22 281.02,395.22 281.17,395.23 281.33,395.24 281.48,395.25 281.63,395.25 281.79,395.26 281.94,395.27 282.10,395.28 282.25,395.28 282.40,395.29 282.56,395.30 282.71,395.31 282.87,395.31 283.02,395.32 283.17,395.33 283.33,395.33 283.48,395.34 283.64,395.35 283.79,395.35 283.94,395.36 284.10,395.37 284.25,395.37 284.41,395.38 284.56,395.39 284.71,395.39 284.87,395.40 285.02,395.40 285.18,395.41 285.33,395.42 285.48,395.42 285.64,395.43 285.79,395.43 285.95,395.44 286.10,395.45 286.25,395.45 286.41,395.46 286.56,395.46 286.72,395.47 286.87,395.47 287.02,395.48 287.18,395.48 287.33,395.49 287.49,395.50 287.64,395.50 287.79,395.51 287.95,395.51 288.10,395.52 288.26,395.52 288.41,395.53 288.56,395.53 288.72,395.54 288.87,395.54 289.03,395.54 289.18,395.55 289.33,395.55 289.49,395.56 289.64,395.56 289.80,395.57 289.95,395.57" fill="none" stroke="#c0284e" stroke-width="1.3" stroke-linejoin="round"/>
<polyline points="228.35,395.77 228.50,395.77 228.66,395.77 228.81,395.77 228.97,395.77 229.12,395.77 229.27,395.77 229.43,395.77 229.58,395.77 229.74,395.77 229.89,395.77 230.04,395.77 230.20,395.77 230.35,395.77 230.51,395.77 230.66,395.77 230.81,395.77 230.97,395.77 231.12,395.77 231.28,395.77 231.43,395.77 231.58,395.77 231.74,395.77 231.89,395.77 232.05,395.77 232.20,395.77 232.35,395.77 232.51,395.77 232.66,395.77 232.82,395.77 232.97,395.77 233.12,395.77 233.28,395.77 233.43,395.77 233.59,395.77 233.74,395.77 233.89,395.77 234.05,395.77 234.20,395.77 234.36,395.77 234.51,395.77 234.66,395.77 234.82,395.77 234.97,395.77 235.13,395.77 235.28,395.77 235.43,395.77 235.59,395.77 235.74,395.77 235.90,395.77 236.05,395.77 236.20,395.77 236.36,395.77 236.51,395.77 236.67,395.77 236.82,395.77 236.97,395.77 237.13,395.77 237.28,395.77 237.44,395.77 237.59,395.77 237.74,395.77 237.90,395.77 238.05,395.77 238.21,395.77 238.36,395.77 238.51,395.77 238.67,395.77 238.82,395.77 238.98,395.77 239.13,395.77 239.28,395.77 239.44,395.77 239.59,395.77 239.75,395.77 239.90,395.77 240.05,395.77 240.21,395.77 240.36,395.77 240.52,395.77 240.67,395.77 240.82,395.77 240.98,395.77 241.13,395.77 241.29,395.77 241.44,395.77 241.59,395.77 241.75,395.77 241.90,395.77 242.06,395.77 242.21,395.77 242.36,395.77 242.52,395.77 242.67,395.77 242.83,395.77 242.98,395.77 243.13,395.77 243.29,395.77 243.44,395.77 243.60,395.77 243.75,395.77 243.90,395.77 244.06,395.77 244.21,395.77 244.37,395.77 244.52,395.77 244.67,395.77 244.83,395.77 244.98,395.76 245.14,395.76 245.29,395.76 245.44,395.76 245.60,395.76 245.75,395.76 245.91,395.76 246.06,395.75 246.21,395.75 246.37,395.75 246.52,395.74 246.68,395.74 246.83,395.73 246.98,395.73 247.14,395.72 247.29,395.72 247.45,395.71 247.60,395.70 247.75,395.69 247.91,395.68 248.06,395.67 248.22,395.66 248.37,395.64 248.52,395.62 248.68,395.61 248.83,395.59 248.99,395.56 249.14,395.54 249.29,395.51 249.45,395.48 249.60,395.45 249.76,395.41 249.91,395.37 250.06,395.33 250.22,395.29 250.37,395.24 250.53,395.18 250.68,395.12 250.83,395.06 250.99,394.99 251.14,394.92 251.30,394.84 251.45,394.76 251.60,394.67 251.76,394.57 251.91,394.47 252.07,394.36 252.22,394.25 252.37,394.13 252.53,394.00 252.68,393.87 252.84,393.73 252.99,393.59 253.14,393.43 253.30,393.28 253.45,393.11 253.61,392.94 253.76,392.76 253.91,392.58 254.07,392.39 254.22,392.20 254.38,392.00 254.53,391.80 254.68,391.59 254.84,391.39 254.99,391.18 255.15,390.96 255.30,390.74 255.45,390.52 255.61,390.29 255.76,390.03 255.92,389.74 256.07,389.39 256.22,388.93 256.38,388.33 256.53,387.53 256.69,386.51 256.84,385.28 256.99,383.89 257.15,382.45 257.30,381.13 257.46,380.09 257.61,379.50 257.76,379.42 257.92,379.85 258.07,380.70 258.23,381.80 258.38,382.99 258.53,384.10 258.69,385.02 258.84,385.69 259.00,386.10 259.15,386.23 259.30,386.10 259.46,385.69 259.61,385.02 259.77,384.10 259.92,382.99 260.07,381.80 260.23,380.70 260.38,379.85 260.54,379.42 260.69,379.50 260.84,380.09 261.00,381.13 261.15,382.45 261.31,383.89 261.46,385.28 261.61,386.51 261.77,387.53 261.92,388.33 262.08,388.93 262.23,389.39 262.38,389.74 262.54,390.03 262.69,390.29 262.85,390.52 263.00,390.74 263.15,390.96 263.31,391.18 263.46,391.39 263.62,391.59 263.77,391.80 263.92,392.00 264.08,392.20 264.23,392.39 264.39,392.58 264.54,392.76 264.69,392.94 264.85,393.11 265.00,393.28 265.16,393.43 265.31,393.59 265.46,393.73 265.62,393.87 265.77,394.00 265.93,394.13 266.08,394.25 266.23,394.36 266.39,394.47 266.54,394.57 266.70,394.67 266.85,394.76 267.00,394.84 267.16,394.92 267.31,394.99 267.47,395.06 267.62,395.12 267.77,395.18 267.93,395.24 268.08,395.29 268.24,395.33 268.39,395.37 268.54,395.41 268.70,395.45 268.85,395.48 269.01,395.51 269.16,395.54 269.31,395.56 269.47,395.59 269.62,395.61 269.78,395.62 269.93,395.64 270.08,395.66 270.24,395.67 270.39,395.68 270.55,395.69 270.70,395.70 270.85,395.71 271.01,395.72 271.16,395.72 271.32,395.73 271.47,395.73 271.62,395.74 271.78,395.74 271.93,395.75 272.09,395.75 272.24,395.75 272.39,395.76 272.55,395.76 272.70,395.76 272.86,395.76 273.01,395.76 273.16,395.76 273.32,395.76 273.47,395.77 273.63,395.77 273.78,395.77 273.93,395.77 274.09,395.77 274.24,395.77 274.40,395.77 274.55,395.77 274.70,395.77 274.86,395.77 275.01,395.77 275.17,395.77 275.32,395.77 275.47,395.77 275.63,395.77 275.78,395.77 275.94,395.77 276.09,395.77 276.24,395.77 276.40,395.77 276.55,395.77 276.71,395.77 276.86,395.77 277.01,395.77 277.17,395.77 277.32,395.77 277.48,395.77 277.63,395.77 277.78,395.77 277.94,395.77 278.09,395.77 278.25,395.77 278.40,395.77 278.55,395.77 278.71,395.77 278.86,395.77 279.02,395.77 279.17,395.77 279.32,395.77 279.48,395.77 279.63,395.77 279.79,395.77 279.94,395.77 280.09,395.77 280.25,395.77 280.40,395.77 280.56,395.77 280.71,395.77 280.86,395.77 281.02,395.77 281.17,395.77 281.33,395.77 281.48,395.77 281.63,395.77 281.79,395.77 281.94,395.77 282.10,395.77 282.25,395.77 282.40,395.77 282.56,395.77 282.71,395.77 282.87,395.77 283.02,395.77 283.17,395.77 283.33,395.77 283.48,395.77 283.64,395.77 283.79,395.77 283.94,395.77 284.10,395.77 284.25,395.77 284.41,395.77 284.56,395.77 284.71,395.77 284.87,395.77 285.02,395.77 285.18,395.77 285.33,395.77 285.48,395.77 285.64,395.77 285.79,395.77 285.95,395.77 286.10,395.77 286.25,395.77 286.41,395.77 286.56,395.77 286.72,395.77 286.87,395.77 287.02,395.77 287.18,395.77 287.33,395.77 287.49,395.77 287.64,395.77 287.79,395.77 287.95,395.77 288.10,395.77 288.26,395.77 288.41,395.77 288.56,395.77 288.72,395.77 288.87,395.77 289.03,395.77 289.18,395.77 289.33,395.77 289.49,395.77 289.64,395.77 289.80,395.77 289.95,395.77" fill="none" stroke="#3e63a8" stroke-width="1.3" stroke-linejoin="round"/>
<rect x="225.4" y="340.3" width="67.4" height="60.0" fill="none" stroke="#111" stroke-width="1.3"/>
<line x1="222.4" y1="398.00" x2="225.4" y2="398.00" stroke="#222" stroke-width="0.9"/>
<text x="219.20000000000002" y="400.2" font-size="6.4" fill="#222" stroke="#222" text-anchor="end">0</text>
<line x1="222.4" y1="386.00" x2="225.4" y2="386.00" stroke="#222" stroke-width="0.9"/>
<text x="219.20000000000002" y="388.2" font-size="6.4" fill="#222" stroke="#222" text-anchor="end">5</text>
<line x1="222.4" y1="374.00" x2="225.4" y2="374.00" stroke="#222" stroke-width="0.9"/>
<text x="219.20000000000002" y="376.2" font-size="6.4" fill="#222" stroke="#222" text-anchor="end">10</text>
<line x1="222.4" y1="362.00" x2="225.4" y2="362.00" stroke="#222" stroke-width="0.9"/>
<text x="219.20000000000002" y="364.2" font-size="6.4" fill="#222" stroke="#222" text-anchor="end">15</text>
<line x1="222.4" y1="350.00" x2="225.4" y2="350.00" stroke="#222" stroke-width="0.9"/>
<text x="219.20000000000002" y="352.2" font-size="6.4" fill="#222" stroke="#222" text-anchor="end">20</text>
<line x1="234.51" y1="400.3" x2="234.51" y2="403.3" stroke="#222" stroke-width="0.9"/>
<text x="234.51" y="411.5" font-size="6.4" fill="#222" stroke="#222" text-anchor="middle">-4</text>
<line x1="246.83" y1="400.3" x2="246.83" y2="403.3" stroke="#222" stroke-width="0.9"/>
<text x="246.82999999999998" y="411.5" font-size="6.4" fill="#222" stroke="#222" text-anchor="middle">-2</text>
<line x1="259.15" y1="400.3" x2="259.15" y2="403.3" stroke="#222" stroke-width="0.9"/>
<text x="259.15" y="411.5" font-size="6.4" fill="#222" stroke="#222" text-anchor="middle">0</text>
<line x1="271.47" y1="400.3" x2="271.47" y2="403.3" stroke="#222" stroke-width="0.9"/>
<text x="271.46999999999997" y="411.5" font-size="6.4" fill="#222" stroke="#222" text-anchor="middle">2</text>
<line x1="283.79" y1="400.3" x2="283.79" y2="403.3" stroke="#222" stroke-width="0.9"/>
<text x="283.78999999999996" y="411.5" font-size="6.4" fill="#222" stroke="#222" text-anchor="middle">4</text>
<text x="265.8" y="386" font-size="6.2" fill="#333" stroke="#333" font-style="italic" textLength="18" lengthAdjust="spacingAndGlyphs">P-value</text>
<text x="264.6" y="393" font-size="6.2" fill="#333" stroke="#333" textLength="26.4" lengthAdjust="spacingAndGlyphs">&lt;2.20E-16</text>
<text x="358.0" y="335" font-size="8.8" fill="#1a1a1a" stroke="#1a1a1a" text-anchor="middle">acH3K27</text>
<polyline points="327.65,393.48 327.80,393.48 327.96,393.48 328.11,393.48 328.26,393.48 328.42,393.48 328.57,393.48 328.73,393.48 328.88,393.48 329.03,393.48 329.19,393.48 329.34,393.48 329.50,393.48 329.65,393.48 329.80,393.48 329.96,393.48 330.11,393.48 330.26,393.48 330.42,393.48 330.57,393.48 330.72,393.48 330.88,393.48 331.03,393.48 331.19,393.48 331.34,393.48 331.49,393.48 331.65,393.48 331.80,393.48 331.95,393.48 332.11,393.48 332.26,393.48 332.42,393.48 332.57,393.48 332.72,393.47 332.88,393.47 333.03,393.47 333.19,393.47 333.34,393.47 333.49,393.47 333.65,393.47 333.80,393.47 333.95,393.47 334.11,393.46 334.26,393.46 334.41,393.46 334.57,393.46 334.72,393.46 334.88,393.45 335.03,393.45 335.18,393.45 335.34,393.44 335.49,393.44 335.64,393.44 335.80,393.43 335.95,393.43 336.11,393.42 336.26,393.42 336.41,393.41 336.57,393.41 336.72,393.40 336.88,393.40 337.03,393.39 337.18,393.38 337.34,393.37 337.49,393.37 337.64,393.36 337.80,393.35 337.95,393.34 338.10,393.32 338.26,393.31 338.41,393.30 338.57,393.29 338.72,393.27 338.87,393.26 339.03,393.24 339.18,393.22 339.33,393.21 339.49,393.19 339.64,393.16 339.80,393.14 339.95,393.12 340.10,393.09 340.26,393.07 340.41,393.04 340.56,393.01 340.72,392.98 340.87,392.95 341.03,392.91 341.18,392.88 341.33,392.84 341.49,392.80 341.64,392.76 341.79,392.71 341.95,392.67 342.10,392.62 342.26,392.56 342.41,392.51 342.56,392.45 342.72,392.39 342.87,392.33 343.02,392.27 343.18,392.20 343.33,392.13 343.49,392.05 343.64,391.97 343.79,391.89 343.95,391.81 344.10,391.72 344.25,391.63 344.41,391.53 344.56,391.43 344.72,391.33 344.87,391.22 345.02,391.11 345.18,390.99 345.33,390.88 345.48,390.75 345.64,390.62 345.79,390.49 345.95,390.35 346.10,390.21 346.25,390.07 346.41,389.92 346.56,389.76 346.71,389.60 346.87,389.44 347.02,389.27 347.18,389.09 347.33,388.92 347.48,388.73 347.64,388.55 347.79,388.35 347.94,388.16 348.10,387.96 348.25,387.75 348.41,387.54 348.56,387.33 348.71,387.11 348.87,386.89 349.02,386.66 349.17,386.43 349.33,386.20 349.48,385.96 349.64,385.72 349.79,385.47 349.94,385.22 350.10,384.97 350.25,384.72 350.40,384.46 350.56,384.21 350.71,383.94 350.87,383.68 351.02,383.42 351.17,383.15 351.33,382.88 351.48,382.62 351.63,382.35 351.79,382.08 351.94,381.81 352.10,381.54 352.25,381.27 352.40,381.00 352.56,380.73 352.71,380.47 352.86,380.20 353.02,379.93 353.17,379.66 353.33,379.38 353.48,379.09 353.63,378.78 353.79,378.46 353.94,378.09 354.09,377.68 354.25,377.21 354.40,376.65 354.56,376.01 354.71,375.25 354.86,374.38 355.02,373.38 355.17,372.26 355.32,371.05 355.48,369.78 355.63,368.48 355.79,367.21 355.94,366.04 356.09,365.02 356.25,364.20 356.40,363.64 356.55,363.37 356.71,363.39 356.86,363.69 357.02,364.24 357.17,364.99 357.32,365.88 357.48,366.83 357.63,367.77 357.78,368.64 357.94,369.38 358.09,369.95 358.25,370.30 358.40,370.42 358.55,370.30 358.71,369.95 358.86,369.38 359.01,368.64 359.17,367.77 359.32,366.83 359.48,365.88 359.63,364.99 359.78,364.24 359.94,363.69 360.09,363.39 360.25,363.37 360.40,363.64 360.55,364.20 360.71,365.02 360.86,366.04 361.01,367.21 361.17,368.48 361.32,369.78 361.47,371.05 361.63,372.26 361.78,373.38 361.94,374.38 362.09,375.25 362.24,376.01 362.40,376.65 362.55,377.21 362.70,377.68 362.86,378.09 363.01,378.46 363.17,378.78 363.32,379.09 363.47,379.38 363.63,379.66 363.78,379.93 363.94,380.20 364.09,380.47 364.24,380.73 364.40,381.00 364.55,381.27 364.70,381.54 364.86,381.81 365.01,382.08 365.16,382.35 365.32,382.62 365.47,382.88 365.63,383.15 365.78,383.42 365.93,383.68 366.09,383.94 366.24,384.21 366.39,384.46 366.55,384.72 366.70,384.97 366.86,385.22 367.01,385.47 367.16,385.72 367.32,385.96 367.47,386.20 367.62,386.43 367.78,386.66 367.93,386.89 368.09,387.11 368.24,387.33 368.39,387.54 368.55,387.75 368.70,387.96 368.85,388.16 369.01,388.35 369.16,388.55 369.32,388.73 369.47,388.92 369.62,389.09 369.78,389.27 369.93,389.44 370.08,389.60 370.24,389.76 370.39,389.92 370.55,390.07 370.70,390.21 370.85,390.35 371.01,390.49 371.16,390.62 371.31,390.75 371.47,390.88 371.62,390.99 371.78,391.11 371.93,391.22 372.08,391.33 372.24,391.43 372.39,391.53 372.54,391.63 372.70,391.72 372.85,391.81 373.01,391.89 373.16,391.97 373.31,392.05 373.47,392.13 373.62,392.20 373.77,392.27 373.93,392.33 374.08,392.39 374.24,392.45 374.39,392.51 374.54,392.56 374.70,392.62 374.85,392.67 375.00,392.71 375.16,392.76 375.31,392.80 375.47,392.84 375.62,392.88 375.77,392.91 375.93,392.95 376.08,392.98 376.23,393.01 376.39,393.04 376.54,393.07 376.70,393.09 376.85,393.12 377.00,393.14 377.16,393.16 377.31,393.19 377.46,393.21 377.62,393.22 377.77,393.24 377.93,393.26 378.08,393.27 378.23,393.29 378.39,393.30 378.54,393.31 378.69,393.32 378.85,393.34 379.00,393.35 379.16,393.36 379.31,393.37 379.46,393.37 379.62,393.38 379.77,393.39 379.92,393.40 380.08,393.40 380.23,393.41 380.39,393.41 380.54,393.42 380.69,393.42 380.85,393.43 381.00,393.43 381.15,393.44 381.31,393.44 381.46,393.44 381.62,393.45 381.77,393.45 381.92,393.45 382.08,393.46 382.23,393.46 382.38,393.46 382.54,393.46 382.69,393.46 382.85,393.47 383.00,393.47 383.15,393.47 383.31,393.47 383.46,393.47 383.61,393.47 383.77,393.47 383.92,393.47 384.08,393.47 384.23,393.48 384.38,393.48 384.54,393.48 384.69,393.48 384.84,393.48 385.00,393.48 385.15,393.48 385.31,393.48 385.46,393.48 385.61,393.48 385.77,393.48 385.92,393.48 386.07,393.48 386.23,393.48 386.38,393.48 386.54,393.48 386.69,393.48 386.84,393.48 387.00,393.48 387.15,393.48 387.31,393.48 387.46,393.48 387.61,393.48 387.77,393.48 387.92,393.48 388.07,393.48 388.23,393.48 388.38,393.48 388.53,393.48 388.69,393.48 388.84,393.48 389.00,393.48 389.15,393.48" fill="none" stroke="#c0284e" stroke-width="1.3" stroke-linejoin="round"/>
<polyline points="327.65,392.73 327.80,392.73 327.96,392.73 328.11,392.73 328.26,392.73 328.42,392.73 328.57,392.73 328.73,392.73 328.88,392.73 329.03,392.73 329.19,392.73 329.34,392.73 329.50,392.73 329.65,392.73 329.80,392.73 329.96,392.73 330.11,392.73 330.26,392.73 330.42,392.73 330.57,392.73 330.72,392.73 330.88,392.73 331.03,392.73 331.19,392.73 331.34,392.73 331.49,392.73 331.65,392.73 331.80,392.73 331.95,392.73 332.11,392.73 332.26,392.73 332.42,392.73 332.57,392.73 332.72,392.73 332.88,392.72 333.03,392.72 333.19,392.72 333.34,392.72 333.49,392.72 333.65,392.72 333.80,392.72 333.95,392.72 334.11,392.71 334.26,392.71 334.41,392.71 334.57,392.71 334.72,392.71 334.88,392.70 335.03,392.70 335.18,392.70 335.34,392.70 335.49,392.69 335.64,392.69 335.80,392.69 335.95,392.68 336.11,392.68 336.26,392.67 336.41,392.67 336.57,392.66 336.72,392.66 336.88,392.65 337.03,392.64 337.18,392.64 337.34,392.63 337.49,392.62 337.64,392.61 337.80,392.60 337.95,392.59 338.10,392.58 338.26,392.57 338.41,392.56 338.57,392.54 338.72,392.53 338.87,392.51 339.03,392.50 339.18,392.48 339.33,392.46 339.49,392.44 339.64,392.42 339.80,392.40 339.95,392.38 340.10,392.35 340.26,392.33 340.41,392.30 340.56,392.27 340.72,392.24 340.87,392.21 341.03,392.17 341.18,392.14 341.33,392.10 341.49,392.06 341.64,392.02 341.79,391.97 341.95,391.92 342.10,391.87 342.26,391.82 342.41,391.77 342.56,391.71 342.72,391.65 342.87,391.59 343.02,391.52 343.18,391.45 343.33,391.38 343.49,391.30 343.64,391.22 343.79,391.14 343.95,391.05 344.10,390.96 344.25,390.87 344.41,390.77 344.56,390.67 344.72,390.57 344.87,390.46 345.02,390.34 345.18,390.22 345.33,390.10 345.48,389.97 345.64,389.84 345.79,389.71 345.95,389.56 346.10,389.42 346.25,389.27 346.41,389.11 346.56,388.95 346.71,388.79 346.87,388.62 347.02,388.44 347.18,388.26 347.33,388.08 347.48,387.89 347.64,387.69 347.79,387.50 347.94,387.29 348.10,387.08 348.25,386.87 348.41,386.65 348.56,386.43 348.71,386.20 348.87,385.97 349.02,385.73 349.17,385.49 349.33,385.25 349.48,385.00 349.64,384.74 349.79,384.49 349.94,384.23 350.10,383.97 350.25,383.70 350.40,383.43 350.56,383.16 350.71,382.89 350.87,382.61 351.02,382.33 351.17,382.05 351.33,381.77 351.48,381.49 351.63,381.21 351.79,380.92 351.94,380.64 352.10,380.36 352.25,380.07 352.40,379.79 352.56,379.50 352.71,379.22 352.86,378.93 353.02,378.64 353.17,378.34 353.33,378.03 353.48,377.70 353.63,377.35 353.79,376.96 353.94,376.51 354.09,376.00 354.25,375.40 354.40,374.69 354.56,373.87 354.71,372.90 354.86,371.78 355.02,370.52 355.17,369.13 355.32,367.63 355.48,366.06 355.63,364.47 355.79,362.94 355.94,361.53 356.09,360.31 356.25,359.35 356.40,358.69 356.55,358.38 356.71,358.41 356.86,358.78 357.02,359.45 357.17,360.35 357.32,361.42 357.48,362.57 357.63,363.72 357.78,364.79 357.94,365.70 358.09,366.39 358.25,366.82 358.40,366.97 358.55,366.82 358.71,366.39 358.86,365.70 359.01,364.79 359.17,363.72 359.32,362.57 359.48,361.42 359.63,360.35 359.78,359.45 359.94,358.78 360.09,358.41 360.25,358.38 360.40,358.69 360.55,359.35 360.71,360.31 360.86,361.53 361.01,362.94 361.17,364.47 361.32,366.06 361.47,367.63 361.63,369.13 361.78,370.52 361.94,371.78 362.09,372.90 362.24,373.87 362.40,374.69 362.55,375.40 362.70,376.00 362.86,376.51 363.01,376.96 363.17,377.35 363.32,377.70 363.47,378.03 363.63,378.34 363.78,378.64 363.94,378.93 364.09,379.22 364.24,379.50 364.40,379.79 364.55,380.07 364.70,380.36 364.86,380.64 365.01,380.92 365.16,381.21 365.32,381.49 365.47,381.77 365.63,382.05 365.78,382.33 365.93,382.61 366.09,382.89 366.24,383.16 366.39,383.43 366.55,383.70 366.70,383.97 366.86,384.23 367.01,384.49 367.16,384.74 367.32,385.00 367.47,385.25 367.62,385.49 367.78,385.73 367.93,385.97 368.09,386.20 368.24,386.43 368.39,386.65 368.55,386.87 368.70,387.08 368.85,387.29 369.01,387.50 369.16,387.69 369.32,387.89 369.47,388.08 369.62,388.26 369.78,388.44 369.93,388.62 370.08,388.79 370.24,388.95 370.39,389.11 370.55,389.27 370.70,389.42 370.85,389.56 371.01,389.71 371.16,389.84 371.31,389.97 371.47,390.10 371.62,390.22 371.78,390.34 371.93,390.46 372.08,390.57 372.24,390.67 372.39,390.77 372.54,390.87 372.70,390.96 372.85,391.05 373.01,391.14 373.16,391.22 373.31,391.30 373.47,391.38 373.62,391.45 373.77,391.52 373.93,391.59 374.08,391.65 374.24,391.71 374.39,391.77 374.54,391.82 374.70,391.87 374.85,391.92 375.00,391.97 375.16,392.02 375.31,392.06 375.47,392.10 375.62,392.14 375.77,392.17 375.93,392.21 376.08,392.24 376.23,392.27 376.39,392.30 376.54,392.33 376.70,392.35 376.85,392.38 377.00,392.40 377.16,392.42 377.31,392.44 377.46,392.46 377.62,392.48 377.77,392.50 377.93,392.51 378.08,392.53 378.23,392.54 378.39,392.56 378.54,392.57 378.69,392.58 378.85,392.59 379.00,392.60 379.16,392.61 379.31,392.62 379.46,392.63 379.62,392.64 379.77,392.64 379.92,392.65 380.08,392.66 380.23,392.66 380.39,392.67 380.54,392.67 380.69,392.68 380.85,392.68 381.00,392.69 381.15,392.69 381.31,392.69 381.46,392.70 381.62,392.70 381.77,392.70 381.92,392.70 382.08,392.71 382.23,392.71 382.38,392.71 382.54,392.71 382.69,392.71 382.85,392.72 383.00,392.72 383.15,392.72 383.31,392.72 383.46,392.72 383.61,392.72 383.77,392.72 383.92,392.72 384.08,392.73 384.23,392.73 384.38,392.73 384.54,392.73 384.69,392.73 384.84,392.73 385.00,392.73 385.15,392.73 385.31,392.73 385.46,392.73 385.61,392.73 385.77,392.73 385.92,392.73 386.07,392.73 386.23,392.73 386.38,392.73 386.54,392.73 386.69,392.73 386.84,392.73 387.00,392.73 387.15,392.73 387.31,392.73 387.46,392.73 387.61,392.73 387.77,392.73 387.92,392.73 388.07,392.73 388.23,392.73 388.38,392.73 388.53,392.73 388.69,392.73 388.84,392.73 389.00,392.73 389.15,392.73" fill="none" stroke="#3e63a8" stroke-width="1.3" stroke-linejoin="round"/>
<rect x="324.5" y="340.3" width="67.0" height="60.0" fill="none" stroke="#111" stroke-width="1.3"/>
<line x1="321.5" y1="398.50" x2="324.5" y2="398.50" stroke="#222" stroke-width="0.9"/>
<text x="318.3" y="400.7" font-size="6.4" fill="#222" stroke="#222" text-anchor="end">0</text>
<line x1="321.5" y1="387.28" x2="324.5" y2="387.28" stroke="#222" stroke-width="0.9"/>
<text x="318.3" y="389.47999999999996" font-size="6.4" fill="#222" stroke="#222" text-anchor="end">2</text>
<line x1="321.5" y1="376.06" x2="324.5" y2="376.06" stroke="#222" stroke-width="0.9"/>
<text x="318.3" y="378.26" font-size="6.4" fill="#222" stroke="#222" text-anchor="end">4</text>
<line x1="321.5" y1="364.84" x2="324.5" y2="364.84" stroke="#222" stroke-width="0.9"/>
<text x="318.3" y="367.03999999999996" font-size="6.4" fill="#222" stroke="#222" text-anchor="end">6</text>
<line x1="321.5" y1="353.62" x2="324.5" y2="353.62" stroke="#222" stroke-width="0.9"/>
<text x="318.3" y="355.82" font-size="6.4" fill="#222" stroke="#222" text-anchor="end">8</text>
<line x1="321.5" y1="342.40" x2="324.5" y2="342.40" stroke="#222" stroke-width="0.9"/>
<text x="318.3" y="344.59999999999997" font-size="6.4" fill="#222" stroke="#222" text-anchor="end">10</text>
<line x1="333.80" y1="400.3" x2="333.80" y2="403.3" stroke="#222" stroke-width="0.9"/>
<text x="333.79999999999995" y="411.5" font-size="6.4" fill="#222" stroke="#222" text-anchor="middle">-4</text>
<line x1="346.10" y1="400.3" x2="346.10" y2="403.3" stroke="#222" stroke-width="0.9"/>
<text x="346.09999999999997" y="411.5" font-size="6.4" fill="#222" stroke="#222" text-anchor="middle">-2</text>
<line x1="358.40" y1="400.3" x2="358.40" y2="403.3" stroke="#222" stroke-width="0.9"/>
<text x="358.4" y="411.5" font-size="6.4" fill="#222" stroke="#222" text-anchor="middle">0</text>
<line x1="370.70" y1="400.3" x2="370.70" y2="403.3" stroke="#222" stroke-width="0.9"/>
<text x="370.7" y="411.5" font-size="6.4" fill="#222" stroke="#222" text-anchor="middle">2</text>
<line x1="383.00" y1="400.3" x2="383.00" y2="403.3" stroke="#222" stroke-width="0.9"/>
<text x="383.0" y="411.5" font-size="6.4" fill="#222" stroke="#222" text-anchor="middle">4</text>
<text x="371.9" y="384.2" font-size="6.2" fill="#333" stroke="#333" font-style="italic" textLength="18" lengthAdjust="spacingAndGlyphs">P-value</text>
<text x="371.9" y="391" font-size="6.2" fill="#333" stroke="#333" textLength="11.9" lengthAdjust="spacingAndGlyphs">0.121</text>
<text x="448.5" y="335" font-size="8.8" fill="#1a1a1a" stroke="#1a1a1a" text-anchor="middle">H3K27me3</text>
<polyline points="418.75,347.44 419.46,347.27 420.17,346.37 420.88,347.83 421.59,347.85 422.30,347.77 423.01,349.07 423.71,348.27 424.42,348.08 425.13,347.78 425.84,349.99 426.55,349.58 427.26,350.38 427.97,348.50 428.68,349.03 429.39,351.10 430.10,348.58 430.81,348.92 431.52,350.30 432.22,350.89 432.93,352.69 433.64,353.58 434.35,352.58 435.06,354.41 435.77,354.51 436.48,354.84 437.19,356.41 437.90,356.12 438.61,357.15 439.32,356.95 440.03,359.16 440.74,360.16 441.44,361.91 442.15,362.78 442.86,365.90 443.57,369.54 444.28,370.59 444.99,376.02 445.70,381.78 446.23,386.10 446.41,388.14 446.82,392.90 447.12,396.30 447.41,399.70 447.83,393.54 448.00,390.90 448.54,382.98 448.60,382.10 449.25,376.23 449.48,374.10 449.95,373.35 450.66,372.23 451.37,371.12 452.08,368.64 452.79,368.03 453.50,367.36 454.21,367.43 454.92,367.01 455.63,366.16 456.34,366.12 457.05,363.45 457.76,363.83 458.47,361.87 459.17,362.52 459.88,360.20 460.59,360.04 461.30,362.10 462.01,361.11 462.72,358.71 463.43,359.59 464.14,357.74 464.85,359.04 465.56,359.59 466.27,357.63 466.98,356.91 467.68,358.09 468.39,358.33 469.10,357.33 469.81,355.23 470.52,355.53 471.23,357.09 471.94,356.43 472.65,356.66 473.36,356.58 474.07,354.27 474.78,355.86 475.49,354.57 476.20,354.70 476.90,355.25 477.61,353.50" fill="none" stroke="#c0284e" stroke-width="1.0" stroke-linejoin="round"/>
<polyline points="418.75,345.56 419.46,344.23 420.17,345.89 420.88,345.16 421.59,345.90 422.30,345.88 423.01,344.01 423.71,344.63 424.42,346.22 425.13,344.72 425.84,346.85 426.55,346.52 427.26,345.38 427.97,346.19 428.68,347.94 429.39,345.57 430.10,348.00 430.81,348.16 431.52,347.15 432.22,348.91 432.93,349.49 433.64,350.61 434.35,351.04 435.06,350.10 435.77,351.56 436.48,351.01 437.19,352.63 437.90,353.35 438.61,352.86 439.32,355.19 440.03,356.21 440.74,356.71 441.44,360.02 442.15,361.45 442.86,361.80 443.57,365.18 444.28,369.94 444.99,373.22 445.70,378.98 446.23,383.30 446.41,385.34 446.82,390.10 447.12,393.50 447.41,396.90 447.83,390.74 448.00,388.10 448.54,380.18 448.60,379.30 449.25,373.43 449.48,371.30 449.95,370.55 450.66,369.43 451.37,368.32 452.08,368.16 452.79,365.52 453.50,363.89 454.21,364.97 454.92,362.13 455.63,361.66 456.34,361.79 457.05,361.64 457.76,361.88 458.47,361.40 459.17,358.06 459.88,359.48 460.59,357.65 461.30,358.56 462.01,356.54 462.72,356.81 463.43,357.30 464.14,357.26 464.85,355.31 465.56,356.80 466.27,355.99 466.98,354.75 467.68,353.61 468.39,354.01 469.10,354.68 469.81,352.56 470.52,354.33 471.23,354.58 471.94,353.56 472.65,352.86 473.36,353.78 474.07,353.26 474.78,352.51 475.49,351.73 476.20,352.81 476.90,351.95 477.61,350.24" fill="none" stroke="#3e63a8" stroke-width="1.0" stroke-linejoin="round"/>
<rect x="414.6" y="340.2" width="67.79999999999995" height="59.80000000000001" fill="none" stroke="#111" stroke-width="1.3"/>
<line x1="411.6" y1="395.70" x2="414.6" y2="395.70" stroke="#222" stroke-width="0.9"/>
<text x="409.1" y="397.9" font-size="6.4" fill="#222" stroke="#222" text-anchor="end">0</text>
<line x1="412.6" y1="387.70" x2="414.6" y2="387.70" stroke="#222" stroke-width="0.9"/>
<line x1="411.6" y1="379.70" x2="414.6" y2="379.70" stroke="#222" stroke-width="0.9"/>
<text x="409.1" y="381.9" font-size="6.4" fill="#222" stroke="#222" text-anchor="end">0.2</text>
<line x1="412.6" y1="371.70" x2="414.6" y2="371.70" stroke="#222" stroke-width="0.9"/>
<line x1="411.6" y1="363.70" x2="414.6" y2="363.70" stroke="#222" stroke-width="0.9"/>
<text x="409.1" y="365.9" font-size="6.4" fill="#222" stroke="#222" text-anchor="end">0.4</text>
<line x1="412.6" y1="355.70" x2="414.6" y2="355.70" stroke="#222" stroke-width="0.9"/>
<line x1="411.6" y1="347.70" x2="414.6" y2="347.70" stroke="#222" stroke-width="0.9"/>
<text x="409.1" y="349.9" font-size="6.4" fill="#222" stroke="#222" text-anchor="end">0.6</text>
<line x1="424.66" y1="400" x2="424.66" y2="403" stroke="#222" stroke-width="0.9"/>
<text x="424.66" y="411.5" font-size="6.4" fill="#222" stroke="#222" text-anchor="middle">-4</text>
<line x1="436.48" y1="400" x2="436.48" y2="403" stroke="#222" stroke-width="0.9"/>
<text x="436.48" y="411.5" font-size="6.4" fill="#222" stroke="#222" text-anchor="middle">-2</text>
<line x1="448.30" y1="400" x2="448.30" y2="403" stroke="#222" stroke-width="0.9"/>
<text x="448.3" y="411.5" font-size="6.4" fill="#222" stroke="#222" text-anchor="middle">0</text>
<line x1="460.12" y1="400" x2="460.12" y2="403" stroke="#222" stroke-width="0.9"/>
<text x="460.12" y="411.5" font-size="6.4" fill="#222" stroke="#222" text-anchor="middle">2</text>
<line x1="471.94" y1="400" x2="471.94" y2="403" stroke="#222" stroke-width="0.9"/>
<text x="471.94" y="411.5" font-size="6.4" fill="#222" stroke="#222" text-anchor="middle">4</text>
<text x="461.5" y="384.2" font-size="6.2" fill="#333" stroke="#333" font-style="italic" textLength="18" lengthAdjust="spacingAndGlyphs">P-value</text>
<text x="461.5" y="391" font-size="6.2" fill="#333" stroke="#333" textLength="12" lengthAdjust="spacingAndGlyphs">0.315</text>
<line x1="484.5" y1="344.2" x2="490" y2="344.2" stroke="#c0284e" stroke-width="1.2"/>
<line x1="484.5" y1="353.5" x2="490" y2="353.5" stroke="#3e63a8" stroke-width="1.2"/>
<text x="493.5" y="346.1" font-size="5.6" font-style="italic" fill="#333">Tip60<tspan font-size="3.8" dy="-2">f/f</tspan></text>
<text x="493.5" y="354.7" font-size="5.6" font-style="italic" fill="#333">Tip60<tspan font-size="3.8" dy="-2">Δ/Δ</tspan></text>
<text x="15.3" y="370.2" font-size="9.8" fill="#222" stroke="#222" text-anchor="middle" textLength="71.4" lengthAdjust="spacingAndGlyphs" transform="rotate(-90 15.3 370.2)">Normalized read counts</text>
<text x="197" y="370.6" font-size="9.6" fill="#222" stroke="#222" text-anchor="middle" textLength="50" lengthAdjust="spacingAndGlyphs" transform="rotate(-90 197 370.6)">Normalized read</text>
<text x="208" y="370.6" font-size="9.6" fill="#222" stroke="#222" text-anchor="middle" textLength="35.5" lengthAdjust="spacingAndGlyphs" transform="rotate(-90 208 370.6)">counts ratio</text>
<text x="306.8" y="370.2" font-size="9.6" fill="#222" stroke="#222" text-anchor="middle" textLength="71.1" lengthAdjust="spacingAndGlyphs" transform="rotate(-90 306.8 370.2)">Normalized read counts</text>
<text x="34.6" y="424.6" font-size="10" fill="#222" stroke="#222" textLength="64.6" lengthAdjust="spacingAndGlyphs">Relative distance (kb)</text>
<text x="144.5" y="459.8" font-size="9" fill="#1a1a1a" stroke="#1a1a1a" text-anchor="middle" textLength="68" lengthAdjust="spacingAndGlyphs">Myc target genes</text>
<clipPath id="cpD"><rect x="51.75" y="464.2" width="185.0" height="164.55"/></clipPath>
<g clip-path="url(#cpD)">
<line x1="143.7" y1="464.2" x2="143.7" y2="628.75" stroke="#bbb" stroke-width="0.7" stroke-dasharray="1,1.5"/>
<line x1="51.75" y1="546.6" x2="236.75" y2="546.6" stroke="#bbb" stroke-width="0.7" stroke-dasharray="1,1.5"/>
<g fill="#c8c8c8" fill-opacity="0.55">
<circle cx="119.4" cy="576.8" r="1.6"/>
<circle cx="139.9" cy="562.5" r="1.6"/>
<circle cx="130.2" cy="574.0" r="1.6"/>
<circle cx="148.6" cy="528.2" r="1.6"/>
<circle cx="150.7" cy="532.3" r="1.6"/>
<circle cx="139.5" cy="544.0" r="1.6"/>
<circle cx="126.5" cy="555.8" r="1.6"/>
<circle cx="119.6" cy="569.0" r="1.6"/>
<circle cx="143.6" cy="535.7" r="1.6"/>
<circle cx="133.4" cy="528.1" r="1.6"/>
<circle cx="135.0" cy="552.3" r="1.6"/>
<circle cx="136.3" cy="550.1" r="1.6"/>
<circle cx="130.0" cy="556.2" r="1.6"/>
<circle cx="159.4" cy="516.6" r="1.6"/>
<circle cx="138.2" cy="536.5" r="1.6"/>
<circle cx="159.0" cy="519.5" r="1.6"/>
<circle cx="131.2" cy="528.0" r="1.6"/>
<circle cx="117.2" cy="572.2" r="1.6"/>
<circle cx="146.4" cy="511.2" r="1.6"/>
<circle cx="120.3" cy="587.8" r="1.6"/>
<circle cx="142.3" cy="542.7" r="1.6"/>
<circle cx="131.2" cy="547.1" r="1.6"/>
<circle cx="138.2" cy="540.0" r="1.6"/>
<circle cx="131.8" cy="538.5" r="1.6"/>
<circle cx="153.2" cy="524.1" r="1.6"/>
<circle cx="130.8" cy="545.0" r="1.6"/>
<circle cx="139.4" cy="551.3" r="1.6"/>
<circle cx="131.1" cy="541.6" r="1.6"/>
<circle cx="133.5" cy="551.7" r="1.6"/>
<circle cx="137.6" cy="543.9" r="1.6"/>
<circle cx="132.4" cy="568.3" r="1.6"/>
<circle cx="156.4" cy="518.7" r="1.6"/>
<circle cx="126.1" cy="548.5" r="1.6"/>
<circle cx="138.9" cy="541.9" r="1.6"/>
<circle cx="150.9" cy="505.8" r="1.6"/>
<circle cx="144.0" cy="520.7" r="1.6"/>
<circle cx="159.5" cy="526.4" r="1.6"/>
<circle cx="130.0" cy="545.6" r="1.6"/>
<circle cx="114.3" cy="574.7" r="1.6"/>
<circle cx="152.1" cy="515.9" r="1.6"/>
<circle cx="139.4" cy="559.4" r="1.6"/>
<circle cx="164.1" cy="505.9" r="1.6"/>
<circle cx="145.0" cy="529.8" r="1.6"/>
<circle cx="112.6" cy="587.9" r="1.6"/>
<circle cx="123.3" cy="542.9" r="1.6"/>
<circle cx="124.9" cy="561.5" r="1.6"/>
<circle cx="132.9" cy="543.9" r="1.6"/>
<circle cx="141.5" cy="536.2" r="1.6"/>
<circle cx="115.6" cy="600.3" r="1.6"/>
<circle cx="137.5" cy="541.1" r="1.6"/>
<circle cx="149.7" cy="529.7" r="1.6"/>
<circle cx="128.4" cy="551.0" r="1.6"/>
<circle cx="115.1" cy="581.1" r="1.6"/>
<circle cx="123.5" cy="558.2" r="1.6"/>
<circle cx="161.3" cy="507.3" r="1.6"/>
<circle cx="149.2" cy="527.2" r="1.6"/>
<circle cx="137.8" cy="547.5" r="1.6"/>
<circle cx="128.3" cy="578.0" r="1.6"/>
<circle cx="118.9" cy="578.7" r="1.6"/>
<circle cx="146.1" cy="526.9" r="1.6"/>
<circle cx="151.0" cy="512.4" r="1.6"/>
<circle cx="133.0" cy="539.2" r="1.6"/>
<circle cx="158.5" cy="518.0" r="1.6"/>
<circle cx="147.9" cy="532.5" r="1.6"/>
<circle cx="116.0" cy="568.9" r="1.6"/>
<circle cx="125.5" cy="557.5" r="1.6"/>
<circle cx="130.1" cy="549.8" r="1.6"/>
<circle cx="112.5" cy="554.6" r="1.6"/>
<circle cx="150.9" cy="530.6" r="1.6"/>
<circle cx="124.3" cy="559.9" r="1.6"/>
<circle cx="143.8" cy="531.9" r="1.6"/>
<circle cx="137.2" cy="562.8" r="1.6"/>
<circle cx="123.5" cy="548.1" r="1.6"/>
<circle cx="135.9" cy="560.1" r="1.6"/>
<circle cx="122.7" cy="575.6" r="1.6"/>
<circle cx="124.6" cy="548.3" r="1.6"/>
<circle cx="134.1" cy="537.2" r="1.6"/>
<circle cx="135.3" cy="560.9" r="1.6"/>
<circle cx="130.6" cy="530.2" r="1.6"/>
<circle cx="124.3" cy="570.0" r="1.6"/>
<circle cx="150.3" cy="527.1" r="1.6"/>
<circle cx="137.2" cy="530.0" r="1.6"/>
<circle cx="114.3" cy="568.2" r="1.6"/>
<circle cx="120.3" cy="578.4" r="1.6"/>
<circle cx="126.9" cy="545.6" r="1.6"/>
<circle cx="130.8" cy="569.7" r="1.6"/>
<circle cx="123.8" cy="545.8" r="1.6"/>
<circle cx="146.1" cy="543.8" r="1.6"/>
<circle cx="164.3" cy="514.4" r="1.6"/>
<circle cx="120.4" cy="566.1" r="1.6"/>
<circle cx="148.9" cy="514.1" r="1.6"/>
<circle cx="147.1" cy="536.0" r="1.6"/>
<circle cx="126.2" cy="571.7" r="1.6"/>
<circle cx="133.4" cy="554.5" r="1.6"/>
<circle cx="136.3" cy="557.5" r="1.6"/>
<circle cx="127.5" cy="564.5" r="1.6"/>
<circle cx="118.7" cy="578.3" r="1.6"/>
<circle cx="121.0" cy="575.5" r="1.6"/>
<circle cx="142.3" cy="536.9" r="1.6"/>
<circle cx="119.7" cy="560.6" r="1.6"/>
<circle cx="140.8" cy="525.5" r="1.6"/>
<circle cx="132.5" cy="551.9" r="1.6"/>
<circle cx="126.9" cy="555.5" r="1.6"/>
<circle cx="141.4" cy="537.2" r="1.6"/>
<circle cx="132.9" cy="543.9" r="1.6"/>
<circle cx="136.6" cy="542.4" r="1.6"/>
<circle cx="124.0" cy="558.3" r="1.6"/>
<circle cx="121.7" cy="571.3" r="1.6"/>
<circle cx="140.2" cy="520.0" r="1.6"/>
<circle cx="147.4" cy="531.6" r="1.6"/>
<circle cx="134.4" cy="537.9" r="1.6"/>
<circle cx="153.9" cy="511.8" r="1.6"/>
<circle cx="133.1" cy="547.2" r="1.6"/>
<circle cx="130.7" cy="554.8" r="1.6"/>
<circle cx="124.3" cy="562.3" r="1.6"/>
<circle cx="107.0" cy="592.7" r="1.6"/>
<circle cx="139.0" cy="550.8" r="1.6"/>
<circle cx="139.9" cy="553.3" r="1.6"/>
<circle cx="131.2" cy="547.6" r="1.6"/>
<circle cx="121.4" cy="570.4" r="1.6"/>
<circle cx="164.4" cy="517.3" r="1.6"/>
<circle cx="125.7" cy="563.8" r="1.6"/>
<circle cx="135.5" cy="546.4" r="1.6"/>
<circle cx="148.3" cy="522.7" r="1.6"/>
<circle cx="129.7" cy="556.8" r="1.6"/>
<circle cx="115.6" cy="585.0" r="1.6"/>
<circle cx="127.2" cy="549.3" r="1.6"/>
<circle cx="137.8" cy="535.6" r="1.6"/>
<circle cx="146.4" cy="534.3" r="1.6"/>
<circle cx="160.1" cy="521.1" r="1.6"/>
<circle cx="126.9" cy="560.9" r="1.6"/>
<circle cx="148.9" cy="531.1" r="1.6"/>
<circle cx="126.7" cy="552.7" r="1.6"/>
<circle cx="148.8" cy="530.9" r="1.6"/>
<circle cx="133.6" cy="537.9" r="1.6"/>
<circle cx="148.6" cy="521.0" r="1.6"/>
<circle cx="126.2" cy="554.8" r="1.6"/>
<circle cx="137.0" cy="561.8" r="1.6"/>
<circle cx="150.0" cy="527.4" r="1.6"/>
<circle cx="134.3" cy="525.8" r="1.6"/>
<circle cx="135.9" cy="552.7" r="1.6"/>
<circle cx="135.2" cy="541.1" r="1.6"/>
<circle cx="145.0" cy="535.0" r="1.6"/>
<circle cx="123.6" cy="567.6" r="1.6"/>
<circle cx="123.6" cy="570.9" r="1.6"/>
<circle cx="134.2" cy="552.5" r="1.6"/>
<circle cx="134.6" cy="555.3" r="1.6"/>
<circle cx="124.3" cy="561.7" r="1.6"/>
<circle cx="132.6" cy="538.6" r="1.6"/>
<circle cx="124.4" cy="557.8" r="1.6"/>
<circle cx="132.7" cy="562.2" r="1.6"/>
<circle cx="144.3" cy="533.7" r="1.6"/>
<circle cx="110.4" cy="571.2" r="1.6"/>
<circle cx="145.5" cy="541.7" r="1.6"/>
<circle cx="156.1" cy="519.4" r="1.6"/>
<circle cx="121.9" cy="557.4" r="1.6"/>
<circle cx="128.8" cy="567.3" r="1.6"/>
<circle cx="109.3" cy="575.9" r="1.6"/>
<circle cx="127.1" cy="550.2" r="1.6"/>
<circle cx="139.1" cy="546.7" r="1.6"/>
<circle cx="131.2" cy="534.3" r="1.6"/>
<circle cx="157.1" cy="512.4" r="1.6"/>
<circle cx="129.4" cy="563.2" r="1.6"/>
<circle cx="132.8" cy="533.4" r="1.6"/>
<circle cx="140.4" cy="543.0" r="1.6"/>
<circle cx="120.4" cy="563.1" r="1.6"/>
<circle cx="124.4" cy="559.6" r="1.6"/>
<circle cx="145.8" cy="523.2" r="1.6"/>
<circle cx="136.4" cy="548.4" r="1.6"/>
<circle cx="140.5" cy="522.6" r="1.6"/>
<circle cx="137.7" cy="557.0" r="1.6"/>
<circle cx="154.4" cy="520.5" r="1.6"/>
<circle cx="176.9" cy="499.9" r="1.6"/>
<circle cx="133.6" cy="551.4" r="1.6"/>
<circle cx="138.9" cy="547.6" r="1.6"/>
<circle cx="114.4" cy="590.6" r="1.6"/>
<circle cx="132.9" cy="554.3" r="1.6"/>
<circle cx="131.2" cy="531.1" r="1.6"/>
<circle cx="146.4" cy="522.3" r="1.6"/>
<circle cx="129.5" cy="550.6" r="1.6"/>
<circle cx="132.3" cy="552.1" r="1.6"/>
<circle cx="145.1" cy="528.6" r="1.6"/>
<circle cx="139.1" cy="540.4" r="1.6"/>
<circle cx="116.5" cy="576.6" r="1.6"/>
<circle cx="139.3" cy="545.1" r="1.6"/>
<circle cx="126.2" cy="554.1" r="1.6"/>
<circle cx="123.0" cy="568.0" r="1.6"/>
<circle cx="145.4" cy="537.5" r="1.6"/>
<circle cx="153.3" cy="519.3" r="1.6"/>
<circle cx="146.6" cy="521.6" r="1.6"/>
<circle cx="108.8" cy="579.7" r="1.6"/>
<circle cx="118.8" cy="571.1" r="1.6"/>
<circle cx="135.7" cy="534.0" r="1.6"/>
<circle cx="137.0" cy="528.6" r="1.6"/>
<circle cx="128.7" cy="555.1" r="1.6"/>
<circle cx="137.6" cy="534.5" r="1.6"/>
<circle cx="133.6" cy="554.4" r="1.6"/>
<circle cx="129.1" cy="567.4" r="1.6"/>
<circle cx="151.5" cy="519.3" r="1.6"/>
<circle cx="140.7" cy="537.1" r="1.6"/>
<circle cx="127.2" cy="560.2" r="1.6"/>
<circle cx="143.8" cy="543.5" r="1.6"/>
<circle cx="127.9" cy="540.3" r="1.6"/>
<circle cx="154.5" cy="520.1" r="1.6"/>
<circle cx="141.9" cy="536.6" r="1.6"/>
<circle cx="151.8" cy="530.4" r="1.6"/>
<circle cx="136.8" cy="539.9" r="1.6"/>
<circle cx="152.2" cy="528.0" r="1.6"/>
<circle cx="137.3" cy="548.7" r="1.6"/>
<circle cx="126.3" cy="563.7" r="1.6"/>
<circle cx="137.4" cy="535.3" r="1.6"/>
<circle cx="125.9" cy="563.7" r="1.6"/>
<circle cx="130.8" cy="548.6" r="1.6"/>
<circle cx="141.8" cy="550.4" r="1.6"/>
<circle cx="138.0" cy="552.6" r="1.6"/>
<circle cx="142.4" cy="546.9" r="1.6"/>
<circle cx="121.1" cy="570.7" r="1.6"/>
<circle cx="133.0" cy="558.7" r="1.6"/>
<circle cx="137.9" cy="541.8" r="1.6"/>
<circle cx="136.5" cy="542.3" r="1.6"/>
<circle cx="144.6" cy="541.9" r="1.6"/>
<circle cx="135.1" cy="546.9" r="1.6"/>
<circle cx="111.0" cy="572.5" r="1.6"/>
<circle cx="124.9" cy="566.1" r="1.6"/>
<circle cx="129.9" cy="552.1" r="1.6"/>
<circle cx="139.8" cy="536.3" r="1.6"/>
<circle cx="127.8" cy="549.0" r="1.6"/>
<circle cx="139.6" cy="544.8" r="1.6"/>
<circle cx="136.1" cy="537.9" r="1.6"/>
<circle cx="141.3" cy="532.4" r="1.6"/>
<circle cx="138.1" cy="532.2" r="1.6"/>
<circle cx="162.5" cy="508.8" r="1.6"/>
<circle cx="118.4" cy="550.7" r="1.6"/>
<circle cx="126.3" cy="570.5" r="1.6"/>
<circle cx="107.3" cy="576.7" r="1.6"/>
<circle cx="149.7" cy="519.2" r="1.6"/>
<circle cx="132.6" cy="536.0" r="1.6"/>
<circle cx="133.4" cy="554.4" r="1.6"/>
<circle cx="136.3" cy="543.2" r="1.6"/>
<circle cx="136.3" cy="541.4" r="1.6"/>
<circle cx="111.2" cy="561.2" r="1.6"/>
<circle cx="129.3" cy="547.6" r="1.6"/>
<circle cx="125.8" cy="556.5" r="1.6"/>
<circle cx="130.8" cy="566.9" r="1.6"/>
<circle cx="140.7" cy="533.8" r="1.6"/>
<circle cx="118.8" cy="586.5" r="1.6"/>
<circle cx="126.2" cy="565.5" r="1.6"/>
<circle cx="136.5" cy="545.2" r="1.6"/>
<circle cx="155.4" cy="515.6" r="1.6"/>
<circle cx="132.3" cy="548.5" r="1.6"/>
<circle cx="99.3" cy="599.1" r="1.6"/>
<circle cx="124.0" cy="561.4" r="1.6"/>
<circle cx="139.3" cy="539.5" r="1.6"/>
<circle cx="145.4" cy="540.6" r="1.6"/>
<circle cx="138.6" cy="543.6" r="1.6"/>
<circle cx="135.8" cy="542.8" r="1.6"/>
<circle cx="132.1" cy="548.4" r="1.6"/>
<circle cx="136.2" cy="535.6" r="1.6"/>
<circle cx="134.2" cy="544.8" r="1.6"/>
<circle cx="167.1" cy="501.5" r="1.6"/>
<circle cx="142.8" cy="527.0" r="1.6"/>
<circle cx="124.1" cy="553.4" r="1.6"/>
<circle cx="144.7" cy="530.7" r="1.6"/>
<circle cx="147.9" cy="523.5" r="1.6"/>
<circle cx="148.5" cy="536.3" r="1.6"/>
<circle cx="139.5" cy="546.4" r="1.6"/>
<circle cx="150.2" cy="526.9" r="1.6"/>
<circle cx="119.8" cy="564.4" r="1.6"/>
<circle cx="124.6" cy="550.3" r="1.6"/>
<circle cx="128.0" cy="576.1" r="1.6"/>
<circle cx="132.0" cy="540.8" r="1.6"/>
<circle cx="138.2" cy="548.9" r="1.6"/>
<circle cx="143.7" cy="530.7" r="1.6"/>
<circle cx="154.0" cy="515.0" r="1.6"/>
<circle cx="138.4" cy="550.0" r="1.6"/>
<circle cx="139.0" cy="539.1" r="1.6"/>
<circle cx="135.9" cy="541.7" r="1.6"/>
<circle cx="121.8" cy="557.6" r="1.6"/>
<circle cx="135.8" cy="542.5" r="1.6"/>
<circle cx="133.6" cy="551.4" r="1.6"/>
<circle cx="139.3" cy="534.1" r="1.6"/>
<circle cx="131.8" cy="547.7" r="1.6"/>
<circle cx="126.6" cy="553.1" r="1.6"/>
<circle cx="133.6" cy="560.6" r="1.6"/>
<circle cx="147.7" cy="539.5" r="1.6"/>
<circle cx="134.2" cy="560.1" r="1.6"/>
<circle cx="115.5" cy="564.5" r="1.6"/>
<circle cx="115.5" cy="590.2" r="1.6"/>
<circle cx="130.4" cy="567.0" r="1.6"/>
<circle cx="135.3" cy="529.2" r="1.6"/>
<circle cx="131.0" cy="548.3" r="1.6"/>
<circle cx="142.2" cy="535.7" r="1.6"/>
<circle cx="135.9" cy="531.6" r="1.6"/>
<circle cx="134.7" cy="543.8" r="1.6"/>
<circle cx="134.7" cy="559.2" r="1.6"/>
<circle cx="139.0" cy="541.3" r="1.6"/>
<circle cx="143.8" cy="529.5" r="1.6"/>
<circle cx="151.1" cy="544.9" r="1.6"/>
<circle cx="127.9" cy="560.0" r="1.6"/>
<circle cx="125.5" cy="554.6" r="1.6"/>
<circle cx="134.4" cy="546.2" r="1.6"/>
<circle cx="114.5" cy="581.0" r="1.6"/>
<circle cx="133.7" cy="552.5" r="1.6"/>
<circle cx="127.8" cy="556.7" r="1.6"/>
<circle cx="130.4" cy="562.4" r="1.6"/>
<circle cx="153.9" cy="529.9" r="1.6"/>
<circle cx="143.7" cy="530.5" r="1.6"/>
<circle cx="145.8" cy="538.9" r="1.6"/>
<circle cx="123.9" cy="556.2" r="1.6"/>
<circle cx="134.9" cy="569.0" r="1.6"/>
<circle cx="103.4" cy="590.7" r="1.6"/>
<circle cx="130.2" cy="555.2" r="1.6"/>
<circle cx="138.7" cy="551.3" r="1.6"/>
<circle cx="167.7" cy="498.2" r="1.6"/>
<circle cx="150.9" cy="524.7" r="1.6"/>
<circle cx="110.9" cy="574.1" r="1.6"/>
<circle cx="129.3" cy="549.7" r="1.6"/>
<circle cx="134.7" cy="540.9" r="1.6"/>
<circle cx="124.2" cy="563.4" r="1.6"/>
<circle cx="134.2" cy="554.9" r="1.6"/>
<circle cx="135.2" cy="510.3" r="1.6"/>
<circle cx="149.9" cy="524.9" r="1.6"/>
<circle cx="143.1" cy="541.2" r="1.6"/>
<circle cx="135.2" cy="515.3" r="1.6"/>
<circle cx="141.6" cy="539.1" r="1.6"/>
<circle cx="141.7" cy="518.5" r="1.6"/>
<circle cx="146.1" cy="504.6" r="1.6"/>
<circle cx="141.4" cy="528.1" r="1.6"/>
<circle cx="139.6" cy="536.2" r="1.6"/>
<circle cx="132.9" cy="553.6" r="1.6"/>
<circle cx="129.9" cy="543.5" r="1.6"/>
<circle cx="137.4" cy="519.3" r="1.6"/>
<circle cx="129.7" cy="522.8" r="1.6"/>
<circle cx="140.5" cy="504.8" r="1.6"/>
<circle cx="137.4" cy="517.3" r="1.6"/>
<circle cx="135.7" cy="504.9" r="1.6"/>
<circle cx="128.3" cy="516.9" r="1.6"/>
<circle cx="123.6" cy="491.0" r="1.6"/>
<circle cx="143.7" cy="558.2" r="1.6"/>
<circle cx="134.7" cy="546.0" r="1.6"/>
<circle cx="127.1" cy="528.4" r="1.6"/>
<circle cx="132.5" cy="502.9" r="1.6"/>
<circle cx="134.7" cy="540.7" r="1.6"/>
<circle cx="137.5" cy="514.1" r="1.6"/>
<circle cx="143.0" cy="512.4" r="1.6"/>
<circle cx="128.7" cy="535.7" r="1.6"/>
<circle cx="136.8" cy="536.0" r="1.6"/>
<circle cx="142.5" cy="527.3" r="1.6"/>
</g>
<g fill="#a6a6a6" fill-opacity="0.8">
<circle cx="122.9" cy="580.4" r="1.5"/>
<circle cx="124.1" cy="597.4" r="1.5"/>
<circle cx="146.0" cy="583.4" r="1.5"/>
<circle cx="115.9" cy="601.6" r="1.5"/>
<circle cx="122.7" cy="595.6" r="1.5"/>
<circle cx="127.1" cy="556.8" r="1.5"/>
<circle cx="130.1" cy="581.5" r="1.5"/>
<circle cx="137.1" cy="577.7" r="1.5"/>
<circle cx="123.1" cy="573.9" r="1.5"/>
<circle cx="118.5" cy="568.5" r="1.5"/>
<circle cx="110.5" cy="601.6" r="1.5"/>
<circle cx="136.4" cy="585.9" r="1.5"/>
<circle cx="119.8" cy="569.8" r="1.5"/>
<circle cx="118.6" cy="592.7" r="1.5"/>
<circle cx="121.5" cy="589.1" r="1.5"/>
<circle cx="129.4" cy="581.6" r="1.5"/>
<circle cx="120.8" cy="563.3" r="1.5"/>
<circle cx="107.1" cy="597.3" r="1.5"/>
<circle cx="131.4" cy="555.8" r="1.5"/>
<circle cx="124.5" cy="585.5" r="1.5"/>
<circle cx="136.7" cy="567.1" r="1.5"/>
<circle cx="134.5" cy="602.2" r="1.5"/>
<circle cx="122.2" cy="590.4" r="1.5"/>
<circle cx="111.9" cy="566.2" r="1.5"/>
<circle cx="131.3" cy="582.0" r="1.5"/>
<circle cx="120.9" cy="554.2" r="1.5"/>
<circle cx="130.6" cy="576.7" r="1.5"/>
<circle cx="129.0" cy="573.2" r="1.5"/>
<circle cx="110.1" cy="582.6" r="1.5"/>
<circle cx="126.6" cy="565.6" r="1.5"/>
<circle cx="110.8" cy="587.0" r="1.5"/>
<circle cx="117.3" cy="597.6" r="1.5"/>
<circle cx="135.3" cy="568.0" r="1.5"/>
<circle cx="137.5" cy="607.8" r="1.5"/>
<circle cx="114.9" cy="547.5" r="1.5"/>
<circle cx="108.6" cy="602.3" r="1.5"/>
<circle cx="125.9" cy="551.2" r="1.5"/>
<circle cx="130.4" cy="589.3" r="1.5"/>
<circle cx="129.5" cy="568.7" r="1.5"/>
<circle cx="126.4" cy="569.0" r="1.5"/>
<circle cx="132.4" cy="557.4" r="1.5"/>
<circle cx="138.2" cy="558.9" r="1.5"/>
<circle cx="122.0" cy="602.7" r="1.5"/>
<circle cx="129.4" cy="597.5" r="1.5"/>
<circle cx="147.9" cy="592.3" r="1.5"/>
<circle cx="103.9" cy="602.7" r="1.5"/>
<circle cx="127.8" cy="570.3" r="1.5"/>
<circle cx="130.5" cy="570.6" r="1.5"/>
<circle cx="115.3" cy="562.6" r="1.5"/>
<circle cx="116.2" cy="597.5" r="1.5"/>
<circle cx="133.3" cy="566.8" r="1.5"/>
<circle cx="113.6" cy="578.7" r="1.5"/>
<circle cx="134.5" cy="560.8" r="1.5"/>
<circle cx="112.2" cy="558.2" r="1.5"/>
<circle cx="96.0" cy="573.5" r="1.5"/>
<circle cx="127.7" cy="576.7" r="1.5"/>
<circle cx="124.8" cy="599.1" r="1.5"/>
<circle cx="122.2" cy="567.3" r="1.5"/>
<circle cx="113.7" cy="572.8" r="1.5"/>
<circle cx="121.8" cy="608.8" r="1.5"/>
<circle cx="117.1" cy="566.1" r="1.5"/>
<circle cx="107.0" cy="574.5" r="1.5"/>
<circle cx="127.2" cy="594.1" r="1.5"/>
<circle cx="121.0" cy="561.4" r="1.5"/>
<circle cx="131.3" cy="589.8" r="1.5"/>
<circle cx="134.5" cy="569.7" r="1.5"/>
<circle cx="125.0" cy="552.1" r="1.5"/>
<circle cx="131.5" cy="569.2" r="1.5"/>
<circle cx="133.9" cy="564.8" r="1.5"/>
<circle cx="137.2" cy="576.5" r="1.5"/>
<circle cx="104.7" cy="551.3" r="1.5"/>
<circle cx="132.3" cy="566.8" r="1.5"/>
<circle cx="124.2" cy="576.1" r="1.5"/>
<circle cx="124.8" cy="589.1" r="1.5"/>
<circle cx="131.9" cy="573.5" r="1.5"/>
<circle cx="113.5" cy="570.8" r="1.5"/>
<circle cx="120.2" cy="575.2" r="1.5"/>
<circle cx="129.5" cy="534.1" r="1.5"/>
<circle cx="112.3" cy="568.6" r="1.5"/>
<circle cx="131.3" cy="568.3" r="1.5"/>
<circle cx="139.6" cy="581.2" r="1.5"/>
<circle cx="120.2" cy="574.9" r="1.5"/>
<circle cx="109.1" cy="558.1" r="1.5"/>
<circle cx="110.4" cy="566.5" r="1.5"/>
<circle cx="136.5" cy="587.3" r="1.5"/>
<circle cx="121.8" cy="577.8" r="1.5"/>
<circle cx="142.1" cy="570.7" r="1.5"/>
<circle cx="104.9" cy="558.5" r="1.5"/>
<circle cx="134.8" cy="604.9" r="1.5"/>
<circle cx="94.6" cy="535.2" r="1.5"/>
<circle cx="124.6" cy="606.9" r="1.5"/>
<circle cx="135.0" cy="553.3" r="1.5"/>
<circle cx="98.2" cy="555.4" r="1.5"/>
<circle cx="131.3" cy="575.0" r="1.5"/>
<circle cx="116.2" cy="568.9" r="1.5"/>
<circle cx="115.0" cy="572.3" r="1.5"/>
<circle cx="121.0" cy="581.4" r="1.5"/>
<circle cx="129.6" cy="559.9" r="1.5"/>
<circle cx="133.2" cy="567.9" r="1.5"/>
<circle cx="141.8" cy="593.8" r="1.5"/>
<circle cx="124.4" cy="571.9" r="1.5"/>
<circle cx="136.8" cy="609.0" r="1.5"/>
<circle cx="119.0" cy="579.5" r="1.5"/>
<circle cx="125.8" cy="540.4" r="1.5"/>
<circle cx="126.3" cy="576.1" r="1.5"/>
<circle cx="128.3" cy="559.8" r="1.5"/>
<circle cx="121.9" cy="549.2" r="1.5"/>
<circle cx="110.7" cy="555.7" r="1.5"/>
<circle cx="131.3" cy="559.6" r="1.5"/>
<circle cx="140.4" cy="578.4" r="1.5"/>
<circle cx="143.3" cy="550.2" r="1.5"/>
<circle cx="123.2" cy="576.2" r="1.5"/>
<circle cx="119.7" cy="535.5" r="1.5"/>
<circle cx="90.0" cy="589.3" r="1.5"/>
<circle cx="136.6" cy="523.8" r="1.5"/>
<circle cx="133.1" cy="524.9" r="1.5"/>
<circle cx="133.9" cy="570.4" r="1.5"/>
<circle cx="104.2" cy="552.1" r="1.5"/>
<circle cx="169.4" cy="554.6" r="1.5"/>
<circle cx="114.5" cy="542.1" r="1.5"/>
<circle cx="107.9" cy="585.8" r="1.5"/>
<circle cx="157.2" cy="546.4" r="1.5"/>
<circle cx="154.3" cy="550.8" r="1.5"/>
<circle cx="132.8" cy="552.4" r="1.5"/>
<circle cx="128.7" cy="530.2" r="1.5"/>
<circle cx="109.6" cy="604.8" r="1.5"/>
<circle cx="118.3" cy="534.0" r="1.5"/>
<circle cx="124.4" cy="615.2" r="1.5"/>
<circle cx="191.6" cy="580.4" r="1.5"/>
<circle cx="131.3" cy="542.2" r="1.5"/>
<circle cx="142.4" cy="561.0" r="1.5"/>
<circle cx="104.3" cy="543.6" r="1.5"/>
<circle cx="115.7" cy="561.3" r="1.5"/>
<circle cx="150.1" cy="566.6" r="1.5"/>
<circle cx="99.6" cy="572.1" r="1.5"/>
<circle cx="147.2" cy="538.7" r="1.5"/>
<circle cx="109.4" cy="555.6" r="1.5"/>
<circle cx="141.0" cy="529.7" r="1.5"/>
<circle cx="143.1" cy="552.8" r="1.5"/>
<circle cx="129.1" cy="544.9" r="1.5"/>
<circle cx="150.4" cy="560.8" r="1.5"/>
<circle cx="129.5" cy="512.8" r="1.5"/>
<circle cx="134.3" cy="576.7" r="1.5"/>
<circle cx="148.5" cy="588.2" r="1.5"/>
<circle cx="113.7" cy="533.7" r="1.5"/>
<circle cx="135.6" cy="536.9" r="1.5"/>
<circle cx="150.5" cy="576.0" r="1.5"/>
<circle cx="145.1" cy="566.4" r="1.5"/>
<circle cx="139.4" cy="550.5" r="1.5"/>
<circle cx="133.5" cy="589.5" r="1.5"/>
<circle cx="220.4" cy="550.0" r="1.5" fill="#b8b8b8"/>
<circle cx="221.0" cy="576.0" r="1.5" fill="#b8b8b8"/>
<circle cx="179.0" cy="605.7" r="1.5" fill="#b8b8b8"/>
<circle cx="182.2" cy="501.0" r="1.5" fill="#b8b8b8"/>
<circle cx="160.0" cy="491.4" r="1.5" fill="#b8b8b8"/>
<circle cx="143.8" cy="468.8" r="1.5" fill="#b8b8b8"/>
<circle cx="156.3" cy="501.5" r="1.5" fill="#b8b8b8"/>
<circle cx="141.3" cy="480.0" r="1.5" fill="#b8b8b8"/>
<circle cx="142.9" cy="490.8" r="1.5" fill="#b8b8b8"/>
<circle cx="128.8" cy="503.8" r="1.5" fill="#b8b8b8"/>
<circle cx="70.0" cy="598.0" r="1.5" fill="#b8b8b8"/>
<circle cx="100.0" cy="560.0" r="1.5" fill="#b8b8b8"/>
<circle cx="168.0" cy="515.0" r="1.5" fill="#b8b8b8"/>
<circle cx="175.0" cy="525.0" r="1.5" fill="#b8b8b8"/>
<circle cx="190.0" cy="545.0" r="1.5" fill="#b8b8b8"/>
<circle cx="205.0" cy="560.0" r="1.5" fill="#b8b8b8"/>
<circle cx="160.0" cy="585.0" r="1.5" fill="#b8b8b8"/>
<circle cx="150.0" cy="600.0" r="1.5" fill="#b8b8b8"/>
</g>
<line x1="115.4" y1="483" x2="124" y2="562" stroke="#bb4a94" stroke-width="0.7"/>
<line x1="109.6" y1="492" x2="121" y2="563" stroke="#2fa2dd" stroke-width="0.7"/>
<line x1="123.7" y1="493" x2="124.5" y2="561" stroke="#2fa2dd" stroke-width="0.7"/>
<line x1="104.4" y1="502.5" x2="119" y2="563" stroke="#2fa2dd" stroke-width="0.7"/>
<line x1="129.2" y1="501" x2="127" y2="561" stroke="#bb4a94" stroke-width="0.7"/>
<line x1="99.6" y1="512.5" x2="117" y2="564" stroke="#2fa2dd" stroke-width="0.7"/>
<line x1="135.6" y1="511" x2="128.5" y2="562" stroke="#2fa2dd" stroke-width="0.7"/>
<line x1="163.9" y1="511.5" x2="130" y2="563" stroke="#bb4a94" stroke-width="0.7"/>
<line x1="100" y1="525.4" x2="118" y2="566" stroke="#2fa2dd" stroke-width="0.7"/>
<line x1="77" y1="527.3" x2="114" y2="566" stroke="#bb4a94" stroke-width="0.7"/>
<line x1="134.6" y1="519.6" x2="129" y2="563" stroke="#bb4a94" stroke-width="0.7"/>
<line x1="169.6" y1="519.8" x2="131" y2="564" stroke="#2fa2dd" stroke-width="0.7"/>
<line x1="98" y1="537" x2="118" y2="566" stroke="#2fa2dd" stroke-width="0.7"/>
<line x1="78.5" y1="535" x2="116" y2="567" stroke="#2fa2dd" stroke-width="0.7"/>
<line x1="134.6" y1="526.5" x2="130" y2="565" stroke="#2fa2dd" stroke-width="0.7"/>
<line x1="161.4" y1="534" x2="131" y2="566" stroke="#bb4a94" stroke-width="0.7"/>
<line x1="195.3" y1="534.9" x2="133" y2="565" stroke="#2fa2dd" stroke-width="0.7"/>
<line x1="156.3" y1="540.4" x2="132" y2="566" stroke="#2fa2dd" stroke-width="0.7"/>
<line x1="192.8" y1="540.9" x2="134" y2="566" stroke="#bb4a94" stroke-width="0.7"/>
<line x1="78.8" y1="544.6" x2="117" y2="569" stroke="#2fa2dd" stroke-width="0.7"/>
<line x1="179.7" y1="552.5" x2="136" y2="567" stroke="#2fa2dd" stroke-width="0.7"/>
<line x1="75" y1="554" x2="100" y2="559.2" stroke="#2fa2dd" stroke-width="0.7"/>
<line x1="103" y1="557" x2="121" y2="565" stroke="#bb4a94" stroke-width="0.7"/>
<line x1="179" y1="560" x2="137" y2="568" stroke="#2fa2dd" stroke-width="0.7"/>
<line x1="70" y1="562.5" x2="98.5" y2="564.2" stroke="#2fa2dd" stroke-width="0.7"/>
<line x1="171.4" y1="565" x2="138" y2="569" stroke="#2fa2dd" stroke-width="0.7"/>
<line x1="75" y1="571" x2="91.5" y2="573.8" stroke="#2fa2dd" stroke-width="0.7"/>
<line x1="110" y1="572" x2="117" y2="569" stroke="#2fa2dd" stroke-width="0.7"/>
<line x1="163.9" y1="573.6" x2="137" y2="571" stroke="#2fa2dd" stroke-width="0.7"/>
<line x1="78" y1="578" x2="109.2" y2="568.5" stroke="#2fa2dd" stroke-width="0.7"/>
<line x1="176.4" y1="581.9" x2="138" y2="574" stroke="#2fa2dd" stroke-width="0.7"/>
<line x1="73" y1="585" x2="93" y2="582.3" stroke="#2fa2dd" stroke-width="0.7"/>
<line x1="156.3" y1="590" x2="136" y2="576" stroke="#2fa2dd" stroke-width="0.7"/>
<line x1="186.5" y1="590" x2="139" y2="576" stroke="#2fa2dd" stroke-width="0.7"/>
<line x1="116" y1="591" x2="127" y2="576" stroke="#bb4a94" stroke-width="0.7"/>
<line x1="80" y1="593.5" x2="96.9" y2="586.5" stroke="#2fa2dd" stroke-width="0.7"/>
<line x1="152" y1="597" x2="134" y2="578" stroke="#2fa2dd" stroke-width="0.7"/>
<line x1="117" y1="599.5" x2="121" y2="583" stroke="#2fa2dd" stroke-width="0.7"/>
<line x1="72" y1="604" x2="105.4" y2="588.5" stroke="#2fa2dd" stroke-width="0.7"/>
<line x1="94" y1="605" x2="108.5" y2="593.8" stroke="#bb4a94" stroke-width="0.7"/>
<line x1="148" y1="605" x2="133.8" y2="593" stroke="#2fa2dd" stroke-width="0.7"/>
<line x1="76" y1="612" x2="116" y2="578.5" stroke="#2fa2dd" stroke-width="0.7"/>
<line x1="117" y1="613" x2="122.3" y2="587" stroke="#2fa2dd" stroke-width="0.7"/>
<line x1="144" y1="613" x2="133" y2="577" stroke="#2fa2dd" stroke-width="0.7"/>
<line x1="96" y1="614" x2="113.8" y2="580" stroke="#bb4a94" stroke-width="0.7"/>
<line x1="82" y1="620" x2="118.5" y2="582.3" stroke="#2fa2dd" stroke-width="0.7"/>
<line x1="106" y1="621" x2="120" y2="585" stroke="#2fa2dd" stroke-width="0.7"/>
<line x1="140" y1="621" x2="128" y2="583" stroke="#2fa2dd" stroke-width="0.7"/>
<circle cx="124" cy="562" r="1.6" fill="#bb4a94"/>
<circle cx="121" cy="563" r="1.6" fill="#2fa2dd"/>
<circle cx="124.5" cy="561" r="1.6" fill="#2fa2dd"/>
<circle cx="119" cy="563" r="1.6" fill="#2fa2dd"/>
<circle cx="127" cy="561" r="1.6" fill="#bb4a94"/>
<circle cx="117" cy="564" r="1.6" fill="#2fa2dd"/>
<circle cx="128.5" cy="562" r="1.6" fill="#2fa2dd"/>
<circle cx="130" cy="563" r="1.6" fill="#bb4a94"/>
<circle cx="118" cy="566" r="1.6" fill="#2fa2dd"/>
<circle cx="114" cy="566" r="1.6" fill="#bb4a94"/>
<circle cx="129" cy="563" r="1.6" fill="#bb4a94"/>
<circle cx="131" cy="564" r="1.6" fill="#2fa2dd"/>
<circle cx="118" cy="566" r="1.6" fill="#2fa2dd"/>
<circle cx="116" cy="567" r="1.6" fill="#2fa2dd"/>
<circle cx="130" cy="565" r="1.6" fill="#2fa2dd"/>
<circle cx="131" cy="566" r="1.6" fill="#bb4a94"/>
<circle cx="133" cy="565" r="1.6" fill="#2fa2dd"/>
<circle cx="132" cy="566" r="1.6" fill="#2fa2dd"/>
<circle cx="134" cy="566" r="1.6" fill="#bb4a94"/>
<circle cx="117" cy="569" r="1.6" fill="#2fa2dd"/>
<circle cx="136" cy="567" r="1.6" fill="#2fa2dd"/>
<circle cx="100" cy="559.2" r="1.6" fill="#2fa2dd"/>
<circle cx="121" cy="565" r="1.6" fill="#bb4a94"/>
<circle cx="137" cy="568" r="1.6" fill="#2fa2dd"/>
<circle cx="98.5" cy="564.2" r="1.6" fill="#2fa2dd"/>
<circle cx="138" cy="569" r="1.6" fill="#2fa2dd"/>
<circle cx="91.5" cy="573.8" r="1.6" fill="#2fa2dd"/>
<circle cx="117" cy="569" r="1.6" fill="#2fa2dd"/>
<circle cx="137" cy="571" r="1.6" fill="#2fa2dd"/>
<circle cx="109.2" cy="568.5" r="1.6" fill="#2fa2dd"/>
<circle cx="138" cy="574" r="1.6" fill="#2fa2dd"/>
<circle cx="93" cy="582.3" r="1.6" fill="#2fa2dd"/>
<circle cx="136" cy="576" r="1.6" fill="#2fa2dd"/>
<circle cx="139" cy="576" r="1.6" fill="#2fa2dd"/>
<circle cx="127" cy="576" r="1.6" fill="#bb4a94"/>
<circle cx="96.9" cy="586.5" r="1.6" fill="#2fa2dd"/>
<circle cx="134" cy="578" r="1.6" fill="#2fa2dd"/>
<circle cx="121" cy="583" r="1.6" fill="#2fa2dd"/>
<circle cx="105.4" cy="588.5" r="1.6" fill="#2fa2dd"/>
<circle cx="108.5" cy="593.8" r="1.6" fill="#bb4a94"/>
<circle cx="133.8" cy="593" r="1.6" fill="#2fa2dd"/>
<circle cx="116" cy="578.5" r="1.6" fill="#2fa2dd"/>
<circle cx="122.3" cy="587" r="1.6" fill="#2fa2dd"/>
<circle cx="133" cy="577" r="1.6" fill="#2fa2dd"/>
<circle cx="113.8" cy="580" r="1.6" fill="#bb4a94"/>
<circle cx="118.5" cy="582.3" r="1.6" fill="#2fa2dd"/>
<circle cx="120" cy="585" r="1.6" fill="#2fa2dd"/>
<circle cx="128" cy="583" r="1.6" fill="#2fa2dd"/>
</g>
<text x="91.25" y="480.6" font-size="6.9" fill="#bb4a94" stroke="#bb4a94" font-style="italic" textLength="27.5" lengthAdjust="spacingAndGlyphs">Rnaseh2a</text>
<text x="87.5" y="489.6" font-size="6.9" fill="#2fa2dd" stroke="#2fa2dd" font-style="italic" textLength="22.5" lengthAdjust="spacingAndGlyphs">Cdc25a</text>
<text x="121.25" y="490.2" font-size="6.9" fill="#2fa2dd" stroke="#2fa2dd" font-style="italic" textLength="14.5" lengthAdjust="spacingAndGlyphs">Anln</text>
<text x="93" y="499.9" font-size="6.9" fill="#2fa2dd" stroke="#2fa2dd" font-style="italic" textLength="14.0" lengthAdjust="spacingAndGlyphs">Hells</text>
<text x="127.5" y="499.6" font-size="6.9" fill="#bb4a94" stroke="#bb4a94" font-style="italic" textLength="20.5" lengthAdjust="spacingAndGlyphs">Wdhd1</text>
<text x="81.75" y="510" font-size="6.9" fill="#2fa2dd" stroke="#2fa2dd" font-style="italic" textLength="17.75" lengthAdjust="spacingAndGlyphs">Spc25</text>
<text x="132.5" y="510" font-size="6.9" fill="#2fa2dd" stroke="#2fa2dd" font-style="italic" textLength="17.5" lengthAdjust="spacingAndGlyphs">Cks1b</text>
<text x="166.25" y="508.8" font-size="6.9" fill="#bb4a94" stroke="#bb4a94" font-style="italic" textLength="8.75" lengthAdjust="spacingAndGlyphs">Dtl</text>
<text x="85.75" y="524" font-size="6.9" fill="#2fa2dd" stroke="#2fa2dd" font-style="italic" textLength="13.75" lengthAdjust="spacingAndGlyphs">Ugl1</text>
<text x="62" y="525" font-size="6.9" fill="#bb4a94" stroke="#bb4a94" font-style="italic" textLength="16.0" lengthAdjust="spacingAndGlyphs">Msh2</text>
<text x="133.25" y="519" font-size="6.9" fill="#bb4a94" stroke="#bb4a94" font-style="italic" textLength="20.5" lengthAdjust="spacingAndGlyphs">Chaf1a</text>
<text x="169.5" y="518.3" font-size="6.9" fill="#2fa2dd" stroke="#2fa2dd" font-style="italic" textLength="15.5" lengthAdjust="spacingAndGlyphs">Cdc6</text>
<text x="85.75" y="534" font-size="6.9" fill="#2fa2dd" stroke="#2fa2dd" font-style="italic" textLength="15.0" lengthAdjust="spacingAndGlyphs">Cdk1</text>
<text x="60.5" y="535.8" font-size="6.9" fill="#2fa2dd" stroke="#2fa2dd" font-style="italic" textLength="15.0" lengthAdjust="spacingAndGlyphs">Nudc</text>
<text x="134.5" y="529.5" font-size="6.9" fill="#2fa2dd" stroke="#2fa2dd" font-style="italic" textLength="14.75" lengthAdjust="spacingAndGlyphs">Birc5</text>
<text x="161.25" y="535" font-size="6.9" fill="#bb4a94" stroke="#bb4a94" font-style="italic" textLength="16.75" lengthAdjust="spacingAndGlyphs">Ssrp1</text>
<text x="195.75" y="536.6" font-size="6.9" fill="#2fa2dd" stroke="#2fa2dd" font-style="italic" textLength="17.25" lengthAdjust="spacingAndGlyphs">Tfdp1</text>
<text x="156.25" y="542" font-size="6.9" fill="#2fa2dd" stroke="#2fa2dd" font-style="italic" textLength="18.75" lengthAdjust="spacingAndGlyphs">Spag5</text>
<text x="193" y="543.8" font-size="6.9" fill="#bb4a94" stroke="#bb4a94" font-style="italic" textLength="15.0" lengthAdjust="spacingAndGlyphs">Tdp1</text>
<text x="63.75" y="545.8" font-size="6.9" fill="#2fa2dd" stroke="#2fa2dd" font-style="italic" textLength="13.75" lengthAdjust="spacingAndGlyphs">Dbf4</text>
<text x="180" y="554.5" font-size="6.9" fill="#2fa2dd" stroke="#2fa2dd" font-style="italic" textLength="22.5" lengthAdjust="spacingAndGlyphs">Ranbp1</text>
<text x="53" y="557" font-size="6.9" fill="#2fa2dd" stroke="#2fa2dd" font-style="italic" textLength="22.0" lengthAdjust="spacingAndGlyphs">Unc119</text>
<text x="79.5" y="559" font-size="6.9" fill="#bb4a94" stroke="#bb4a94" font-style="italic" textLength="23.5" lengthAdjust="spacingAndGlyphs">Timeless</text>
<text x="179.5" y="561.5" font-size="6.9" fill="#2fa2dd" stroke="#2fa2dd" font-style="italic" textLength="18.0" lengthAdjust="spacingAndGlyphs">Ube2s</text>
<text x="55.5" y="565" font-size="6.9" fill="#2fa2dd" stroke="#2fa2dd" font-style="italic" textLength="13.25" lengthAdjust="spacingAndGlyphs">Ska1</text>
<text x="172" y="567" font-size="6.9" fill="#2fa2dd" stroke="#2fa2dd" font-style="italic" textLength="11.0" lengthAdjust="spacingAndGlyphs">Ran</text>
<text x="60" y="573.2" font-size="6.9" fill="#2fa2dd" stroke="#2fa2dd" font-style="italic" textLength="14.25" lengthAdjust="spacingAndGlyphs">Tipin</text>
<text x="91.25" y="575.5" font-size="6.9" fill="#2fa2dd" stroke="#2fa2dd" font-style="italic" textLength="18.75" lengthAdjust="spacingAndGlyphs">Kif18b</text>
<text x="164.5" y="575.8" font-size="6.9" fill="#2fa2dd" stroke="#2fa2dd" font-style="italic" textLength="25.0" lengthAdjust="spacingAndGlyphs">Racgap1</text>
<text x="55" y="581.3" font-size="6.9" fill="#2fa2dd" stroke="#2fa2dd" font-style="italic" textLength="22.5" lengthAdjust="spacingAndGlyphs">Slc16a1</text>
<text x="177" y="584.5" font-size="6.9" fill="#2fa2dd" stroke="#2fa2dd" font-style="italic" textLength="17.5" lengthAdjust="spacingAndGlyphs">Ccna2</text>
<text x="54.25" y="590" font-size="6.9" fill="#2fa2dd" stroke="#2fa2dd" font-style="italic" textLength="18.25" lengthAdjust="spacingAndGlyphs">Ccnb1</text>
<text x="156.25" y="592.5" font-size="6.9" fill="#2fa2dd" stroke="#2fa2dd" font-style="italic" textLength="18.75" lengthAdjust="spacingAndGlyphs">Stmn1</text>
<text x="190" y="594.5" font-size="6.9" fill="#2fa2dd" stroke="#2fa2dd" font-style="italic" textLength="15.0" lengthAdjust="spacingAndGlyphs">Phb2</text>
<text x="113" y="594.8" font-size="6.9" fill="#bb4a94" stroke="#bb4a94" font-style="italic" textLength="15.75" lengthAdjust="spacingAndGlyphs">Dna2</text>
<text x="58.75" y="597.8" font-size="6.9" fill="#2fa2dd" stroke="#2fa2dd" font-style="italic" textLength="19.25" lengthAdjust="spacingAndGlyphs">Cdc20</text>
<text x="152.5" y="600" font-size="6.9" fill="#2fa2dd" stroke="#2fa2dd" font-style="italic" textLength="19.5" lengthAdjust="spacingAndGlyphs">Bub1b</text>
<text x="113" y="603.5" font-size="6.9" fill="#2fa2dd" stroke="#2fa2dd" font-style="italic" textLength="19.0" lengthAdjust="spacingAndGlyphs">Ccnb2</text>
<text x="53.25" y="608.2" font-size="6.9" fill="#2fa2dd" stroke="#2fa2dd" font-style="italic" textLength="19.25" lengthAdjust="spacingAndGlyphs">Phdgh</text>
<text x="77.5" y="608.8" font-size="6.9" fill="#bb4a94" stroke="#bb4a94" font-style="italic" textLength="17.0" lengthAdjust="spacingAndGlyphs">Pold2</text>
<text x="147.5" y="608.8" font-size="6.9" fill="#2fa2dd" stroke="#2fa2dd" font-style="italic" textLength="18.75" lengthAdjust="spacingAndGlyphs">Kif20a</text>
<text x="60.75" y="616" font-size="6.9" fill="#2fa2dd" stroke="#2fa2dd" font-style="italic" textLength="14.75" lengthAdjust="spacingAndGlyphs">Lzts2</text>
<text x="113.75" y="617" font-size="6.9" fill="#2fa2dd" stroke="#2fa2dd" font-style="italic" textLength="12.5" lengthAdjust="spacingAndGlyphs">Plk1</text>
<text x="143" y="617" font-size="6.9" fill="#2fa2dd" stroke="#2fa2dd" font-style="italic" textLength="18.25" lengthAdjust="spacingAndGlyphs">Ube2c</text>
<text x="90" y="617.5" font-size="6.9" fill="#bb4a94" stroke="#bb4a94" font-style="italic" textLength="19.25" lengthAdjust="spacingAndGlyphs">Apex1</text>
<text x="65.5" y="624.5" font-size="6.9" fill="#2fa2dd" stroke="#2fa2dd" font-style="italic" textLength="17.0" lengthAdjust="spacingAndGlyphs">Mybl2</text>
<text x="100.75" y="625.5" font-size="6.9" fill="#2fa2dd" stroke="#2fa2dd" font-style="italic" textLength="14.75" lengthAdjust="spacingAndGlyphs">Cdk4</text>
<text x="137.5" y="625.5" font-size="6.9" fill="#2fa2dd" stroke="#2fa2dd" font-style="italic" textLength="28.75" lengthAdjust="spacingAndGlyphs">Mis18bp1</text>
<rect x="51.75" y="464.2" width="185.0" height="164.55" fill="none" stroke="#111" stroke-width="1.3"/>
<circle cx="199.5" cy="471.8" r="1.8" fill="#bb4a94"/>
<circle cx="199.5" cy="482.5" r="1.8" fill="#2fa2dd"/>
<text x="204.3" y="473.8" font-size="5.7" fill="#bb4a94" stroke="#bb4a94" textLength="27.7" lengthAdjust="spacingAndGlyphs">DNA repair</text>
<text x="204.3" y="484.5" font-size="5.7" fill="#2fa2dd" stroke="#2fa2dd" textLength="23.2" lengthAdjust="spacingAndGlyphs">Cell cycle</text>
<line x1="48.75" y1="470.10" x2="51.75" y2="470.10" stroke="#222" stroke-width="0.9"/>
<text x="45.8" y="472.40000000000003" font-size="6.4" fill="#222" stroke="#222" text-anchor="end">1.5</text>
<line x1="48.75" y1="495.60" x2="51.75" y2="495.60" stroke="#222" stroke-width="0.9"/>
<text x="45.8" y="497.90000000000003" font-size="6.4" fill="#222" stroke="#222" text-anchor="end">1.0</text>
<line x1="48.75" y1="521.10" x2="51.75" y2="521.10" stroke="#222" stroke-width="0.9"/>
<text x="45.8" y="523.4" font-size="6.4" fill="#222" stroke="#222" text-anchor="end">0.5</text>
<line x1="48.75" y1="546.60" x2="51.75" y2="546.60" stroke="#222" stroke-width="0.9"/>
<text x="45.8" y="548.9" font-size="6.4" fill="#222" stroke="#222" text-anchor="end">0.0</text>
<line x1="48.75" y1="572.10" x2="51.75" y2="572.10" stroke="#222" stroke-width="0.9"/>
<text x="45.8" y="574.4" font-size="6.4" fill="#222" stroke="#222" text-anchor="end">-0.5</text>
<line x1="48.75" y1="597.60" x2="51.75" y2="597.60" stroke="#222" stroke-width="0.9"/>
<text x="45.8" y="599.9" font-size="6.4" fill="#222" stroke="#222" text-anchor="end">-1.0</text>
<line x1="48.75" y1="623.10" x2="51.75" y2="623.10" stroke="#222" stroke-width="0.9"/>
<text x="45.8" y="625.4" font-size="6.4" fill="#222" stroke="#222" text-anchor="end">-1.5</text>
<line x1="58.20" y1="628.75" x2="58.20" y2="631.75" stroke="#222" stroke-width="0.9"/>
<text x="58.19999999999999" y="640.5" font-size="6.4" fill="#222" stroke="#222" text-anchor="middle">-3</text>
<line x1="86.70" y1="628.75" x2="86.70" y2="631.75" stroke="#222" stroke-width="0.9"/>
<text x="86.69999999999999" y="640.5" font-size="6.4" fill="#222" stroke="#222" text-anchor="middle">-2</text>
<line x1="115.20" y1="628.75" x2="115.20" y2="631.75" stroke="#222" stroke-width="0.9"/>
<text x="115.19999999999999" y="640.5" font-size="6.4" fill="#222" stroke="#222" text-anchor="middle">-1</text>
<line x1="143.70" y1="628.75" x2="143.70" y2="631.75" stroke="#222" stroke-width="0.9"/>
<text x="143.7" y="640.5" font-size="6.4" fill="#222" stroke="#222" text-anchor="middle">0</text>
<line x1="172.20" y1="628.75" x2="172.20" y2="631.75" stroke="#222" stroke-width="0.9"/>
<text x="172.2" y="640.5" font-size="6.4" fill="#222" stroke="#222" text-anchor="middle">1</text>
<line x1="200.70" y1="628.75" x2="200.70" y2="631.75" stroke="#222" stroke-width="0.9"/>
<text x="200.7" y="640.5" font-size="6.4" fill="#222" stroke="#222" text-anchor="middle">2</text>
<line x1="229.20" y1="628.75" x2="229.20" y2="631.75" stroke="#222" stroke-width="0.9"/>
<text x="229.2" y="640.5" font-size="6.4" fill="#222" stroke="#222" text-anchor="middle">3</text>
<text x="100" y="656.4" font-size="9.5" fill="#222" textLength="85.9" lengthAdjust="spacingAndGlyphs">Log<tspan font-size="5.5" dy="2">2</tspan><tspan dy="-2"> FC (</tspan><tspan font-style="italic">Tip60</tspan><tspan font-style="italic" font-size="5" dy="-3">Δ/Δ</tspan><tspan dy="3">/</tspan><tspan font-style="italic">Tip60</tspan><tspan font-style="italic" font-size="5" dy="-3">f/f</tspan><tspan dy="3">) in</tspan></text>
<text x="89.6" y="666.8" font-size="9.5" fill="#222" stroke="#222" textLength="108.6" lengthAdjust="spacingAndGlyphs">acH2A.Z / H2A.Z ratio from ChIP-seq</text>
<g transform="translate(20.9,542.7) rotate(-90)">
<text x="0" y="0" font-size="9.5" fill="#222" text-anchor="middle" textLength="86" lengthAdjust="spacingAndGlyphs">Log<tspan font-size="5.5" dy="2">2</tspan><tspan dy="-2"> FC (</tspan><tspan font-style="italic">Tip60</tspan><tspan font-style="italic" font-size="5" dy="-3">Δ/Δ</tspan><tspan dy="3">/</tspan><tspan font-style="italic">Tip60</tspan><tspan font-style="italic" font-size="5" dy="-3">f/f</tspan><tspan dy="3">) in</tspan></text>
<text x="-1.3" y="9.3" font-size="9.5" fill="#222" text-anchor="middle" textLength="88.5" lengthAdjust="spacingAndGlyphs">gene expression from RNA-seq</text>
</g>
<line x1="270" y1="499.7" x2="377" y2="499.7" stroke="#111" stroke-width="2.6"/>
<line x1="312" y1="499.9" x2="337" y2="499.9" stroke="#111" stroke-width="3.2"/>
<path d="M281.3,499.2 L283.4,496.6 L285.5,499.2 L283.8,502.6 Z" fill="#fafafa" stroke="#777" stroke-width="0.5"/>
<line x1="282.2" y1="498.2" x2="284.3" y2="501.6" stroke="#222" stroke-width="0.8"/>
<path d="M286.6,499.2 L288.7,496.6 L290.8,499.2 L289.1,502.6 Z" fill="#fafafa" stroke="#777" stroke-width="0.5"/>
<line x1="287.5" y1="498.2" x2="289.6" y2="501.6" stroke="#222" stroke-width="0.8"/>
<path d="M291.9,499.2 L294.0,496.6 L296.1,499.2 L294.4,502.6 Z" fill="#fafafa" stroke="#777" stroke-width="0.5"/>
<line x1="292.8" y1="498.2" x2="294.9" y2="501.6" stroke="#222" stroke-width="0.8"/>
<path d="M297.2,499.2 L299.3,496.6 L301.4,499.2 L299.7,502.6 Z" fill="#fafafa" stroke="#777" stroke-width="0.5"/>
<line x1="298.1" y1="498.2" x2="300.2" y2="501.6" stroke="#222" stroke-width="0.8"/>
<path d="M302.5,499.2 L304.6,496.6 L306.7,499.2 L305.0,502.6 Z" fill="#fafafa" stroke="#777" stroke-width="0.5"/>
<line x1="303.4" y1="498.2" x2="305.5" y2="501.6" stroke="#222" stroke-width="0.8"/>
<path d="M307.8,499.2 L309.9,496.6 L312.0,499.2 L310.3,502.6 Z" fill="#fafafa" stroke="#777" stroke-width="0.5"/>
<line x1="308.7" y1="498.2" x2="310.8" y2="501.6" stroke="#222" stroke-width="0.8"/>
<path d="M337.1,499.2 L339.2,496.6 L341.3,499.2 L339.6,502.6 Z" fill="#fafafa" stroke="#777" stroke-width="0.5"/>
<line x1="338.0" y1="498.2" x2="340.1" y2="501.6" stroke="#222" stroke-width="0.8"/>
<path d="M342.4,499.2 L344.5,496.6 L346.6,499.2 L344.9,502.6 Z" fill="#fafafa" stroke="#777" stroke-width="0.5"/>
<line x1="343.3" y1="498.2" x2="345.4" y2="501.6" stroke="#222" stroke-width="0.8"/>
<path d="M347.7,499.2 L349.8,496.6 L351.9,499.2 L350.2,502.6 Z" fill="#fafafa" stroke="#777" stroke-width="0.5"/>
<line x1="348.6" y1="498.2" x2="350.7" y2="501.6" stroke="#222" stroke-width="0.8"/>
<path d="M353.0,499.2 L355.1,496.6 L357.2,499.2 L355.5,502.6 Z" fill="#fafafa" stroke="#777" stroke-width="0.5"/>
<line x1="353.9" y1="498.2" x2="356.0" y2="501.6" stroke="#222" stroke-width="0.8"/>
<path d="M358.3,499.2 L360.4,496.6 L362.5,499.2 L360.8,502.6 Z" fill="#fafafa" stroke="#777" stroke-width="0.5"/>
<line x1="359.2" y1="498.2" x2="361.3" y2="501.6" stroke="#222" stroke-width="0.8"/>
<path d="M363.6,499.2 L365.7,496.6 L367.8,499.2 L366.1,502.6 Z" fill="#fafafa" stroke="#777" stroke-width="0.5"/>
<line x1="364.5" y1="498.2" x2="366.6" y2="501.6" stroke="#222" stroke-width="0.8"/>
<path d="M336.5,499 L336.5,491.5 L370,491.5" fill="none" stroke="#111" stroke-width="1.3"/>
<path d="M369,488.5 L374.5,491.5 L369,494.5 Z" fill="#111"/>
<text x="340.5" y="486.3" font-size="6.9" fill="#222" stroke="#222" textLength="37.5" lengthAdjust="spacingAndGlyphs">Target genes</text>
<circle cx="323.6" cy="487.3" r="10.9" fill="url(#mycg)" stroke="#111" stroke-width="1.1"/>
<text x="323.8" y="490" font-size="6.8" fill="#222" stroke="#222" text-anchor="middle" textLength="12" lengthAdjust="spacingAndGlyphs">Myc</text>
<ellipse cx="324.5" cy="511.7" rx="19.4" ry="11" fill="url(#tipg)" stroke="#111" stroke-width="1.1"/>
<text x="324.5" y="514.4" font-size="9.2" fill="#111" stroke="#111" text-anchor="middle" font-weight="bold" textLength="22.2" lengthAdjust="spacingAndGlyphs">Tip60</text>
<text x="272" y="511.6" font-size="7" fill="#333" stroke="#333" textLength="25.5" lengthAdjust="spacingAndGlyphs">acH2A.Z</text>
<text x="348" y="511.6" font-size="7" fill="#333" stroke="#333" textLength="24.5" lengthAdjust="spacingAndGlyphs">acH2A.Z</text>
<path d="M301.5,517.5 Q296,521.5 289.5,517.8" fill="none" stroke="#222" stroke-width="0.9"/>
<path d="M287.5,516 L291.5,516.2 L289.6,519.4 Z" fill="#222"/>
<path d="M347.5,517.5 Q353,521.5 359.5,517.8" fill="none" stroke="#222" stroke-width="0.9"/>
<path d="M361.5,516 L357.5,516.2 L359.4,519.4 Z" fill="#222"/>
<text x="412.2" y="479.3" font-size="6.9" fill="#222" stroke="#222" text-anchor="middle" textLength="33.2" lengthAdjust="spacingAndGlyphs">DNA repair</text>
<text x="412" y="489.8" font-size="6.9" fill="#222" stroke="#222" text-anchor="middle" textLength="27.5" lengthAdjust="spacingAndGlyphs">Cell cycle</text>
<path d="M410.3,497.5 L414.7,497.5 L414.7,503.6 L417.7,503.6 L412.5,509 L407.3,503.6 L410.3,503.6 Z" fill="#111"/>
<circle cx="413.4" cy="530.8" r="17.8" fill="url(#hsc)" stroke="#333" stroke-width="1"/>
<text x="413.4" y="533.1" font-size="9" fill="#222" stroke="#222" text-anchor="middle" textLength="16.7" lengthAdjust="spacingAndGlyphs">HSC</text>
<rect x="0.5" y="0.5" width="519" height="675" fill="none" stroke="#000" stroke-width="1"/>
</svg></body></html>
